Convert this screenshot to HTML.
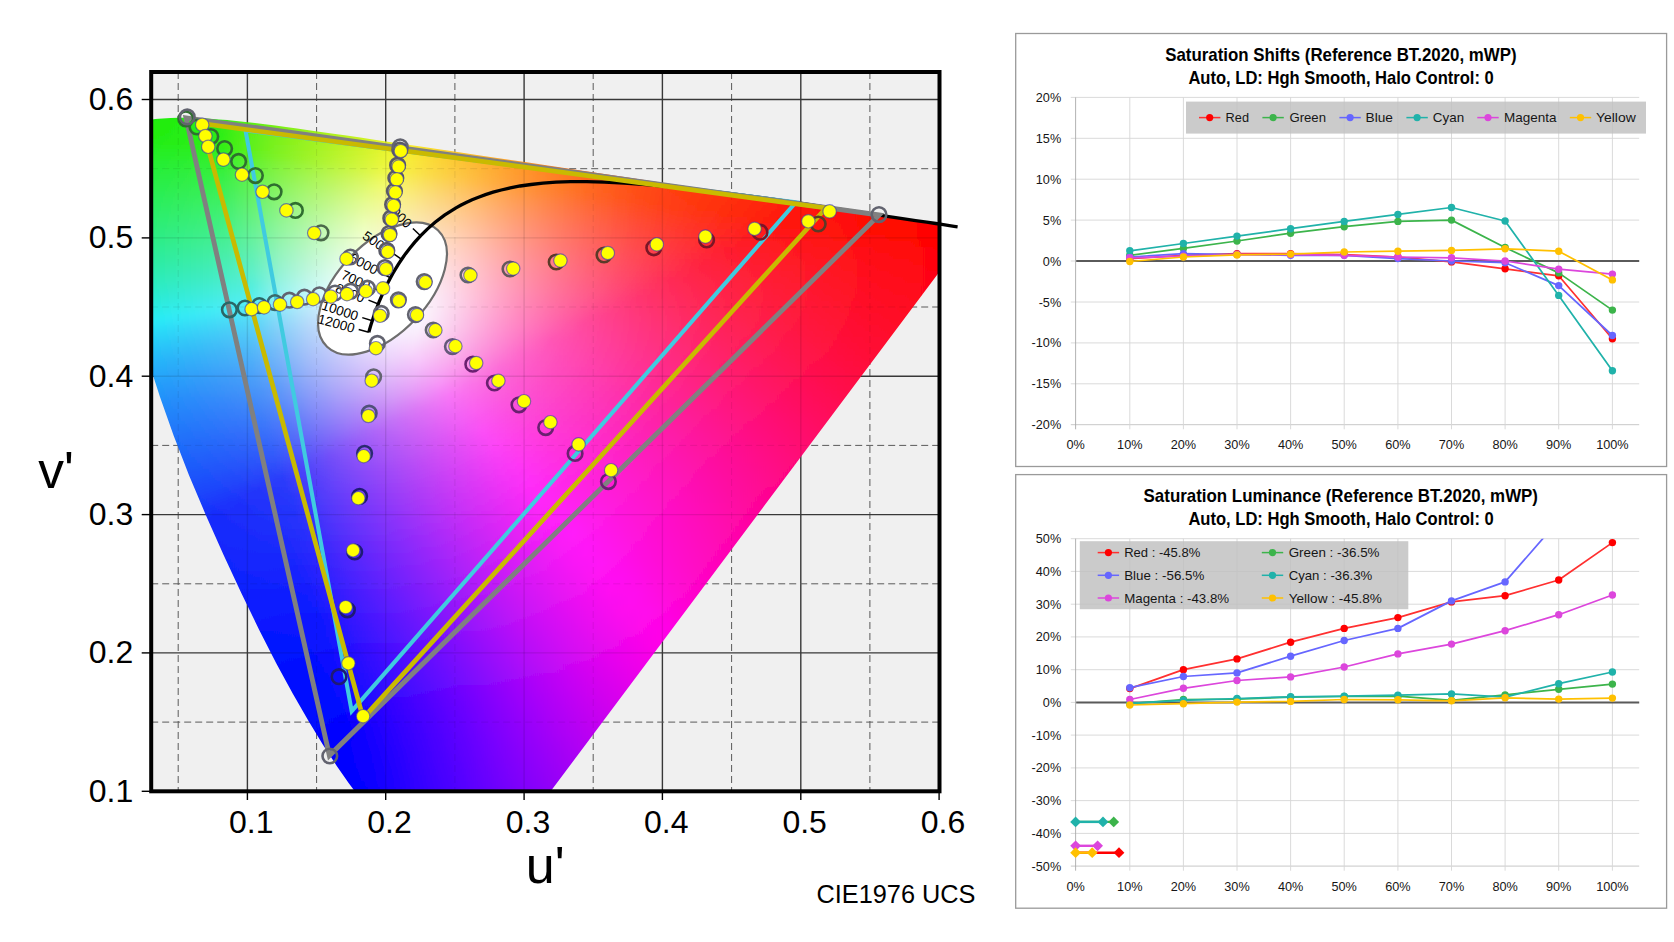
<!DOCTYPE html><html><head><meta charset="utf-8"><title>CIE1976 UCS saturation</title>
<style>html,body{margin:0;padding:0;background:#fff}svg{display:block}text{font-family:"Liberation Sans",Arial,sans-serif}</style></head><body>
<svg width="1674" height="942" viewBox="0 0 1674 942">
<defs>
<clipPath id="frame"><rect x="151.2" y="72.0" width="788.3" height="719.3"/></clipPath>
<clipPath id="loc"><path d="M464.3 906.7 L464.2 906.8 L464.2 906.8 L464.0 906.9 L463.9 907.0 L463.8 907.2 L463.6 907.3 L463.5 907.4 L463.3 907.5 L463.0 907.6 L462.8 907.6 L462.5 907.6 L462.2 907.7 L461.9 907.7 L461.6 907.6 L461.2 907.6 L460.8 907.6 L460.3 907.5 L459.7 907.3 L458.9 906.9 L458.0 906.3 L456.8 905.4 L455.4 904.1 L453.7 902.6 L451.8 900.6 L449.5 898.4 L447.0 895.7 L444.2 892.6 L441.1 889.2 L437.6 885.4 L433.7 881.2 L429.5 876.7 L424.8 871.7 L419.7 866.2 L414.1 860.2 L408.0 853.6 L401.2 846.4 L394.0 838.4 L386.1 829.6 L377.7 819.9 L368.8 809.1 L359.2 797.1 L348.6 783.0 L336.6 765.7 L323.1 744.9 L308.4 720.8 L292.7 693.6 L276.2 663.3 L259.1 629.7 L241.4 593.3 L223.6 554.9 L206.0 515.4 L189.1 475.4 L173.7 435.7 L160.0 397.0 L148.0 360.1 L137.7 325.6 L129.1 294.1 L122.4 266.0 L117.3 241.3 L113.9 219.8 L111.8 201.2 L111.0 185.3 L111.4 171.5 L112.9 159.6 L115.5 149.5 L119.1 141.1 L123.5 134.2 L128.8 128.9 L134.6 124.9 L141.0 122.1 L147.9 120.2 L155.1 119.1 L162.7 118.4 L170.5 118.0 L178.3 117.8 L186.2 117.8 L194.1 118.0 L202.1 118.3 L210.3 118.8 L218.7 119.4 L227.3 120.1 L236.2 121.0 L245.5 122.0 L255.0 123.1 L265.0 124.3 L275.3 125.6 L286.0 127.0 L297.1 128.6 L308.8 130.2 L320.9 131.9 L333.5 133.7 L346.6 135.6 L360.3 137.6 L374.5 139.7 L389.3 141.9 L404.7 144.2 L420.6 146.6 L437.2 149.0 L454.3 151.6 L472.0 154.2 L490.3 157.0 L509.1 159.8 L528.3 162.6 L547.9 165.6 L567.7 168.5 L587.7 171.5 L607.7 174.5 L627.7 177.5 L647.6 180.5 L667.2 183.4 L686.5 186.3 L705.4 189.1 L723.7 191.8 L741.3 194.5 L758.1 197.0 L774.0 199.3 L789.1 201.6 L803.2 203.7 L816.4 205.7 L828.8 207.6 L840.2 209.3 L850.9 210.9 L860.8 212.3 L870.1 213.7 L878.9 215.0 L887.2 216.3 L895.1 217.5 L902.5 218.6 L909.3 219.6 L915.6 220.6 L921.4 221.4 L926.7 222.2 L931.5 222.9 L935.8 223.5 L939.8 224.1 L943.4 224.7 L946.6 225.1 L949.4 225.6 L952.0 226.0 L954.1 226.3 L956.0 226.6 L957.6 226.8 L959.0 227.0 L960.3 227.2 L961.5 227.4 L962.6 227.5 L963.7 227.7 L964.7 227.9 L965.7 228.0 L966.6 228.2 L967.5 228.3 L968.3 228.4 L969.1 228.5 L969.8 228.6 L970.3 228.7 L970.8 228.8 L971.2 228.8 L971.4 228.9 L971.5 228.9 L971.5 228.9Z"/></clipPath>
<filter id="vb" x="0" y="0" width="1" height="1" filterUnits="objectBoundingBox"><feGaussianBlur stdDeviation="0 3"/></filter>
<linearGradient id="g0"><stop offset="0" stop-color="#1cec0f"/><stop offset="0.25" stop-color="#1fec10"/><stop offset="0.5" stop-color="#22ed10"/><stop offset="0.75" stop-color="#25ed11"/><stop offset="1" stop-color="#3aee12"/></linearGradient><linearGradient id="g1"><stop offset="0" stop-color="#1dec0f"/><stop offset="0.1667" stop-color="#20ed10"/><stop offset="0.3333" stop-color="#24ed11"/><stop offset="0.5" stop-color="#27ee12"/><stop offset="0.6667" stop-color="#48ee14"/><stop offset="0.8333" stop-color="#66ef14"/><stop offset="1" stop-color="#7fef14"/></linearGradient><linearGradient id="g2"><stop offset="0" stop-color="#1eec0f"/><stop offset="0.1429" stop-color="#22ed11"/><stop offset="0.2857" stop-color="#26ee12"/><stop offset="0.4286" stop-color="#2eee14"/><stop offset="0.5714" stop-color="#58ef16"/><stop offset="0.7143" stop-color="#76f017"/><stop offset="0.8571" stop-color="#90f017"/><stop offset="1" stop-color="#a9f018"/></linearGradient><linearGradient id="g3"><stop offset="0" stop-color="#1eec10"/><stop offset="0.1111" stop-color="#23ed11"/><stop offset="0.2222" stop-color="#27ee13"/><stop offset="0.3333" stop-color="#2bee15"/><stop offset="0.4444" stop-color="#52ef17"/><stop offset="0.5556" stop-color="#71f019"/><stop offset="0.6667" stop-color="#8af01a"/><stop offset="0.7778" stop-color="#a2f11b"/><stop offset="0.8889" stop-color="#b9f11c"/><stop offset="1" stop-color="#d1f11d"/></linearGradient><linearGradient id="g4"><stop offset="0" stop-color="#1fed10"/><stop offset="0.1" stop-color="#24ed12"/><stop offset="0.2" stop-color="#29ee13"/><stop offset="0.3" stop-color="#2def16"/><stop offset="0.4" stop-color="#5bf019"/><stop offset="0.5" stop-color="#7af01b"/><stop offset="0.6" stop-color="#94f11d"/><stop offset="0.7" stop-color="#adf21f"/><stop offset="0.8" stop-color="#c6f221"/><stop offset="0.9" stop-color="#e0f221"/><stop offset="1" stop-color="#f8ee22"/></linearGradient><linearGradient id="g5"><stop offset="0" stop-color="#20ed18"/><stop offset="0.08333" stop-color="#25ed13"/><stop offset="0.1667" stop-color="#2aee14"/><stop offset="0.25" stop-color="#2eef17"/><stop offset="0.3333" stop-color="#55f01a"/><stop offset="0.4167" stop-color="#75f11d"/><stop offset="0.5" stop-color="#8ff21f"/><stop offset="0.5833" stop-color="#a7f222"/><stop offset="0.6667" stop-color="#bff224"/><stop offset="0.75" stop-color="#d8f326"/><stop offset="0.8333" stop-color="#f2f427"/><stop offset="0.9167" stop-color="#f9e026"/><stop offset="1" stop-color="#fbcc24"/></linearGradient><linearGradient id="g6"><stop offset="0" stop-color="#21ed21"/><stop offset="0.07692" stop-color="#26ee1e"/><stop offset="0.1538" stop-color="#2cee1b"/><stop offset="0.2308" stop-color="#31ef18"/><stop offset="0.3077" stop-color="#5cf01c"/><stop offset="0.3846" stop-color="#7cf120"/><stop offset="0.4615" stop-color="#97f223"/><stop offset="0.5385" stop-color="#b0f327"/><stop offset="0.6154" stop-color="#c9f32a"/><stop offset="0.6923" stop-color="#e4f42b"/><stop offset="0.7692" stop-color="#f8ec2c"/><stop offset="0.8462" stop-color="#fad62a"/><stop offset="0.9231" stop-color="#fcc227"/><stop offset="1" stop-color="#fdae22"/></linearGradient><linearGradient id="g7"><stop offset="0" stop-color="#22ed29"/><stop offset="0.07143" stop-color="#27ee26"/><stop offset="0.1429" stop-color="#2def25"/><stop offset="0.2143" stop-color="#33f024"/><stop offset="0.2857" stop-color="#62f122"/><stop offset="0.3571" stop-color="#82f223"/><stop offset="0.4286" stop-color="#9ef327"/><stop offset="0.5" stop-color="#b8f42c"/><stop offset="0.5714" stop-color="#d2f42f"/><stop offset="0.6429" stop-color="#eff531"/><stop offset="0.7143" stop-color="#f9e432"/><stop offset="0.7857" stop-color="#fbce2f"/><stop offset="0.8571" stop-color="#fdb92a"/><stop offset="0.9286" stop-color="#fea524"/><stop offset="1" stop-color="#fe911e"/></linearGradient><linearGradient id="g8"><stop offset="0" stop-color="#22ed30"/><stop offset="0.0625" stop-color="#28ee2e"/><stop offset="0.125" stop-color="#2eef2d"/><stop offset="0.1875" stop-color="#34f02e"/><stop offset="0.25" stop-color="#5df12e"/><stop offset="0.3125" stop-color="#7ef22e"/><stop offset="0.375" stop-color="#9af32c"/><stop offset="0.4375" stop-color="#b4f42f"/><stop offset="0.5" stop-color="#cdf534"/><stop offset="0.5625" stop-color="#e8f636"/><stop offset="0.625" stop-color="#f8eb38"/><stop offset="0.6875" stop-color="#fad636"/><stop offset="0.75" stop-color="#fdc232"/><stop offset="0.8125" stop-color="#feae2c"/><stop offset="0.875" stop-color="#fe9a25"/><stop offset="0.9375" stop-color="#ff871e"/><stop offset="1" stop-color="#ff7518"/></linearGradient><linearGradient id="g9"><stop offset="0" stop-color="#23ed36"/><stop offset="0.05882" stop-color="#29ee35"/><stop offset="0.1176" stop-color="#30ef35"/><stop offset="0.1765" stop-color="#36f036"/><stop offset="0.2353" stop-color="#62f138"/><stop offset="0.2941" stop-color="#84f33a"/><stop offset="0.3529" stop-color="#a0f43b"/><stop offset="0.4118" stop-color="#bbf53b"/><stop offset="0.4706" stop-color="#d5f63b"/><stop offset="0.5294" stop-color="#f1f73d"/><stop offset="0.5882" stop-color="#f9e43e"/><stop offset="0.6471" stop-color="#fcd03b"/><stop offset="0.7059" stop-color="#fdbb35"/><stop offset="0.7647" stop-color="#fea72e"/><stop offset="0.8235" stop-color="#ff9326"/><stop offset="0.8824" stop-color="#ff7f1f"/><stop offset="0.9412" stop-color="#ff6d19"/><stop offset="1" stop-color="#ff5d13"/></linearGradient><linearGradient id="g10"><stop offset="0" stop-color="#24ed3d"/><stop offset="0.05263" stop-color="#2aee3c"/><stop offset="0.1053" stop-color="#31ef3c"/><stop offset="0.1579" stop-color="#37f03e"/><stop offset="0.2105" stop-color="#5ef141"/><stop offset="0.2632" stop-color="#81f344"/><stop offset="0.3158" stop-color="#9df447"/><stop offset="0.3684" stop-color="#b7f54a"/><stop offset="0.4211" stop-color="#d1f64b"/><stop offset="0.4737" stop-color="#ecf849"/><stop offset="0.5263" stop-color="#f8ea45"/><stop offset="0.5789" stop-color="#fbd643"/><stop offset="0.6316" stop-color="#fdc33e"/><stop offset="0.6842" stop-color="#feaf36"/><stop offset="0.7368" stop-color="#ff9b2e"/><stop offset="0.7895" stop-color="#ff8826"/><stop offset="0.8421" stop-color="#ff751f"/><stop offset="0.8947" stop-color="#ff6418"/><stop offset="0.9474" stop-color="#ff5613"/><stop offset="1" stop-color="#ff490f"/></linearGradient><linearGradient id="g11"><stop offset="0" stop-color="#24ed43"/><stop offset="0.05" stop-color="#2bee43"/><stop offset="0.1" stop-color="#32ef44"/><stop offset="0.15" stop-color="#39f047"/><stop offset="0.2" stop-color="#63f24a"/><stop offset="0.25" stop-color="#86f34f"/><stop offset="0.3" stop-color="#a3f553"/><stop offset="0.35" stop-color="#bef657"/><stop offset="0.4" stop-color="#d8f75a"/><stop offset="0.45" stop-color="#f5f959"/><stop offset="0.5" stop-color="#f9e554"/><stop offset="0.55" stop-color="#fcd24a"/><stop offset="0.6" stop-color="#febe42"/><stop offset="0.65" stop-color="#ffa939"/><stop offset="0.7" stop-color="#ff942f"/><stop offset="0.75" stop-color="#ff8126"/><stop offset="0.8" stop-color="#ff6e1f"/><stop offset="0.85" stop-color="#ff5e19"/><stop offset="0.9" stop-color="#ff4f13"/><stop offset="0.95" stop-color="#ff440f"/><stop offset="1" stop-color="#ff3b0c"/></linearGradient><linearGradient id="g12"><stop offset="0" stop-color="#25ed4a"/><stop offset="0.04545" stop-color="#2cee49"/><stop offset="0.09091" stop-color="#33ef4b"/><stop offset="0.1364" stop-color="#3af04e"/><stop offset="0.1818" stop-color="#5ff252"/><stop offset="0.2273" stop-color="#83f358"/><stop offset="0.2727" stop-color="#a0f55e"/><stop offset="0.3182" stop-color="#bbf663"/><stop offset="0.3636" stop-color="#d5f867"/><stop offset="0.4091" stop-color="#f1fa68"/><stop offset="0.4545" stop-color="#f9ea65"/><stop offset="0.5" stop-color="#fbd75d"/><stop offset="0.5455" stop-color="#fec451"/><stop offset="0.5909" stop-color="#ffb042"/><stop offset="0.6364" stop-color="#ff9b37"/><stop offset="0.6818" stop-color="#ff882d"/><stop offset="0.7273" stop-color="#ff7525"/><stop offset="0.7727" stop-color="#ff641e"/><stop offset="0.8182" stop-color="#ff5518"/><stop offset="0.8636" stop-color="#ff4813"/><stop offset="0.9091" stop-color="#ff3e0f"/><stop offset="0.9545" stop-color="#ff370c"/><stop offset="1" stop-color="#ff310b"/></linearGradient><linearGradient id="g13"><stop offset="0" stop-color="#26ed50"/><stop offset="0.04348" stop-color="#2dee50"/><stop offset="0.08696" stop-color="#35ef52"/><stop offset="0.1304" stop-color="#3cf056"/><stop offset="0.1739" stop-color="#63f25b"/><stop offset="0.2174" stop-color="#88f462"/><stop offset="0.2609" stop-color="#a6f66a"/><stop offset="0.3043" stop-color="#c1f770"/><stop offset="0.3478" stop-color="#dcf975"/><stop offset="0.3913" stop-color="#f7fb76"/><stop offset="0.4348" stop-color="#fae671"/><stop offset="0.4783" stop-color="#fcd368"/><stop offset="0.5217" stop-color="#febf5b"/><stop offset="0.5652" stop-color="#ffaa4c"/><stop offset="0.6087" stop-color="#ff953b"/><stop offset="0.6522" stop-color="#ff812e"/><stop offset="0.6957" stop-color="#ff6f25"/><stop offset="0.7391" stop-color="#ff5e1e"/><stop offset="0.7826" stop-color="#ff4f17"/><stop offset="0.8261" stop-color="#ff4312"/><stop offset="0.8696" stop-color="#ff3a0f"/><stop offset="0.913" stop-color="#ff340d"/><stop offset="0.9565" stop-color="#ff2d0b"/><stop offset="1" stop-color="#ff260a"/></linearGradient><linearGradient id="g14"><stop offset="0" stop-color="#26ed56"/><stop offset="0.04167" stop-color="#2eee57"/><stop offset="0.08333" stop-color="#36ef59"/><stop offset="0.125" stop-color="#3ef05e"/><stop offset="0.1667" stop-color="#67f264"/><stop offset="0.2083" stop-color="#8cf46c"/><stop offset="0.25" stop-color="#abf675"/><stop offset="0.2917" stop-color="#c7f87d"/><stop offset="0.3333" stop-color="#e3fa82"/><stop offset="0.375" stop-color="#f8f683"/><stop offset="0.4167" stop-color="#fae37d"/><stop offset="0.4583" stop-color="#fdd072"/><stop offset="0.5" stop-color="#ffbb64"/><stop offset="0.5417" stop-color="#ffa553"/><stop offset="0.5833" stop-color="#ff9043"/><stop offset="0.625" stop-color="#ff7c34"/><stop offset="0.6667" stop-color="#ff6926"/><stop offset="0.7083" stop-color="#ff581e"/><stop offset="0.75" stop-color="#ff4a17"/><stop offset="0.7917" stop-color="#ff3e12"/><stop offset="0.8333" stop-color="#ff370f"/><stop offset="0.875" stop-color="#ff300d"/><stop offset="0.9167" stop-color="#ff290b"/><stop offset="0.9583" stop-color="#ff210a"/><stop offset="1" stop-color="#ff1709"/></linearGradient><linearGradient id="g15"><stop offset="0" stop-color="#27ed5d"/><stop offset="0.03846" stop-color="#2eee5d"/><stop offset="0.07692" stop-color="#37ef60"/><stop offset="0.1154" stop-color="#3ff065"/><stop offset="0.1538" stop-color="#63f26c"/><stop offset="0.1923" stop-color="#8af475"/><stop offset="0.2308" stop-color="#a9f67e"/><stop offset="0.2692" stop-color="#c5f887"/><stop offset="0.3077" stop-color="#e0fb8e"/><stop offset="0.3462" stop-color="#f8fa90"/><stop offset="0.3846" stop-color="#fae78b"/><stop offset="0.4231" stop-color="#fdd581"/><stop offset="0.4615" stop-color="#fec273"/><stop offset="0.5" stop-color="#ffac63"/><stop offset="0.5385" stop-color="#ff9752"/><stop offset="0.5769" stop-color="#ff8243"/><stop offset="0.6154" stop-color="#ff6f35"/><stop offset="0.6538" stop-color="#ff5e28"/><stop offset="0.6923" stop-color="#ff4f1c"/><stop offset="0.7308" stop-color="#ff4216"/><stop offset="0.7692" stop-color="#ff3911"/><stop offset="0.8077" stop-color="#ff320e"/><stop offset="0.8462" stop-color="#ff2b0c"/><stop offset="0.8846" stop-color="#ff240b"/><stop offset="0.9231" stop-color="#ff1b0a"/><stop offset="0.9615" stop-color="#ff0f08"/><stop offset="1" stop-color="#ff0d07"/></linearGradient><linearGradient id="g16"><stop offset="0" stop-color="#27ed63"/><stop offset="0.03704" stop-color="#2fee64"/><stop offset="0.07407" stop-color="#38ef67"/><stop offset="0.1111" stop-color="#41f06d"/><stop offset="0.1481" stop-color="#67f275"/><stop offset="0.1852" stop-color="#8ef47f"/><stop offset="0.2222" stop-color="#adf789"/><stop offset="0.2593" stop-color="#caf993"/><stop offset="0.2963" stop-color="#e6fc9a"/><stop offset="0.3333" stop-color="#f8f69b"/><stop offset="0.3704" stop-color="#fbe495"/><stop offset="0.4074" stop-color="#fdd38a"/><stop offset="0.4444" stop-color="#ffbe7b"/><stop offset="0.4815" stop-color="#ffa869"/><stop offset="0.5185" stop-color="#ff9257"/><stop offset="0.5556" stop-color="#ff7d48"/><stop offset="0.5926" stop-color="#ff6a3a"/><stop offset="0.6296" stop-color="#ff592e"/><stop offset="0.6667" stop-color="#ff4a22"/><stop offset="0.7037" stop-color="#ff3e17"/><stop offset="0.7407" stop-color="#ff3611"/><stop offset="0.7778" stop-color="#ff2e0e"/><stop offset="0.8148" stop-color="#ff270c"/><stop offset="0.8519" stop-color="#ff1e0b"/><stop offset="0.8889" stop-color="#ff1209"/><stop offset="0.9259" stop-color="#ff0f08"/><stop offset="0.963" stop-color="#ff0c06"/><stop offset="1" stop-color="#ff0804"/></linearGradient><linearGradient id="g17"><stop offset="0" stop-color="#27ed69"/><stop offset="0.03448" stop-color="#2fee6b"/><stop offset="0.06897" stop-color="#38ef6e"/><stop offset="0.1034" stop-color="#41f074"/><stop offset="0.1379" stop-color="#63f27c"/><stop offset="0.1724" stop-color="#8cf486"/><stop offset="0.2069" stop-color="#abf792"/><stop offset="0.2414" stop-color="#c8f99c"/><stop offset="0.2759" stop-color="#e4fca4"/><stop offset="0.3103" stop-color="#f8f9a7"/><stop offset="0.3448" stop-color="#fae8a2"/><stop offset="0.3793" stop-color="#fdd898"/><stop offset="0.4138" stop-color="#ffc489"/><stop offset="0.4483" stop-color="#ffae77"/><stop offset="0.4828" stop-color="#ff9865"/><stop offset="0.5172" stop-color="#ff8354"/><stop offset="0.5517" stop-color="#ff7046"/><stop offset="0.5862" stop-color="#ff5f39"/><stop offset="0.6207" stop-color="#ff4f2d"/><stop offset="0.6552" stop-color="#ff4223"/><stop offset="0.6897" stop-color="#ff381a"/><stop offset="0.7241" stop-color="#ff3012"/><stop offset="0.7586" stop-color="#ff290e"/><stop offset="0.7931" stop-color="#ff200c"/><stop offset="0.8276" stop-color="#ff140a"/><stop offset="0.8621" stop-color="#ff1109"/><stop offset="0.8966" stop-color="#ff0e07"/><stop offset="0.931" stop-color="#ff0b05"/><stop offset="0.9655" stop-color="#ff0703"/><stop offset="1" stop-color="#ff0401"/></linearGradient><linearGradient id="g18"><stop offset="0" stop-color="#28ed70"/><stop offset="0.03448" stop-color="#30ee72"/><stop offset="0.06897" stop-color="#39ef76"/><stop offset="0.1034" stop-color="#43f07c"/><stop offset="0.1379" stop-color="#67f285"/><stop offset="0.1724" stop-color="#90f590"/><stop offset="0.2069" stop-color="#b1f79d"/><stop offset="0.2414" stop-color="#cffaa8"/><stop offset="0.2759" stop-color="#ebfeb0"/><stop offset="0.3103" stop-color="#f9f4b1"/><stop offset="0.3448" stop-color="#fbe5ab"/><stop offset="0.3793" stop-color="#fdd49f"/><stop offset="0.4138" stop-color="#ffbf8e"/><stop offset="0.4483" stop-color="#ffa87a"/><stop offset="0.4828" stop-color="#ff9168"/><stop offset="0.5172" stop-color="#ff7d57"/><stop offset="0.5517" stop-color="#ff6a49"/><stop offset="0.5862" stop-color="#ff583c"/><stop offset="0.6207" stop-color="#ff4930"/><stop offset="0.6552" stop-color="#ff3d26"/><stop offset="0.6897" stop-color="#ff341e"/><stop offset="0.7241" stop-color="#ff2b17"/><stop offset="0.7586" stop-color="#ff2310"/><stop offset="0.7931" stop-color="#ff170b"/><stop offset="0.8276" stop-color="#ff140a"/><stop offset="0.8621" stop-color="#ff1108"/><stop offset="0.8966" stop-color="#ff0d06"/><stop offset="0.931" stop-color="#ff0904"/><stop offset="0.9655" stop-color="#ff0602"/><stop offset="1" stop-color="#ff0200"/></linearGradient><linearGradient id="g19"><stop offset="0" stop-color="#28ed77"/><stop offset="0.03448" stop-color="#30ed79"/><stop offset="0.06897" stop-color="#3aee7d"/><stop offset="0.1034" stop-color="#44f084"/><stop offset="0.1379" stop-color="#67f28d"/><stop offset="0.1724" stop-color="#91f599"/><stop offset="0.2069" stop-color="#b3f7a6"/><stop offset="0.2414" stop-color="#d1fbb1"/><stop offset="0.2759" stop-color="#edfebb"/><stop offset="0.3103" stop-color="#f9f4bb"/><stop offset="0.3448" stop-color="#fbe5b5"/><stop offset="0.3793" stop-color="#fed5a9"/><stop offset="0.4138" stop-color="#ffc097"/><stop offset="0.4483" stop-color="#ffa983"/><stop offset="0.4828" stop-color="#ff9170"/><stop offset="0.5172" stop-color="#ff7c5f"/><stop offset="0.5517" stop-color="#ff6950"/><stop offset="0.5862" stop-color="#ff5842"/><stop offset="0.6207" stop-color="#ff4936"/><stop offset="0.6552" stop-color="#ff3c2c"/><stop offset="0.6897" stop-color="#ff3224"/><stop offset="0.7241" stop-color="#ff2a1d"/><stop offset="0.7586" stop-color="#ff2017"/><stop offset="0.7931" stop-color="#ff1711"/><stop offset="0.8276" stop-color="#ff150b"/><stop offset="0.8621" stop-color="#ff1208"/><stop offset="0.8966" stop-color="#ff0e06"/><stop offset="0.931" stop-color="#ff0a04"/><stop offset="0.9655" stop-color="#ff0601"/><stop offset="1" stop-color="#ff0200"/></linearGradient><linearGradient id="g20"><stop offset="0" stop-color="#28ed7d"/><stop offset="0.03448" stop-color="#31ed80"/><stop offset="0.06897" stop-color="#3bee84"/><stop offset="0.1034" stop-color="#45f08b"/><stop offset="0.1379" stop-color="#67f295"/><stop offset="0.1724" stop-color="#92f5a1"/><stop offset="0.2069" stop-color="#b4f8ae"/><stop offset="0.2414" stop-color="#d3fbba"/><stop offset="0.2759" stop-color="#efffc5"/><stop offset="0.3103" stop-color="#f9f4c4"/><stop offset="0.3448" stop-color="#fbe6be"/><stop offset="0.3793" stop-color="#fed7b3"/><stop offset="0.4138" stop-color="#ffc1a0"/><stop offset="0.4483" stop-color="#ffa98b"/><stop offset="0.4828" stop-color="#ff9177"/><stop offset="0.5172" stop-color="#ff7c65"/><stop offset="0.5517" stop-color="#ff6956"/><stop offset="0.5862" stop-color="#ff5848"/><stop offset="0.6207" stop-color="#ff483c"/><stop offset="0.6552" stop-color="#ff3b31"/><stop offset="0.6897" stop-color="#ff3129"/><stop offset="0.7241" stop-color="#ff2822"/><stop offset="0.7586" stop-color="#ff1d1c"/><stop offset="0.7931" stop-color="#ff1816"/><stop offset="0.8276" stop-color="#ff1611"/><stop offset="0.8621" stop-color="#ff120b"/><stop offset="0.8966" stop-color="#ff0e05"/><stop offset="0.931" stop-color="#ff0a03"/><stop offset="0.9655" stop-color="#ff0601"/><stop offset="1" stop-color="#ff0300"/></linearGradient><linearGradient id="g21"><stop offset="0" stop-color="#28ed84"/><stop offset="0.03448" stop-color="#31ed87"/><stop offset="0.06897" stop-color="#3bee8c"/><stop offset="0.1034" stop-color="#46ef93"/><stop offset="0.1379" stop-color="#67f29d"/><stop offset="0.1724" stop-color="#93f4a9"/><stop offset="0.2069" stop-color="#b6f8b7"/><stop offset="0.2414" stop-color="#d5fbc3"/><stop offset="0.2759" stop-color="#f1ffce"/><stop offset="0.3103" stop-color="#f9f4cd"/><stop offset="0.3448" stop-color="#fbe7c7"/><stop offset="0.3793" stop-color="#fed8bb"/><stop offset="0.4138" stop-color="#ffc2a8"/><stop offset="0.4483" stop-color="#ffa992"/><stop offset="0.4828" stop-color="#ff917e"/><stop offset="0.5172" stop-color="#ff7c6c"/><stop offset="0.5517" stop-color="#ff695d"/><stop offset="0.5862" stop-color="#ff574e"/><stop offset="0.6207" stop-color="#ff4842"/><stop offset="0.6552" stop-color="#ff3b37"/><stop offset="0.6897" stop-color="#ff302e"/><stop offset="0.7241" stop-color="#ff2626"/><stop offset="0.7586" stop-color="#ff1a20"/><stop offset="0.7931" stop-color="#ff191b"/><stop offset="0.8276" stop-color="#ff1616"/><stop offset="0.8621" stop-color="#ff1310"/><stop offset="0.8966" stop-color="#ff0f0b"/><stop offset="0.931" stop-color="#ff0a05"/><stop offset="0.9655" stop-color="#ff0601"/><stop offset="1" stop-color="#ff0300"/></linearGradient><linearGradient id="g22"><stop offset="0" stop-color="#28ec8b"/><stop offset="0.03448" stop-color="#31ed8e"/><stop offset="0.06897" stop-color="#3cee93"/><stop offset="0.1034" stop-color="#47ef9a"/><stop offset="0.1379" stop-color="#66f1a4"/><stop offset="0.1724" stop-color="#94f4b1"/><stop offset="0.2069" stop-color="#b7f8be"/><stop offset="0.2414" stop-color="#d7fccb"/><stop offset="0.2759" stop-color="#f3ffd7"/><stop offset="0.3103" stop-color="#f9f3d5"/><stop offset="0.3448" stop-color="#fbe8cf"/><stop offset="0.3793" stop-color="#fed9c3"/><stop offset="0.4138" stop-color="#ffc2b0"/><stop offset="0.4483" stop-color="#ffa999"/><stop offset="0.4828" stop-color="#ff9184"/><stop offset="0.5172" stop-color="#ff7b72"/><stop offset="0.5517" stop-color="#ff6862"/><stop offset="0.5862" stop-color="#ff5754"/><stop offset="0.6207" stop-color="#ff4747"/><stop offset="0.6552" stop-color="#ff393c"/><stop offset="0.6897" stop-color="#ff2e32"/><stop offset="0.7241" stop-color="#ff222b"/><stop offset="0.7586" stop-color="#ff1b24"/><stop offset="0.7931" stop-color="#ff1a1f"/><stop offset="0.8276" stop-color="#ff171a"/><stop offset="0.8621" stop-color="#ff1314"/><stop offset="0.8966" stop-color="#ff0f0f"/><stop offset="0.931" stop-color="#ff0b0a"/><stop offset="0.9655" stop-color="#ff0605"/><stop offset="1" stop-color="#ff0300"/></linearGradient><linearGradient id="g23"><stop offset="0" stop-color="#28ec92"/><stop offset="0.03448" stop-color="#31ed96"/><stop offset="0.06897" stop-color="#3ced9b"/><stop offset="0.1034" stop-color="#48efa2"/><stop offset="0.1379" stop-color="#65f1ac"/><stop offset="0.1724" stop-color="#95f4b9"/><stop offset="0.2069" stop-color="#b9f8c6"/><stop offset="0.2414" stop-color="#d9fcd3"/><stop offset="0.2759" stop-color="#f5ffdf"/><stop offset="0.3103" stop-color="#f9f3dc"/><stop offset="0.3448" stop-color="#fbe9d7"/><stop offset="0.3793" stop-color="#fed9ca"/><stop offset="0.4138" stop-color="#ffc3b7"/><stop offset="0.4483" stop-color="#ffa9a0"/><stop offset="0.4828" stop-color="#ff908b"/><stop offset="0.5172" stop-color="#ff7a78"/><stop offset="0.5517" stop-color="#ff6768"/><stop offset="0.5862" stop-color="#ff5659"/><stop offset="0.6207" stop-color="#ff464c"/><stop offset="0.6552" stop-color="#ff3840"/><stop offset="0.6897" stop-color="#ff2c37"/><stop offset="0.7241" stop-color="#ff1e2f"/><stop offset="0.7586" stop-color="#ff1c28"/><stop offset="0.7931" stop-color="#ff1a22"/><stop offset="0.8276" stop-color="#ff181d"/><stop offset="0.8621" stop-color="#ff1418"/><stop offset="0.8966" stop-color="#ff0f13"/><stop offset="0.931" stop-color="#ff0b0e"/><stop offset="0.9655" stop-color="#ff0709"/><stop offset="1" stop-color="#ff0304"/></linearGradient><linearGradient id="g24"><stop offset="0" stop-color="#28ec9a"/><stop offset="0.03448" stop-color="#31ec9d"/><stop offset="0.06897" stop-color="#3ceda2"/><stop offset="0.1034" stop-color="#48eeaa"/><stop offset="0.1379" stop-color="#63f1b4"/><stop offset="0.1724" stop-color="#95f4c0"/><stop offset="0.2069" stop-color="#baf7cd"/><stop offset="0.2414" stop-color="#dbfcdb"/><stop offset="0.2759" stop-color="#f7ffe7"/><stop offset="0.3103" stop-color="#f9f4e3"/><stop offset="0.3448" stop-color="#fbeade"/><stop offset="0.3793" stop-color="#fedad1"/><stop offset="0.4138" stop-color="#ffc3bd"/><stop offset="0.4483" stop-color="#ffa9a6"/><stop offset="0.4828" stop-color="#ff8f90"/><stop offset="0.5172" stop-color="#ff7a7e"/><stop offset="0.5517" stop-color="#ff666d"/><stop offset="0.5862" stop-color="#ff555e"/><stop offset="0.6207" stop-color="#ff4551"/><stop offset="0.6552" stop-color="#ff3645"/><stop offset="0.6897" stop-color="#ff293b"/><stop offset="0.7241" stop-color="#ff1f32"/><stop offset="0.7586" stop-color="#ff1d2c"/><stop offset="0.7931" stop-color="#ff1b26"/><stop offset="0.8276" stop-color="#ff1820"/><stop offset="0.8621" stop-color="#ff141b"/><stop offset="0.8966" stop-color="#ff1016"/><stop offset="0.931" stop-color="#ff0b11"/><stop offset="0.9655" stop-color="#ff070d"/><stop offset="1" stop-color="#ff0308"/></linearGradient><linearGradient id="g25"><stop offset="0" stop-color="#28eca1"/><stop offset="0.03448" stop-color="#31eca5"/><stop offset="0.06897" stop-color="#3cedaa"/><stop offset="0.1034" stop-color="#49eeb2"/><stop offset="0.1379" stop-color="#62f0bc"/><stop offset="0.1724" stop-color="#96f3c8"/><stop offset="0.2069" stop-color="#bcf7d4"/><stop offset="0.2414" stop-color="#ddfce2"/><stop offset="0.2759" stop-color="#f7ffec"/><stop offset="0.3103" stop-color="#f9f4e9"/><stop offset="0.3448" stop-color="#fbebe4"/><stop offset="0.3793" stop-color="#fedbd7"/><stop offset="0.4138" stop-color="#ffc3c3"/><stop offset="0.4483" stop-color="#ffa8ab"/><stop offset="0.4828" stop-color="#ff8f96"/><stop offset="0.5172" stop-color="#ff7983"/><stop offset="0.5517" stop-color="#ff6572"/><stop offset="0.5862" stop-color="#ff5463"/><stop offset="0.6207" stop-color="#ff4355"/><stop offset="0.6552" stop-color="#ff3449"/><stop offset="0.6897" stop-color="#ff253f"/><stop offset="0.7241" stop-color="#ff2036"/><stop offset="0.7586" stop-color="#ff1e2f"/><stop offset="0.7931" stop-color="#ff1c29"/><stop offset="0.8276" stop-color="#ff1923"/><stop offset="0.8621" stop-color="#ff141e"/><stop offset="0.8966" stop-color="#ff1019"/><stop offset="0.931" stop-color="#ff0b14"/><stop offset="0.9655" stop-color="#ff0710"/><stop offset="1" stop-color="#ff030b"/></linearGradient><linearGradient id="g26"><stop offset="0" stop-color="#28eca9"/><stop offset="0.03448" stop-color="#31ecad"/><stop offset="0.06897" stop-color="#3cecb2"/><stop offset="0.1034" stop-color="#49eeba"/><stop offset="0.1379" stop-color="#60f0c4"/><stop offset="0.1724" stop-color="#96f3cf"/><stop offset="0.2069" stop-color="#bdf7db"/><stop offset="0.2414" stop-color="#dffce8"/><stop offset="0.2759" stop-color="#f7fef1"/><stop offset="0.3103" stop-color="#f9f4ef"/><stop offset="0.3448" stop-color="#fbecea"/><stop offset="0.3793" stop-color="#fddcdd"/><stop offset="0.4138" stop-color="#ffc3c8"/><stop offset="0.4483" stop-color="#ffa7b1"/><stop offset="0.4828" stop-color="#ff8e9b"/><stop offset="0.5172" stop-color="#ff7788"/><stop offset="0.5517" stop-color="#ff6477"/><stop offset="0.5862" stop-color="#ff5268"/><stop offset="0.6207" stop-color="#ff425a"/><stop offset="0.6552" stop-color="#ff324d"/><stop offset="0.6897" stop-color="#ff2442"/><stop offset="0.7241" stop-color="#ff213a"/><stop offset="0.7586" stop-color="#ff1f32"/><stop offset="0.7931" stop-color="#ff1c2c"/><stop offset="0.8276" stop-color="#ff1926"/><stop offset="0.8621" stop-color="#ff1520"/><stop offset="0.8966" stop-color="#ff101b"/><stop offset="0.931" stop-color="#ff0b17"/><stop offset="0.9655" stop-color="#ff0712"/><stop offset="1" stop-color="#ff030e"/></linearGradient><linearGradient id="g27"><stop offset="0" stop-color="#28ecb1"/><stop offset="0.03448" stop-color="#31ecb5"/><stop offset="0.06897" stop-color="#3cecbb"/><stop offset="0.1034" stop-color="#49edc2"/><stop offset="0.1379" stop-color="#5ef0cb"/><stop offset="0.1724" stop-color="#96f3d6"/><stop offset="0.2069" stop-color="#bff7e2"/><stop offset="0.2414" stop-color="#e1fcef"/><stop offset="0.2759" stop-color="#f7fdf6"/><stop offset="0.3103" stop-color="#f9f5f4"/><stop offset="0.3448" stop-color="#fbeef0"/><stop offset="0.3793" stop-color="#fddde1"/><stop offset="0.4138" stop-color="#ffc3cc"/><stop offset="0.4483" stop-color="#ffa6b5"/><stop offset="0.4828" stop-color="#ff8c9f"/><stop offset="0.5172" stop-color="#ff768d"/><stop offset="0.5517" stop-color="#ff637c"/><stop offset="0.5862" stop-color="#ff506c"/><stop offset="0.6207" stop-color="#ff3f5e"/><stop offset="0.6552" stop-color="#ff2e51"/><stop offset="0.6897" stop-color="#ff2546"/><stop offset="0.7241" stop-color="#ff223d"/><stop offset="0.7586" stop-color="#ff1f35"/><stop offset="0.7931" stop-color="#ff1d2f"/><stop offset="0.8276" stop-color="#ff1929"/><stop offset="0.8621" stop-color="#ff1523"/><stop offset="0.8966" stop-color="#ff101d"/><stop offset="0.931" stop-color="#ff0b19"/><stop offset="0.9655" stop-color="#ff0715"/><stop offset="1" stop-color="#ff0311"/></linearGradient><linearGradient id="g28"><stop offset="0" stop-color="#27ecb9"/><stop offset="0.03448" stop-color="#31ecbd"/><stop offset="0.06897" stop-color="#3cecc3"/><stop offset="0.1034" stop-color="#49edca"/><stop offset="0.1379" stop-color="#5befd4"/><stop offset="0.1724" stop-color="#96f3de"/><stop offset="0.2069" stop-color="#c0f7e9"/><stop offset="0.2414" stop-color="#e3fcf5"/><stop offset="0.2759" stop-color="#f7fcfa"/><stop offset="0.3103" stop-color="#f9f6f8"/><stop offset="0.3448" stop-color="#fbf0f4"/><stop offset="0.3793" stop-color="#fddde5"/><stop offset="0.4138" stop-color="#ffc2d0"/><stop offset="0.4483" stop-color="#ffa5b9"/><stop offset="0.4828" stop-color="#ff8ba4"/><stop offset="0.5172" stop-color="#ff7491"/><stop offset="0.5517" stop-color="#ff6180"/><stop offset="0.5862" stop-color="#ff4e71"/><stop offset="0.6207" stop-color="#ff3d62"/><stop offset="0.6552" stop-color="#ff2a55"/><stop offset="0.6897" stop-color="#ff264a"/><stop offset="0.7241" stop-color="#ff2340"/><stop offset="0.7586" stop-color="#ff2038"/><stop offset="0.7931" stop-color="#ff1d31"/><stop offset="0.8276" stop-color="#ff192b"/><stop offset="0.8621" stop-color="#ff1525"/><stop offset="0.8966" stop-color="#ff1020"/><stop offset="0.931" stop-color="#ff0b1b"/><stop offset="0.9655" stop-color="#ff0717"/><stop offset="1" stop-color="#ff0313"/></linearGradient><linearGradient id="g29"><stop offset="0" stop-color="#27ecc1"/><stop offset="0.03448" stop-color="#30ebc6"/><stop offset="0.06897" stop-color="#3ceccc"/><stop offset="0.1034" stop-color="#49edd3"/><stop offset="0.1379" stop-color="#56efdc"/><stop offset="0.1724" stop-color="#96f3e6"/><stop offset="0.2069" stop-color="#c1f7f0"/><stop offset="0.2414" stop-color="#e4fdfb"/><stop offset="0.2759" stop-color="#f7fbfd"/><stop offset="0.3103" stop-color="#f9f7fb"/><stop offset="0.3448" stop-color="#fbf2f8"/><stop offset="0.3793" stop-color="#fddee9"/><stop offset="0.4138" stop-color="#ffc2d4"/><stop offset="0.4483" stop-color="#ffa5be"/><stop offset="0.4828" stop-color="#ff8aa8"/><stop offset="0.5172" stop-color="#ff7396"/><stop offset="0.5517" stop-color="#ff5f85"/><stop offset="0.5862" stop-color="#ff4d75"/><stop offset="0.6207" stop-color="#ff3a66"/><stop offset="0.6552" stop-color="#ff2c59"/><stop offset="0.6897" stop-color="#ff274e"/><stop offset="0.7241" stop-color="#ff2344"/><stop offset="0.7586" stop-color="#ff203c"/><stop offset="0.7931" stop-color="#ff1d34"/><stop offset="0.8276" stop-color="#ff192e"/><stop offset="0.8621" stop-color="#ff1527"/><stop offset="0.8966" stop-color="#ff1022"/><stop offset="0.931" stop-color="#ff0b1d"/><stop offset="0.9655" stop-color="#ff071a"/><stop offset="1" stop-color="#ff0315"/></linearGradient><linearGradient id="g30"><stop offset="0" stop-color="#27ecca"/><stop offset="0.03448" stop-color="#30ebcf"/><stop offset="0.06897" stop-color="#3cecd5"/><stop offset="0.1034" stop-color="#49eddc"/><stop offset="0.1379" stop-color="#56efe4"/><stop offset="0.1724" stop-color="#95f2ed"/><stop offset="0.2069" stop-color="#c1f7f7"/><stop offset="0.2414" stop-color="#e5fcff"/><stop offset="0.2759" stop-color="#f7faff"/><stop offset="0.3103" stop-color="#f9f8fe"/><stop offset="0.3448" stop-color="#fbf5fc"/><stop offset="0.3793" stop-color="#fde0ed"/><stop offset="0.4138" stop-color="#fec3d8"/><stop offset="0.4483" stop-color="#ffa5c3"/><stop offset="0.4828" stop-color="#ff8aae"/><stop offset="0.5172" stop-color="#ff739b"/><stop offset="0.5517" stop-color="#ff5f8b"/><stop offset="0.5862" stop-color="#ff4c7b"/><stop offset="0.6207" stop-color="#ff386c"/><stop offset="0.6552" stop-color="#ff2d5e"/><stop offset="0.6897" stop-color="#ff2852"/><stop offset="0.7241" stop-color="#ff2448"/><stop offset="0.7586" stop-color="#ff213f"/><stop offset="0.7931" stop-color="#ff1e38"/><stop offset="0.8276" stop-color="#ff1a31"/><stop offset="0.8621" stop-color="#ff152a"/><stop offset="0.8966" stop-color="#ff1125"/><stop offset="0.931" stop-color="#ff0c20"/><stop offset="0.9655" stop-color="#ff071c"/><stop offset="1" stop-color="#ff0418"/></linearGradient><linearGradient id="g31"><stop offset="0" stop-color="#26ecd2"/><stop offset="0.03448" stop-color="#2febd8"/><stop offset="0.06897" stop-color="#3becde"/><stop offset="0.1034" stop-color="#49ece5"/><stop offset="0.1379" stop-color="#56efed"/><stop offset="0.1724" stop-color="#93f2f5"/><stop offset="0.2069" stop-color="#bff5fc"/><stop offset="0.2414" stop-color="#e0f6ff"/><stop offset="0.2759" stop-color="#f7f9ff"/><stop offset="0.3103" stop-color="#f8f8ff"/><stop offset="0.3448" stop-color="#faf8ff"/><stop offset="0.3793" stop-color="#fce1f1"/><stop offset="0.4138" stop-color="#fec4dc"/><stop offset="0.4483" stop-color="#ffa5c7"/><stop offset="0.4828" stop-color="#ff89b3"/><stop offset="0.5172" stop-color="#ff72a0"/><stop offset="0.5517" stop-color="#ff5e90"/><stop offset="0.5862" stop-color="#ff4a80"/><stop offset="0.6207" stop-color="#ff3671"/><stop offset="0.6552" stop-color="#ff2f63"/><stop offset="0.6897" stop-color="#ff2957"/><stop offset="0.7241" stop-color="#ff254c"/><stop offset="0.7586" stop-color="#ff2243"/><stop offset="0.7931" stop-color="#ff1e3b"/><stop offset="0.8276" stop-color="#ff1a34"/><stop offset="0.8621" stop-color="#ff162d"/><stop offset="0.8966" stop-color="#ff1127"/><stop offset="0.931" stop-color="#ff0c23"/><stop offset="0.9655" stop-color="#ff081f"/><stop offset="1" stop-color="#ff041b"/></linearGradient><linearGradient id="g32"><stop offset="0" stop-color="#26ecdb"/><stop offset="0.03448" stop-color="#2febe1"/><stop offset="0.06897" stop-color="#3bece7"/><stop offset="0.1034" stop-color="#48ecee"/><stop offset="0.1379" stop-color="#56eff6"/><stop offset="0.1724" stop-color="#90eef9"/><stop offset="0.2069" stop-color="#bbeefb"/><stop offset="0.2414" stop-color="#dcf0fe"/><stop offset="0.2759" stop-color="#f3f5ff"/><stop offset="0.3103" stop-color="#f8f8ff"/><stop offset="0.3448" stop-color="#fafbff"/><stop offset="0.3793" stop-color="#fce3f3"/><stop offset="0.4138" stop-color="#fec4e0"/><stop offset="0.4483" stop-color="#ffa5cb"/><stop offset="0.4828" stop-color="#ff89b7"/><stop offset="0.5172" stop-color="#ff71a5"/><stop offset="0.5517" stop-color="#ff5d95"/><stop offset="0.5862" stop-color="#ff4885"/><stop offset="0.6207" stop-color="#ff3776"/><stop offset="0.6552" stop-color="#ff3068"/><stop offset="0.6897" stop-color="#ff2a5c"/><stop offset="0.7241" stop-color="#ff2651"/><stop offset="0.7586" stop-color="#ff2247"/><stop offset="0.7931" stop-color="#ff1e3f"/><stop offset="0.8276" stop-color="#ff1b38"/><stop offset="0.8621" stop-color="#ff1631"/><stop offset="0.8966" stop-color="#ff112a"/><stop offset="0.931" stop-color="#ff0d25"/><stop offset="0.9655" stop-color="#ff0821"/><stop offset="1" stop-color="#ff041e"/></linearGradient><linearGradient id="g33"><stop offset="0" stop-color="#25ece4"/><stop offset="0.03448" stop-color="#2eecea"/><stop offset="0.06897" stop-color="#3aecf1"/><stop offset="0.1034" stop-color="#48ecf7"/><stop offset="0.1379" stop-color="#55e7f7"/><stop offset="0.1724" stop-color="#8be6f9"/><stop offset="0.2069" stop-color="#b6e7fa"/><stop offset="0.2414" stop-color="#d7ebfd"/><stop offset="0.2759" stop-color="#f0f1ff"/><stop offset="0.3103" stop-color="#f8f8ff"/><stop offset="0.3448" stop-color="#f9ffff"/><stop offset="0.3793" stop-color="#fce3f5"/><stop offset="0.4138" stop-color="#fdc4e2"/><stop offset="0.4483" stop-color="#fea5cf"/><stop offset="0.4828" stop-color="#ff88bb"/><stop offset="0.5172" stop-color="#ff70aa"/><stop offset="0.5517" stop-color="#ff5b9a"/><stop offset="0.5862" stop-color="#ff458b"/><stop offset="0.6207" stop-color="#ff397b"/><stop offset="0.6552" stop-color="#ff316d"/><stop offset="0.6897" stop-color="#ff2b60"/><stop offset="0.7241" stop-color="#ff2655"/><stop offset="0.7586" stop-color="#ff224b"/><stop offset="0.7931" stop-color="#ff1f43"/><stop offset="0.8276" stop-color="#ff1b3b"/><stop offset="0.8621" stop-color="#ff1634"/><stop offset="0.8966" stop-color="#ff122d"/><stop offset="0.931" stop-color="#ff0d27"/><stop offset="0.9655" stop-color="#ff0924"/><stop offset="1" stop-color="#ff0520"/></linearGradient><linearGradient id="g34"><stop offset="0" stop-color="#25ecee"/><stop offset="0.03448" stop-color="#2eecf4"/><stop offset="0.06897" stop-color="#39e8f7"/><stop offset="0.1034" stop-color="#47e3f7"/><stop offset="0.1379" stop-color="#55dff8"/><stop offset="0.1724" stop-color="#87def8"/><stop offset="0.2069" stop-color="#b2e1fa"/><stop offset="0.2414" stop-color="#d3e6fd"/><stop offset="0.2759" stop-color="#ecedff"/><stop offset="0.3103" stop-color="#f8f6ff"/><stop offset="0.3448" stop-color="#f9ffff"/><stop offset="0.3793" stop-color="#fbe3f6"/><stop offset="0.4138" stop-color="#fdc3e5"/><stop offset="0.4483" stop-color="#fea4d2"/><stop offset="0.4828" stop-color="#ff87bf"/><stop offset="0.5172" stop-color="#ff6fae"/><stop offset="0.5517" stop-color="#ff599e"/><stop offset="0.5862" stop-color="#ff438f"/><stop offset="0.6207" stop-color="#ff3a80"/><stop offset="0.6552" stop-color="#ff3272"/><stop offset="0.6897" stop-color="#ff2c65"/><stop offset="0.7241" stop-color="#ff275a"/><stop offset="0.7586" stop-color="#ff234f"/><stop offset="0.7931" stop-color="#ff1f47"/><stop offset="0.8276" stop-color="#ff1b3f"/><stop offset="0.8621" stop-color="#ff1737"/><stop offset="0.8966" stop-color="#ff1230"/><stop offset="0.931" stop-color="#ff0d2a"/><stop offset="0.9655" stop-color="#ff0926"/><stop offset="1" stop-color="#ff0522"/></linearGradient><linearGradient id="g35"><stop offset="0" stop-color="#25edf8"/><stop offset="0.03571" stop-color="#2ee5f8"/><stop offset="0.07143" stop-color="#3adff7"/><stop offset="0.1071" stop-color="#48daf7"/><stop offset="0.1429" stop-color="#56d7f8"/><stop offset="0.1786" stop-color="#8bd8f9"/><stop offset="0.2143" stop-color="#b6dcfa"/><stop offset="0.25" stop-color="#d6e3fd"/><stop offset="0.2857" stop-color="#eeecff"/><stop offset="0.3214" stop-color="#f8f7ff"/><stop offset="0.3571" stop-color="#f9f4ff"/><stop offset="0.3929" stop-color="#fbd6f1"/><stop offset="0.4286" stop-color="#fdb4df"/><stop offset="0.4643" stop-color="#fe95cc"/><stop offset="0.5" stop-color="#ff79ba"/><stop offset="0.5357" stop-color="#ff60aa"/><stop offset="0.5714" stop-color="#ff489a"/><stop offset="0.6071" stop-color="#ff3e8b"/><stop offset="0.6429" stop-color="#ff367c"/><stop offset="0.6786" stop-color="#ff2f6e"/><stop offset="0.7143" stop-color="#ff2961"/><stop offset="0.75" stop-color="#ff2456"/><stop offset="0.7857" stop-color="#ff204c"/><stop offset="0.8214" stop-color="#ff1c44"/><stop offset="0.8571" stop-color="#ff173b"/><stop offset="0.8929" stop-color="#ff1334"/><stop offset="0.9286" stop-color="#ff0e2d"/><stop offset="0.9643" stop-color="#ff0a28"/><stop offset="1" stop-color="#ff0625"/></linearGradient><linearGradient id="g36"><stop offset="0" stop-color="#24e4f9"/><stop offset="0.03571" stop-color="#2ddcf8"/><stop offset="0.07143" stop-color="#39d6f8"/><stop offset="0.1071" stop-color="#47d2f7"/><stop offset="0.1429" stop-color="#55d0f8"/><stop offset="0.1786" stop-color="#87d1f9"/><stop offset="0.2143" stop-color="#b2d6fa"/><stop offset="0.25" stop-color="#d2defc"/><stop offset="0.2857" stop-color="#ebe8ff"/><stop offset="0.3214" stop-color="#f8f3ff"/><stop offset="0.3571" stop-color="#f9f0fd"/><stop offset="0.3929" stop-color="#fbd4f1"/><stop offset="0.4286" stop-color="#fdb3e1"/><stop offset="0.4643" stop-color="#fe93cf"/><stop offset="0.5" stop-color="#ff77be"/><stop offset="0.5357" stop-color="#ff5eae"/><stop offset="0.5714" stop-color="#ff499f"/><stop offset="0.6071" stop-color="#ff3f90"/><stop offset="0.6429" stop-color="#ff3681"/><stop offset="0.6786" stop-color="#ff2f73"/><stop offset="0.7143" stop-color="#ff2966"/><stop offset="0.75" stop-color="#ff245a"/><stop offset="0.7857" stop-color="#ff2050"/><stop offset="0.8214" stop-color="#ff1c47"/><stop offset="0.8571" stop-color="#ff173f"/><stop offset="0.8929" stop-color="#ff1337"/><stop offset="0.9286" stop-color="#ff0e30"/><stop offset="0.9643" stop-color="#ff0a2b"/><stop offset="1" stop-color="#ff0627"/></linearGradient><linearGradient id="g37"><stop offset="0" stop-color="#24dbf9"/><stop offset="0.03571" stop-color="#2dd4f8"/><stop offset="0.07143" stop-color="#38cef8"/><stop offset="0.1071" stop-color="#46caf8"/><stop offset="0.1429" stop-color="#54c9f8"/><stop offset="0.1786" stop-color="#82cbf8"/><stop offset="0.2143" stop-color="#add1fa"/><stop offset="0.25" stop-color="#ced9fb"/><stop offset="0.2857" stop-color="#e7e3fe"/><stop offset="0.3214" stop-color="#f6eeff"/><stop offset="0.3571" stop-color="#f9ebfc"/><stop offset="0.3929" stop-color="#fad1f2"/><stop offset="0.4286" stop-color="#fcb0e2"/><stop offset="0.4643" stop-color="#fe91d2"/><stop offset="0.5" stop-color="#fe74c1"/><stop offset="0.5357" stop-color="#ff5ab1"/><stop offset="0.5714" stop-color="#ff49a3"/><stop offset="0.6071" stop-color="#ff3f94"/><stop offset="0.6429" stop-color="#ff3786"/><stop offset="0.6786" stop-color="#ff3078"/><stop offset="0.7143" stop-color="#ff296b"/><stop offset="0.75" stop-color="#ff245f"/><stop offset="0.7857" stop-color="#ff2055"/><stop offset="0.8214" stop-color="#ff1b4b"/><stop offset="0.8571" stop-color="#ff1742"/><stop offset="0.8929" stop-color="#ff133a"/><stop offset="0.9286" stop-color="#ff0e32"/><stop offset="0.9643" stop-color="#ff0a2d"/><stop offset="1" stop-color="#ff0629"/></linearGradient><linearGradient id="g38"><stop offset="0" stop-color="#23d3f9"/><stop offset="0.03571" stop-color="#2cccf8"/><stop offset="0.07143" stop-color="#37c6f8"/><stop offset="0.1071" stop-color="#45c3f8"/><stop offset="0.1429" stop-color="#52c3f8"/><stop offset="0.1786" stop-color="#7ec6f9"/><stop offset="0.2143" stop-color="#a9ccf9"/><stop offset="0.25" stop-color="#cad4fb"/><stop offset="0.2857" stop-color="#e3defd"/><stop offset="0.3214" stop-color="#f3e7ff"/><stop offset="0.3571" stop-color="#f8e5fc"/><stop offset="0.3929" stop-color="#facdf2"/><stop offset="0.4286" stop-color="#fcade4"/><stop offset="0.4643" stop-color="#fd8ed4"/><stop offset="0.5" stop-color="#fe71c4"/><stop offset="0.5357" stop-color="#ff55b5"/><stop offset="0.5714" stop-color="#ff4aa7"/><stop offset="0.6071" stop-color="#ff4099"/><stop offset="0.6429" stop-color="#ff378a"/><stop offset="0.6786" stop-color="#ff307c"/><stop offset="0.7143" stop-color="#ff296f"/><stop offset="0.75" stop-color="#ff2463"/><stop offset="0.7857" stop-color="#ff1f59"/><stop offset="0.8214" stop-color="#ff1b4f"/><stop offset="0.8571" stop-color="#ff1746"/><stop offset="0.8929" stop-color="#ff133d"/><stop offset="0.9286" stop-color="#ff0f36"/><stop offset="0.9643" stop-color="#ff0a30"/><stop offset="1" stop-color="#ff062c"/></linearGradient><linearGradient id="g39"><stop offset="0" stop-color="#23cbf9"/><stop offset="0.03571" stop-color="#2bc4f9"/><stop offset="0.07143" stop-color="#36bff8"/><stop offset="0.1071" stop-color="#43bcf8"/><stop offset="0.1429" stop-color="#51bcf8"/><stop offset="0.1786" stop-color="#79c0f9"/><stop offset="0.2143" stop-color="#a4c7f9"/><stop offset="0.25" stop-color="#c5cffb"/><stop offset="0.2857" stop-color="#dfd9fc"/><stop offset="0.3214" stop-color="#f0e1fd"/><stop offset="0.3571" stop-color="#f8defc"/><stop offset="0.3929" stop-color="#f9c8f2"/><stop offset="0.4286" stop-color="#fbaae5"/><stop offset="0.4643" stop-color="#fd8bd6"/><stop offset="0.5" stop-color="#fe6ec7"/><stop offset="0.5357" stop-color="#ff55b8"/><stop offset="0.5714" stop-color="#ff4aab"/><stop offset="0.6071" stop-color="#ff409d"/><stop offset="0.6429" stop-color="#ff388f"/><stop offset="0.6786" stop-color="#ff3081"/><stop offset="0.7143" stop-color="#ff2a74"/><stop offset="0.75" stop-color="#ff2468"/><stop offset="0.7857" stop-color="#ff1f5d"/><stop offset="0.8214" stop-color="#ff1b53"/><stop offset="0.8571" stop-color="#ff174a"/><stop offset="0.8929" stop-color="#ff1341"/><stop offset="0.9286" stop-color="#ff0f39"/><stop offset="0.9643" stop-color="#ff0a32"/><stop offset="1" stop-color="#ff072e"/></linearGradient><linearGradient id="g40"><stop offset="0" stop-color="#22c3f9"/><stop offset="0.03571" stop-color="#2bbdf9"/><stop offset="0.07143" stop-color="#35b8f8"/><stop offset="0.1071" stop-color="#42b6f8"/><stop offset="0.1429" stop-color="#4fb6f8"/><stop offset="0.1786" stop-color="#73baf9"/><stop offset="0.2143" stop-color="#a0c1f9"/><stop offset="0.25" stop-color="#c1cafa"/><stop offset="0.2857" stop-color="#dad3fc"/><stop offset="0.3214" stop-color="#ecdafd"/><stop offset="0.3571" stop-color="#f8d7fd"/><stop offset="0.3929" stop-color="#f9c2f3"/><stop offset="0.4286" stop-color="#fba5e6"/><stop offset="0.4643" stop-color="#fd87d8"/><stop offset="0.5" stop-color="#fe69ca"/><stop offset="0.5357" stop-color="#fe55bc"/><stop offset="0.5714" stop-color="#ff4aaf"/><stop offset="0.6071" stop-color="#ff40a1"/><stop offset="0.6429" stop-color="#ff3894"/><stop offset="0.6786" stop-color="#ff3086"/><stop offset="0.7143" stop-color="#ff2a79"/><stop offset="0.75" stop-color="#ff246d"/><stop offset="0.7857" stop-color="#ff1f61"/><stop offset="0.8214" stop-color="#ff1b57"/><stop offset="0.8571" stop-color="#ff174e"/><stop offset="0.8929" stop-color="#ff1345"/><stop offset="0.9286" stop-color="#ff0f3c"/><stop offset="0.9643" stop-color="#ff0b35"/><stop offset="1" stop-color="#ff0730"/></linearGradient><linearGradient id="g41"><stop offset="0" stop-color="#22bcfa"/><stop offset="0.03704" stop-color="#2ab5f9"/><stop offset="0.07407" stop-color="#35b1f9"/><stop offset="0.1111" stop-color="#42b0f8"/><stop offset="0.1481" stop-color="#50b1f9"/><stop offset="0.1852" stop-color="#78b6f9"/><stop offset="0.2222" stop-color="#a3bef9"/><stop offset="0.2593" stop-color="#c3c7fa"/><stop offset="0.2963" stop-color="#dccffb"/><stop offset="0.3333" stop-color="#edd3fc"/><stop offset="0.3704" stop-color="#f8cafa"/><stop offset="0.4074" stop-color="#f9b1ef"/><stop offset="0.4444" stop-color="#fb93e1"/><stop offset="0.4815" stop-color="#fd74d3"/><stop offset="0.5185" stop-color="#fe5cc5"/><stop offset="0.5556" stop-color="#fe4eb8"/><stop offset="0.5926" stop-color="#ff44ab"/><stop offset="0.6296" stop-color="#ff3b9d"/><stop offset="0.6667" stop-color="#ff338f"/><stop offset="0.7037" stop-color="#ff2b81"/><stop offset="0.7407" stop-color="#ff2574"/><stop offset="0.7778" stop-color="#ff2068"/><stop offset="0.8148" stop-color="#ff1b5d"/><stop offset="0.8519" stop-color="#ff1753"/><stop offset="0.8889" stop-color="#ff1349"/><stop offset="0.9259" stop-color="#ff0f40"/><stop offset="0.963" stop-color="#ff0b38"/><stop offset="1" stop-color="#ff0733"/></linearGradient><linearGradient id="g42"><stop offset="0" stop-color="#21b5fa"/><stop offset="0.03704" stop-color="#29aff9"/><stop offset="0.07407" stop-color="#34abf9"/><stop offset="0.1111" stop-color="#41aaf9"/><stop offset="0.1481" stop-color="#4eabf9"/><stop offset="0.1852" stop-color="#72b1f9"/><stop offset="0.2222" stop-color="#9eb9f9"/><stop offset="0.2593" stop-color="#bec1fa"/><stop offset="0.2963" stop-color="#d7c8fb"/><stop offset="0.3333" stop-color="#e9cbfb"/><stop offset="0.3704" stop-color="#f6c3fb"/><stop offset="0.4074" stop-color="#f9abf0"/><stop offset="0.4444" stop-color="#fb8ee3"/><stop offset="0.4815" stop-color="#fd6ed5"/><stop offset="0.5185" stop-color="#fe5bc8"/><stop offset="0.5556" stop-color="#fe4ebb"/><stop offset="0.5926" stop-color="#ff44af"/><stop offset="0.6296" stop-color="#ff3ba1"/><stop offset="0.6667" stop-color="#ff3294"/><stop offset="0.7037" stop-color="#ff2b86"/><stop offset="0.7407" stop-color="#ff2579"/><stop offset="0.7778" stop-color="#ff1f6d"/><stop offset="0.8148" stop-color="#ff1b62"/><stop offset="0.8519" stop-color="#ff1757"/><stop offset="0.8889" stop-color="#ff124d"/><stop offset="0.9259" stop-color="#ff0f44"/><stop offset="0.963" stop-color="#ff0b3c"/><stop offset="1" stop-color="#ff0736"/></linearGradient><linearGradient id="g43"><stop offset="0" stop-color="#20affa"/><stop offset="0.03704" stop-color="#29a9f9"/><stop offset="0.07407" stop-color="#33a5f9"/><stop offset="0.1111" stop-color="#3fa4f9"/><stop offset="0.1481" stop-color="#4ca6f9"/><stop offset="0.1852" stop-color="#6dabf9"/><stop offset="0.2222" stop-color="#98b3f9"/><stop offset="0.2593" stop-color="#b9bbfa"/><stop offset="0.2963" stop-color="#d2c1fa"/><stop offset="0.3333" stop-color="#e5c3fa"/><stop offset="0.3704" stop-color="#f2bafa"/><stop offset="0.4074" stop-color="#f9a5f2"/><stop offset="0.4444" stop-color="#fb88e5"/><stop offset="0.4815" stop-color="#fc6ad8"/><stop offset="0.5185" stop-color="#fe5aca"/><stop offset="0.5556" stop-color="#fe4dbe"/><stop offset="0.5926" stop-color="#fe43b2"/><stop offset="0.6296" stop-color="#ff3ba6"/><stop offset="0.6667" stop-color="#ff3298"/><stop offset="0.7037" stop-color="#ff2b8b"/><stop offset="0.7407" stop-color="#ff257e"/><stop offset="0.7778" stop-color="#ff1f72"/><stop offset="0.8148" stop-color="#ff1a66"/><stop offset="0.8519" stop-color="#ff165b"/><stop offset="0.8889" stop-color="#ff1251"/><stop offset="0.9259" stop-color="#ff0e48"/><stop offset="0.963" stop-color="#ff0b3f"/><stop offset="1" stop-color="#ff0739"/></linearGradient><linearGradient id="g44"><stop offset="0" stop-color="#20a9fa"/><stop offset="0.03704" stop-color="#28a3f9"/><stop offset="0.07407" stop-color="#329ff9"/><stop offset="0.1111" stop-color="#3d9ef9"/><stop offset="0.1481" stop-color="#4aa0f9"/><stop offset="0.1852" stop-color="#67a6f9"/><stop offset="0.2222" stop-color="#93adf9"/><stop offset="0.2593" stop-color="#b3b5f9"/><stop offset="0.2963" stop-color="#cdbafa"/><stop offset="0.3333" stop-color="#e0bbfa"/><stop offset="0.3704" stop-color="#eeb2f9"/><stop offset="0.4074" stop-color="#f89df4"/><stop offset="0.4444" stop-color="#fa81e7"/><stop offset="0.4815" stop-color="#fc68da"/><stop offset="0.5185" stop-color="#fd59cd"/><stop offset="0.5556" stop-color="#fe4cc1"/><stop offset="0.5926" stop-color="#fe43b6"/><stop offset="0.6296" stop-color="#ff3aaa"/><stop offset="0.6667" stop-color="#ff329d"/><stop offset="0.7037" stop-color="#ff2b8f"/><stop offset="0.7407" stop-color="#ff2483"/><stop offset="0.7778" stop-color="#ff1f76"/><stop offset="0.8148" stop-color="#ff1a6b"/><stop offset="0.8519" stop-color="#ff1660"/><stop offset="0.8889" stop-color="#ff1255"/><stop offset="0.9259" stop-color="#ff0e4b"/><stop offset="0.963" stop-color="#ff0b43"/><stop offset="1" stop-color="#ff073c"/></linearGradient><linearGradient id="g45"><stop offset="0" stop-color="#1fa3fa"/><stop offset="0.03704" stop-color="#279dfa"/><stop offset="0.07407" stop-color="#309af9"/><stop offset="0.1111" stop-color="#3c99f9"/><stop offset="0.1481" stop-color="#479bf9"/><stop offset="0.1852" stop-color="#61a0f9"/><stop offset="0.2222" stop-color="#8da7f9"/><stop offset="0.2593" stop-color="#aeaef9"/><stop offset="0.2963" stop-color="#c7b3f9"/><stop offset="0.3333" stop-color="#dbb2f9"/><stop offset="0.3704" stop-color="#eaa9f8"/><stop offset="0.4074" stop-color="#f896f7"/><stop offset="0.4444" stop-color="#fa78e9"/><stop offset="0.4815" stop-color="#fc66dc"/><stop offset="0.5185" stop-color="#fd57d0"/><stop offset="0.5556" stop-color="#fe4bc4"/><stop offset="0.5926" stop-color="#fe42b9"/><stop offset="0.6296" stop-color="#fe3aae"/><stop offset="0.6667" stop-color="#ff32a1"/><stop offset="0.7037" stop-color="#ff2a94"/><stop offset="0.7407" stop-color="#ff2487"/><stop offset="0.7778" stop-color="#ff1e7b"/><stop offset="0.8148" stop-color="#ff1a6f"/><stop offset="0.8519" stop-color="#ff1564"/><stop offset="0.8889" stop-color="#ff1159"/><stop offset="0.9259" stop-color="#ff0e4f"/><stop offset="0.963" stop-color="#ff0a46"/><stop offset="1" stop-color="#ff073f"/></linearGradient><linearGradient id="g46"><stop offset="0" stop-color="#1e9efa"/><stop offset="0.03704" stop-color="#2698fa"/><stop offset="0.07407" stop-color="#2f95f9"/><stop offset="0.1111" stop-color="#3a94f9"/><stop offset="0.1481" stop-color="#4596f9"/><stop offset="0.1852" stop-color="#5a9af9"/><stop offset="0.2222" stop-color="#87a1f9"/><stop offset="0.2593" stop-color="#a8a8f9"/><stop offset="0.2963" stop-color="#c2abf9"/><stop offset="0.3333" stop-color="#d6aaf9"/><stop offset="0.3704" stop-color="#e6a1f8"/><stop offset="0.4074" stop-color="#f58df7"/><stop offset="0.4444" stop-color="#fa74ec"/><stop offset="0.4815" stop-color="#fc64df"/><stop offset="0.5185" stop-color="#fd56d3"/><stop offset="0.5556" stop-color="#fe4ac7"/><stop offset="0.5926" stop-color="#fe41bd"/><stop offset="0.6296" stop-color="#fe39b2"/><stop offset="0.6667" stop-color="#fe31a5"/><stop offset="0.7037" stop-color="#ff2a99"/><stop offset="0.7407" stop-color="#ff248c"/><stop offset="0.7778" stop-color="#ff1e80"/><stop offset="0.8148" stop-color="#ff1974"/><stop offset="0.8519" stop-color="#ff1568"/><stop offset="0.8889" stop-color="#ff115e"/><stop offset="0.9259" stop-color="#ff0e53"/><stop offset="0.963" stop-color="#ff0a4a"/><stop offset="1" stop-color="#ff0742"/></linearGradient><linearGradient id="g47"><stop offset="0" stop-color="#1e98fa"/><stop offset="0.03846" stop-color="#2693fa"/><stop offset="0.07692" stop-color="#2f8ff9"/><stop offset="0.1154" stop-color="#3a8ff9"/><stop offset="0.1538" stop-color="#4591f9"/><stop offset="0.1923" stop-color="#6196f9"/><stop offset="0.2308" stop-color="#8b9df9"/><stop offset="0.2692" stop-color="#aba2f9"/><stop offset="0.3077" stop-color="#c3a3f9"/><stop offset="0.3462" stop-color="#d79ff8"/><stop offset="0.3846" stop-color="#e891f7"/><stop offset="0.4231" stop-color="#f978f7"/><stop offset="0.4615" stop-color="#fb69e8"/><stop offset="0.5" stop-color="#fc5adb"/><stop offset="0.5385" stop-color="#fd4ecf"/><stop offset="0.5769" stop-color="#fe44c4"/><stop offset="0.6154" stop-color="#fe3bb9"/><stop offset="0.6538" stop-color="#fe33ae"/><stop offset="0.6923" stop-color="#fe2ca1"/><stop offset="0.7308" stop-color="#ff2594"/><stop offset="0.7692" stop-color="#ff1f87"/><stop offset="0.8077" stop-color="#ff197a"/><stop offset="0.8462" stop-color="#ff156e"/><stop offset="0.8846" stop-color="#ff1163"/><stop offset="0.9231" stop-color="#ff0e58"/><stop offset="0.9615" stop-color="#ff0a4e"/><stop offset="1" stop-color="#ff0746"/></linearGradient><linearGradient id="g48"><stop offset="0" stop-color="#1e93fa"/><stop offset="0.03846" stop-color="#258dfa"/><stop offset="0.07692" stop-color="#2e8afa"/><stop offset="0.1154" stop-color="#388af9"/><stop offset="0.1538" stop-color="#438cf9"/><stop offset="0.1923" stop-color="#5e91f9"/><stop offset="0.2308" stop-color="#8796f9"/><stop offset="0.2692" stop-color="#a69bf9"/><stop offset="0.3077" stop-color="#bf9bf8"/><stop offset="0.3462" stop-color="#d395f8"/><stop offset="0.3846" stop-color="#e486f7"/><stop offset="0.4231" stop-color="#f573f6"/><stop offset="0.4615" stop-color="#fb65eb"/><stop offset="0.5" stop-color="#fc58de"/><stop offset="0.5385" stop-color="#fd4cd2"/><stop offset="0.5769" stop-color="#fe42c7"/><stop offset="0.6154" stop-color="#fe3abd"/><stop offset="0.6538" stop-color="#fe32b1"/><stop offset="0.6923" stop-color="#fe2ba5"/><stop offset="0.7308" stop-color="#fe2498"/><stop offset="0.7692" stop-color="#ff1e8b"/><stop offset="0.8077" stop-color="#ff197f"/><stop offset="0.8462" stop-color="#ff1573"/><stop offset="0.8846" stop-color="#ff1167"/><stop offset="0.9231" stop-color="#ff0d5c"/><stop offset="0.9615" stop-color="#ff0a52"/><stop offset="1" stop-color="#ff0749"/></linearGradient><linearGradient id="g49"><stop offset="0" stop-color="#1d8dfa"/><stop offset="0.03846" stop-color="#2589fa"/><stop offset="0.07692" stop-color="#2d86fa"/><stop offset="0.1154" stop-color="#3785fa"/><stop offset="0.1538" stop-color="#4187f9"/><stop offset="0.1923" stop-color="#5a8bf9"/><stop offset="0.2308" stop-color="#8390f9"/><stop offset="0.2692" stop-color="#a193f9"/><stop offset="0.3077" stop-color="#ba92f8"/><stop offset="0.3462" stop-color="#ce8bf7"/><stop offset="0.3846" stop-color="#e07af6"/><stop offset="0.4231" stop-color="#f16ff6"/><stop offset="0.4615" stop-color="#fb62ee"/><stop offset="0.5" stop-color="#fc55e1"/><stop offset="0.5385" stop-color="#fd4ad5"/><stop offset="0.5769" stop-color="#fe41ca"/><stop offset="0.6154" stop-color="#fe39c0"/><stop offset="0.6538" stop-color="#fe32b5"/><stop offset="0.6923" stop-color="#fe2aa9"/><stop offset="0.7308" stop-color="#fe239c"/><stop offset="0.7692" stop-color="#fe1e90"/><stop offset="0.8077" stop-color="#ff1983"/><stop offset="0.8462" stop-color="#ff1477"/><stop offset="0.8846" stop-color="#ff106b"/><stop offset="0.9231" stop-color="#ff0d60"/><stop offset="0.9615" stop-color="#ff0a56"/><stop offset="1" stop-color="#ff074d"/></linearGradient><linearGradient id="g50"><stop offset="0" stop-color="#1d88fa"/><stop offset="0.03846" stop-color="#2484fa"/><stop offset="0.07692" stop-color="#2c81fa"/><stop offset="0.1154" stop-color="#3580fa"/><stop offset="0.1538" stop-color="#3f82f9"/><stop offset="0.1923" stop-color="#5785f9"/><stop offset="0.2308" stop-color="#7f8af9"/><stop offset="0.2692" stop-color="#9d8cf9"/><stop offset="0.3077" stop-color="#b58af8"/><stop offset="0.3462" stop-color="#ca81f7"/><stop offset="0.3846" stop-color="#dc73f6"/><stop offset="0.4231" stop-color="#ed6af6"/><stop offset="0.4615" stop-color="#fb5ef2"/><stop offset="0.5" stop-color="#fc52e3"/><stop offset="0.5385" stop-color="#fd48d7"/><stop offset="0.5769" stop-color="#fe3fcd"/><stop offset="0.6154" stop-color="#fe38c3"/><stop offset="0.6538" stop-color="#fe31b9"/><stop offset="0.6923" stop-color="#fe2aad"/><stop offset="0.7308" stop-color="#fe23a1"/><stop offset="0.7692" stop-color="#fe1d94"/><stop offset="0.8077" stop-color="#fe1888"/><stop offset="0.8462" stop-color="#ff147c"/><stop offset="0.8846" stop-color="#ff1070"/><stop offset="0.9231" stop-color="#ff0c64"/><stop offset="0.9615" stop-color="#ff095a"/><stop offset="1" stop-color="#ff0751"/></linearGradient><linearGradient id="g51"><stop offset="0" stop-color="#1d83fb"/><stop offset="0.04" stop-color="#247ffa"/><stop offset="0.08" stop-color="#2c7cfa"/><stop offset="0.12" stop-color="#357bfa"/><stop offset="0.16" stop-color="#3e7df9"/><stop offset="0.2" stop-color="#5d80f9"/><stop offset="0.24" stop-color="#8283f9"/><stop offset="0.28" stop-color="#a083f9"/><stop offset="0.32" stop-color="#b87ef8"/><stop offset="0.36" stop-color="#cc71f7"/><stop offset="0.4" stop-color="#df6bf6"/><stop offset="0.44" stop-color="#f261f6"/><stop offset="0.48" stop-color="#fc55ee"/><stop offset="0.52" stop-color="#fd4be0"/><stop offset="0.56" stop-color="#fe41d4"/><stop offset="0.6" stop-color="#fe39ca"/><stop offset="0.64" stop-color="#fe32c0"/><stop offset="0.68" stop-color="#fe2bb5"/><stop offset="0.72" stop-color="#fe24a8"/><stop offset="0.76" stop-color="#fe1e9c"/><stop offset="0.8" stop-color="#fe188f"/><stop offset="0.84" stop-color="#ff1482"/><stop offset="0.88" stop-color="#ff1076"/><stop offset="0.92" stop-color="#ff0c6a"/><stop offset="0.96" stop-color="#ff095f"/><stop offset="1" stop-color="#ff0655"/></linearGradient><linearGradient id="g52"><stop offset="0" stop-color="#1c7ffb"/><stop offset="0.04" stop-color="#237bfa"/><stop offset="0.08" stop-color="#2b78fa"/><stop offset="0.12" stop-color="#3376fa"/><stop offset="0.16" stop-color="#3c78fa"/><stop offset="0.2" stop-color="#597af9"/><stop offset="0.24" stop-color="#7e7cf9"/><stop offset="0.28" stop-color="#9b7bf9"/><stop offset="0.32" stop-color="#b374f8"/><stop offset="0.36" stop-color="#c86cf7"/><stop offset="0.4" stop-color="#db66f6"/><stop offset="0.44" stop-color="#ee5df6"/><stop offset="0.48" stop-color="#fc52f2"/><stop offset="0.52" stop-color="#fd48e3"/><stop offset="0.56" stop-color="#fe40d7"/><stop offset="0.6" stop-color="#fe38cd"/><stop offset="0.64" stop-color="#fe31c3"/><stop offset="0.68" stop-color="#fe2ab8"/><stop offset="0.72" stop-color="#fe23ac"/><stop offset="0.76" stop-color="#fe1da0"/><stop offset="0.8" stop-color="#fe1893"/><stop offset="0.84" stop-color="#fe1386"/><stop offset="0.88" stop-color="#ff0f7a"/><stop offset="0.92" stop-color="#ff0c6e"/><stop offset="0.96" stop-color="#ff0963"/><stop offset="1" stop-color="#ff0658"/></linearGradient><linearGradient id="g53"><stop offset="0" stop-color="#1c7afb"/><stop offset="0.04" stop-color="#2276fa"/><stop offset="0.08" stop-color="#2a73fa"/><stop offset="0.12" stop-color="#3271fa"/><stop offset="0.16" stop-color="#3a72fa"/><stop offset="0.2" stop-color="#5674f9"/><stop offset="0.24" stop-color="#7a75f9"/><stop offset="0.28" stop-color="#9772f9"/><stop offset="0.32" stop-color="#af68f8"/><stop offset="0.36" stop-color="#c467f7"/><stop offset="0.4" stop-color="#d761f6"/><stop offset="0.44" stop-color="#ea59f5"/><stop offset="0.48" stop-color="#fd4ff6"/><stop offset="0.52" stop-color="#fe46e7"/><stop offset="0.56" stop-color="#fe3edb"/><stop offset="0.6" stop-color="#ff37d1"/><stop offset="0.64" stop-color="#ff30c7"/><stop offset="0.68" stop-color="#fe29bc"/><stop offset="0.72" stop-color="#fe23b0"/><stop offset="0.76" stop-color="#fe1da4"/><stop offset="0.8" stop-color="#fe1797"/><stop offset="0.84" stop-color="#fe138b"/><stop offset="0.88" stop-color="#ff0f7e"/><stop offset="0.92" stop-color="#ff0c72"/><stop offset="0.96" stop-color="#ff0967"/><stop offset="1" stop-color="#ff065c"/></linearGradient><linearGradient id="g54"><stop offset="0" stop-color="#1b76fb"/><stop offset="0.04" stop-color="#2272fa"/><stop offset="0.08" stop-color="#296efa"/><stop offset="0.12" stop-color="#306cfa"/><stop offset="0.16" stop-color="#386dfa"/><stop offset="0.2" stop-color="#536ef9"/><stop offset="0.24" stop-color="#766df9"/><stop offset="0.28" stop-color="#9269f9"/><stop offset="0.32" stop-color="#aa62f8"/><stop offset="0.36" stop-color="#bf62f7"/><stop offset="0.4" stop-color="#d35df6"/><stop offset="0.44" stop-color="#e655f5"/><stop offset="0.48" stop-color="#fa4cf7"/><stop offset="0.52" stop-color="#fe44ea"/><stop offset="0.56" stop-color="#ff3cde"/><stop offset="0.6" stop-color="#ff35d4"/><stop offset="0.64" stop-color="#ff2fca"/><stop offset="0.68" stop-color="#fe28c0"/><stop offset="0.72" stop-color="#fe22b4"/><stop offset="0.76" stop-color="#fe1ca8"/><stop offset="0.8" stop-color="#fe179c"/><stop offset="0.84" stop-color="#fe128f"/><stop offset="0.88" stop-color="#ff0f82"/><stop offset="0.92" stop-color="#ff0b76"/><stop offset="0.96" stop-color="#ff086b"/><stop offset="1" stop-color="#ff0660"/></linearGradient><linearGradient id="g55"><stop offset="0" stop-color="#1b71fb"/><stop offset="0.04167" stop-color="#216dfa"/><stop offset="0.08333" stop-color="#2869fa"/><stop offset="0.125" stop-color="#2f67fa"/><stop offset="0.1667" stop-color="#3767fa"/><stop offset="0.2083" stop-color="#5867f9"/><stop offset="0.25" stop-color="#7a64f9"/><stop offset="0.2917" stop-color="#965cf8"/><stop offset="0.3333" stop-color="#ad5ef7"/><stop offset="0.375" stop-color="#c35cf6"/><stop offset="0.4167" stop-color="#d756f5"/><stop offset="0.4583" stop-color="#eb4ef6"/><stop offset="0.5" stop-color="#fe46f6"/><stop offset="0.5417" stop-color="#ff3ee7"/><stop offset="0.5833" stop-color="#ff36db"/><stop offset="0.625" stop-color="#ff30d1"/><stop offset="0.6667" stop-color="#ff29c7"/><stop offset="0.7083" stop-color="#fe23bb"/><stop offset="0.75" stop-color="#fe1daf"/><stop offset="0.7917" stop-color="#fe17a2"/><stop offset="0.8333" stop-color="#fe1395"/><stop offset="0.875" stop-color="#fe0f88"/><stop offset="0.9167" stop-color="#ff0b7b"/><stop offset="0.9583" stop-color="#ff086f"/><stop offset="1" stop-color="#ff0564"/></linearGradient><linearGradient id="g56"><stop offset="0" stop-color="#1a6dfb"/><stop offset="0.04167" stop-color="#2069fa"/><stop offset="0.08333" stop-color="#2765fa"/><stop offset="0.125" stop-color="#2e62fa"/><stop offset="0.1667" stop-color="#3561fa"/><stop offset="0.2083" stop-color="#5460f9"/><stop offset="0.25" stop-color="#765bf9"/><stop offset="0.2917" stop-color="#9258f8"/><stop offset="0.3333" stop-color="#a95af8"/><stop offset="0.375" stop-color="#bf58f6"/><stop offset="0.4167" stop-color="#d452f5"/><stop offset="0.4583" stop-color="#e84bf6"/><stop offset="0.5" stop-color="#fc43f7"/><stop offset="0.5417" stop-color="#ff3cea"/><stop offset="0.5833" stop-color="#ff35de"/><stop offset="0.625" stop-color="#ff2fd4"/><stop offset="0.6667" stop-color="#ff28ca"/><stop offset="0.7083" stop-color="#fe22bf"/><stop offset="0.75" stop-color="#fe1cb3"/><stop offset="0.7917" stop-color="#fe17a6"/><stop offset="0.8333" stop-color="#fe129a"/><stop offset="0.875" stop-color="#fe0e8d"/><stop offset="0.9167" stop-color="#ff0b80"/><stop offset="0.9583" stop-color="#ff0873"/><stop offset="1" stop-color="#ff0568"/></linearGradient><linearGradient id="g57"><stop offset="0" stop-color="#1a68fb"/><stop offset="0.04167" stop-color="#2064fa"/><stop offset="0.08333" stop-color="#2660fa"/><stop offset="0.125" stop-color="#2c5dfa"/><stop offset="0.1667" stop-color="#335bfa"/><stop offset="0.2083" stop-color="#5158fa"/><stop offset="0.25" stop-color="#7350f9"/><stop offset="0.2917" stop-color="#8e54f9"/><stop offset="0.3333" stop-color="#a556f8"/><stop offset="0.375" stop-color="#bb54f6"/><stop offset="0.4167" stop-color="#d04ff6"/><stop offset="0.4583" stop-color="#e448f6"/><stop offset="0.5" stop-color="#f841f7"/><stop offset="0.5417" stop-color="#ff3aee"/><stop offset="0.5833" stop-color="#ff33e2"/><stop offset="0.625" stop-color="#ff2dd7"/><stop offset="0.6667" stop-color="#ff27cd"/><stop offset="0.7083" stop-color="#fe21c2"/><stop offset="0.75" stop-color="#fe1cb7"/><stop offset="0.7917" stop-color="#fe16aa"/><stop offset="0.8333" stop-color="#fe129e"/><stop offset="0.875" stop-color="#fe0e91"/><stop offset="0.9167" stop-color="#ff0b84"/><stop offset="0.9583" stop-color="#ff0878"/><stop offset="1" stop-color="#ff056c"/></linearGradient><linearGradient id="g58"><stop offset="0" stop-color="#1964fb"/><stop offset="0.04167" stop-color="#1f5ffa"/><stop offset="0.08333" stop-color="#255bfa"/><stop offset="0.125" stop-color="#2b58fa"/><stop offset="0.1667" stop-color="#3155fa"/><stop offset="0.2083" stop-color="#4f50fa"/><stop offset="0.25" stop-color="#6f4df9"/><stop offset="0.2917" stop-color="#8a51f9"/><stop offset="0.3333" stop-color="#a252f8"/><stop offset="0.375" stop-color="#b850f7"/><stop offset="0.4167" stop-color="#cd4bf6"/><stop offset="0.4583" stop-color="#e145f6"/><stop offset="0.5" stop-color="#f43ef6"/><stop offset="0.5417" stop-color="#ff38f2"/><stop offset="0.5833" stop-color="#ff32e5"/><stop offset="0.625" stop-color="#ff2cdb"/><stop offset="0.6667" stop-color="#ff27d1"/><stop offset="0.7083" stop-color="#ff21c6"/><stop offset="0.75" stop-color="#fe1bba"/><stop offset="0.7917" stop-color="#fe16ae"/><stop offset="0.8333" stop-color="#fe11a2"/><stop offset="0.875" stop-color="#fe0e95"/><stop offset="0.9167" stop-color="#ff0a88"/><stop offset="0.9583" stop-color="#ff077c"/><stop offset="1" stop-color="#ff0570"/></linearGradient><linearGradient id="g59"><stop offset="0" stop-color="#195ffb"/><stop offset="0.04167" stop-color="#1e5bfa"/><stop offset="0.08333" stop-color="#2456fa"/><stop offset="0.125" stop-color="#2952fa"/><stop offset="0.1667" stop-color="#2f4efa"/><stop offset="0.2083" stop-color="#4c46fa"/><stop offset="0.25" stop-color="#6c4af9"/><stop offset="0.2917" stop-color="#874df9"/><stop offset="0.3333" stop-color="#9e4ef8"/><stop offset="0.375" stop-color="#b44cf7"/><stop offset="0.4167" stop-color="#c948f6"/><stop offset="0.4583" stop-color="#dd42f6"/><stop offset="0.5" stop-color="#f03cf6"/><stop offset="0.5417" stop-color="#ff36f7"/><stop offset="0.5833" stop-color="#ff30e9"/><stop offset="0.625" stop-color="#ff2bde"/><stop offset="0.6667" stop-color="#ff26d4"/><stop offset="0.7083" stop-color="#ff20c9"/><stop offset="0.75" stop-color="#fe1abe"/><stop offset="0.7917" stop-color="#fe15b2"/><stop offset="0.8333" stop-color="#fe11a5"/><stop offset="0.875" stop-color="#fe0d99"/><stop offset="0.9167" stop-color="#fe0a8c"/><stop offset="0.9583" stop-color="#ff0780"/><stop offset="1" stop-color="#ff0574"/></linearGradient><linearGradient id="g60"><stop offset="0" stop-color="#185bfb"/><stop offset="0.04348" stop-color="#1d56fa"/><stop offset="0.08696" stop-color="#2351fa"/><stop offset="0.1304" stop-color="#294bfa"/><stop offset="0.1739" stop-color="#2e45fa"/><stop offset="0.2174" stop-color="#5143fa"/><stop offset="0.2609" stop-color="#7048f9"/><stop offset="0.3043" stop-color="#8b4af9"/><stop offset="0.3478" stop-color="#a24af8"/><stop offset="0.3913" stop-color="#b947f7"/><stop offset="0.4348" stop-color="#cf42f6"/><stop offset="0.4783" stop-color="#e33df6"/><stop offset="0.5217" stop-color="#f737f7"/><stop offset="0.5652" stop-color="#ff31f2"/><stop offset="0.6087" stop-color="#ff2ce5"/><stop offset="0.6522" stop-color="#ff26db"/><stop offset="0.6957" stop-color="#ff21d0"/><stop offset="0.7391" stop-color="#ff1bc4"/><stop offset="0.7826" stop-color="#fe16b8"/><stop offset="0.8261" stop-color="#fe11ab"/><stop offset="0.8696" stop-color="#fe0d9e"/><stop offset="0.913" stop-color="#fe0a91"/><stop offset="0.9565" stop-color="#ff0784"/><stop offset="1" stop-color="#ff0478"/></linearGradient><linearGradient id="g61"><stop offset="0" stop-color="#1856fb"/><stop offset="0.04348" stop-color="#1d51fb"/><stop offset="0.08696" stop-color="#224bfa"/><stop offset="0.1304" stop-color="#2745fa"/><stop offset="0.1739" stop-color="#2c3bfa"/><stop offset="0.2174" stop-color="#4f41fa"/><stop offset="0.2609" stop-color="#6d45f9"/><stop offset="0.3043" stop-color="#8747f9"/><stop offset="0.3478" stop-color="#9f47f8"/><stop offset="0.3913" stop-color="#b644f7"/><stop offset="0.4348" stop-color="#cb40f6"/><stop offset="0.4783" stop-color="#df3af6"/><stop offset="0.5217" stop-color="#f335f7"/><stop offset="0.5652" stop-color="#ff2ff7"/><stop offset="0.6087" stop-color="#ff2ae9"/><stop offset="0.6522" stop-color="#ff25de"/><stop offset="0.6957" stop-color="#ff20d3"/><stop offset="0.7391" stop-color="#ff1bc8"/><stop offset="0.7826" stop-color="#fe16bc"/><stop offset="0.8261" stop-color="#fe11af"/><stop offset="0.8696" stop-color="#fe0da2"/><stop offset="0.913" stop-color="#fe0a95"/><stop offset="0.9565" stop-color="#ff0788"/><stop offset="1" stop-color="#ff047c"/></linearGradient><linearGradient id="g62"><stop offset="0" stop-color="#1751fb"/><stop offset="0.04348" stop-color="#1c4cfb"/><stop offset="0.08696" stop-color="#2146fa"/><stop offset="0.1304" stop-color="#263efa"/><stop offset="0.1739" stop-color="#2b3afa"/><stop offset="0.2174" stop-color="#4c3ffa"/><stop offset="0.2609" stop-color="#6b43fa"/><stop offset="0.3043" stop-color="#8444f9"/><stop offset="0.3478" stop-color="#9c43f8"/><stop offset="0.3913" stop-color="#b241f7"/><stop offset="0.4348" stop-color="#c83df6"/><stop offset="0.4783" stop-color="#dc38f6"/><stop offset="0.5217" stop-color="#ef33f7"/><stop offset="0.5652" stop-color="#ff2ef9"/><stop offset="0.6087" stop-color="#ff29ed"/><stop offset="0.6522" stop-color="#ff24e1"/><stop offset="0.6957" stop-color="#ff1fd6"/><stop offset="0.7391" stop-color="#ff1acb"/><stop offset="0.7826" stop-color="#ff15bf"/><stop offset="0.8261" stop-color="#fe11b3"/><stop offset="0.8696" stop-color="#fe0da6"/><stop offset="0.913" stop-color="#fe0999"/><stop offset="0.9565" stop-color="#ff078c"/><stop offset="1" stop-color="#ff0480"/></linearGradient><linearGradient id="g63"><stop offset="0" stop-color="#174cfb"/><stop offset="0.04348" stop-color="#1b47fb"/><stop offset="0.08696" stop-color="#203ffa"/><stop offset="0.1304" stop-color="#2433fa"/><stop offset="0.1739" stop-color="#2939fa"/><stop offset="0.2174" stop-color="#4a3dfa"/><stop offset="0.2609" stop-color="#6840fa"/><stop offset="0.3043" stop-color="#8141f9"/><stop offset="0.3478" stop-color="#9940f8"/><stop offset="0.3913" stop-color="#af3ef7"/><stop offset="0.4348" stop-color="#c53af6"/><stop offset="0.4783" stop-color="#d936f6"/><stop offset="0.5217" stop-color="#ec31f6"/><stop offset="0.5652" stop-color="#fe2cf8"/><stop offset="0.6087" stop-color="#ff28f1"/><stop offset="0.6522" stop-color="#ff23e4"/><stop offset="0.6957" stop-color="#ff1fd9"/><stop offset="0.7391" stop-color="#ff1ace"/><stop offset="0.7826" stop-color="#ff15c3"/><stop offset="0.8261" stop-color="#fe10b6"/><stop offset="0.8696" stop-color="#fe0da9"/><stop offset="0.913" stop-color="#fe099c"/><stop offset="0.9565" stop-color="#ff0690"/><stop offset="1" stop-color="#ff0484"/></linearGradient><linearGradient id="g64"><stop offset="0" stop-color="#1647fb"/><stop offset="0.04545" stop-color="#1b41fb"/><stop offset="0.09091" stop-color="#1f37fb"/><stop offset="0.1364" stop-color="#2434fa"/><stop offset="0.1818" stop-color="#2838fa"/><stop offset="0.2273" stop-color="#4f3cfa"/><stop offset="0.2727" stop-color="#6c3efa"/><stop offset="0.3182" stop-color="#863ef9"/><stop offset="0.3636" stop-color="#9e3df8"/><stop offset="0.4091" stop-color="#b53af7"/><stop offset="0.4545" stop-color="#cb36f6"/><stop offset="0.5" stop-color="#df32f6"/><stop offset="0.5455" stop-color="#f22df7"/><stop offset="0.5909" stop-color="#ff28fa"/><stop offset="0.6364" stop-color="#ff24ec"/><stop offset="0.6818" stop-color="#ff1fe0"/><stop offset="0.7273" stop-color="#ff1ad4"/><stop offset="0.7727" stop-color="#ff15c9"/><stop offset="0.8182" stop-color="#ff11bc"/><stop offset="0.8636" stop-color="#fe0daf"/><stop offset="0.9091" stop-color="#fe09a1"/><stop offset="0.9545" stop-color="#ff0694"/><stop offset="1" stop-color="#ff0488"/></linearGradient><linearGradient id="g65"><stop offset="0" stop-color="#1542fb"/><stop offset="0.04545" stop-color="#1a3afb"/><stop offset="0.09091" stop-color="#1e2ffb"/><stop offset="0.1364" stop-color="#2333fb"/><stop offset="0.1818" stop-color="#2737fb"/><stop offset="0.2273" stop-color="#4d3afa"/><stop offset="0.2727" stop-color="#6a3bfa"/><stop offset="0.3182" stop-color="#833bf9"/><stop offset="0.3636" stop-color="#9b3af8"/><stop offset="0.4091" stop-color="#b238f7"/><stop offset="0.4545" stop-color="#c834f7"/><stop offset="0.5" stop-color="#dc30f6"/><stop offset="0.5455" stop-color="#ef2bf7"/><stop offset="0.5909" stop-color="#ff27f9"/><stop offset="0.6364" stop-color="#ff23f0"/><stop offset="0.6818" stop-color="#ff1fe3"/><stop offset="0.7273" stop-color="#ff1ad8"/><stop offset="0.7727" stop-color="#ff15cc"/><stop offset="0.8182" stop-color="#ff10c0"/><stop offset="0.8636" stop-color="#fe0db2"/><stop offset="0.9091" stop-color="#fe09a5"/><stop offset="0.9545" stop-color="#ff0698"/><stop offset="1" stop-color="#ff048b"/></linearGradient><linearGradient id="g66"><stop offset="0" stop-color="#153cfb"/><stop offset="0.04545" stop-color="#1933fb"/><stop offset="0.09091" stop-color="#1d2efb"/><stop offset="0.1364" stop-color="#2132fb"/><stop offset="0.1818" stop-color="#2535fb"/><stop offset="0.2273" stop-color="#4b38fb"/><stop offset="0.2727" stop-color="#6739fa"/><stop offset="0.3182" stop-color="#8039fa"/><stop offset="0.3636" stop-color="#9838f9"/><stop offset="0.4091" stop-color="#af35f8"/><stop offset="0.4545" stop-color="#c532f7"/><stop offset="0.5" stop-color="#d92ef6"/><stop offset="0.5455" stop-color="#eb2af6"/><stop offset="0.5909" stop-color="#fd26f8"/><stop offset="0.6364" stop-color="#ff22f4"/><stop offset="0.6818" stop-color="#ff1ee7"/><stop offset="0.7273" stop-color="#ff19db"/><stop offset="0.7727" stop-color="#ff15cf"/><stop offset="0.8182" stop-color="#ff10c3"/><stop offset="0.8636" stop-color="#ff0cb6"/><stop offset="0.9091" stop-color="#ff09a8"/><stop offset="0.9545" stop-color="#ff069b"/><stop offset="1" stop-color="#ff038f"/></linearGradient><linearGradient id="g67"><stop offset="0" stop-color="#1436fc"/><stop offset="0.04545" stop-color="#182bfb"/><stop offset="0.09091" stop-color="#1c2efb"/><stop offset="0.1364" stop-color="#2031fb"/><stop offset="0.1818" stop-color="#2433fb"/><stop offset="0.2273" stop-color="#4936fb"/><stop offset="0.2727" stop-color="#6537fa"/><stop offset="0.3182" stop-color="#7d36fa"/><stop offset="0.3636" stop-color="#9535f9"/><stop offset="0.4091" stop-color="#ac33f8"/><stop offset="0.4545" stop-color="#c230f7"/><stop offset="0.5" stop-color="#d52cf6"/><stop offset="0.5455" stop-color="#e828f6"/><stop offset="0.5909" stop-color="#f925f8"/><stop offset="0.6364" stop-color="#ff21f8"/><stop offset="0.6818" stop-color="#ff1dea"/><stop offset="0.7273" stop-color="#ff19de"/><stop offset="0.7727" stop-color="#ff14d2"/><stop offset="0.8182" stop-color="#ff10c6"/><stop offset="0.8636" stop-color="#ff0cb9"/><stop offset="0.9091" stop-color="#ff09ac"/><stop offset="0.9545" stop-color="#ff069f"/><stop offset="1" stop-color="#ff0393"/></linearGradient><linearGradient id="g68"><stop offset="0" stop-color="#142efc"/><stop offset="0.04762" stop-color="#182bfb"/><stop offset="0.09524" stop-color="#1c2efb"/><stop offset="0.1429" stop-color="#2030fb"/><stop offset="0.1905" stop-color="#2a32fb"/><stop offset="0.2381" stop-color="#4e34fb"/><stop offset="0.2857" stop-color="#6a34fb"/><stop offset="0.3333" stop-color="#8334fa"/><stop offset="0.381" stop-color="#9b32f9"/><stop offset="0.4286" stop-color="#b230f8"/><stop offset="0.4762" stop-color="#c82cf7"/><stop offset="0.5238" stop-color="#dc29f6"/><stop offset="0.5714" stop-color="#ee25f7"/><stop offset="0.619" stop-color="#ff21f9"/><stop offset="0.6667" stop-color="#ff1ef2"/><stop offset="0.7143" stop-color="#ff19e5"/><stop offset="0.7619" stop-color="#ff15d8"/><stop offset="0.8095" stop-color="#ff10cc"/><stop offset="0.8571" stop-color="#ff0cbe"/><stop offset="0.9048" stop-color="#ff09b0"/><stop offset="0.9524" stop-color="#ff06a3"/><stop offset="1" stop-color="#ff0396"/></linearGradient><linearGradient id="g69"><stop offset="0" stop-color="#1327fc"/><stop offset="0.04762" stop-color="#172afc"/><stop offset="0.09524" stop-color="#1b2dfb"/><stop offset="0.1429" stop-color="#1e2ffb"/><stop offset="0.1905" stop-color="#2931fb"/><stop offset="0.2381" stop-color="#4c32fb"/><stop offset="0.2857" stop-color="#6732fb"/><stop offset="0.3333" stop-color="#8032fa"/><stop offset="0.381" stop-color="#9830f9"/><stop offset="0.4286" stop-color="#af2ef8"/><stop offset="0.4762" stop-color="#c52bf7"/><stop offset="0.5238" stop-color="#d927f6"/><stop offset="0.5714" stop-color="#eb24f6"/><stop offset="0.619" stop-color="#fc20f8"/><stop offset="0.6667" stop-color="#ff1df6"/><stop offset="0.7143" stop-color="#ff19e8"/><stop offset="0.7619" stop-color="#ff14db"/><stop offset="0.8095" stop-color="#ff10ce"/><stop offset="0.8571" stop-color="#ff0cc1"/><stop offset="0.9048" stop-color="#ff09b4"/><stop offset="0.9524" stop-color="#ff06a7"/><stop offset="1" stop-color="#ff039a"/></linearGradient><linearGradient id="g70"><stop offset="0" stop-color="#1227fc"/><stop offset="0.04762" stop-color="#162afc"/><stop offset="0.09524" stop-color="#1a2cfc"/><stop offset="0.1429" stop-color="#1d2efc"/><stop offset="0.1905" stop-color="#282ffc"/><stop offset="0.2381" stop-color="#4a30fb"/><stop offset="0.2857" stop-color="#6530fb"/><stop offset="0.3333" stop-color="#7d30fa"/><stop offset="0.381" stop-color="#952efa"/><stop offset="0.4286" stop-color="#ac2cf8"/><stop offset="0.4762" stop-color="#c229f7"/><stop offset="0.5238" stop-color="#d526f6"/><stop offset="0.5714" stop-color="#e823f6"/><stop offset="0.619" stop-color="#f81ff8"/><stop offset="0.6667" stop-color="#ff1cfa"/><stop offset="0.7143" stop-color="#ff18eb"/><stop offset="0.7619" stop-color="#ff14de"/><stop offset="0.8095" stop-color="#ff10d1"/><stop offset="0.8571" stop-color="#ff0cc4"/><stop offset="0.9048" stop-color="#ff09b7"/><stop offset="0.9524" stop-color="#ff06aa"/><stop offset="1" stop-color="#ff039e"/></linearGradient><linearGradient id="g71"><stop offset="0" stop-color="#1227fc"/><stop offset="0.04762" stop-color="#152afc"/><stop offset="0.09524" stop-color="#192bfc"/><stop offset="0.1429" stop-color="#1c2cfc"/><stop offset="0.1905" stop-color="#262dfc"/><stop offset="0.2381" stop-color="#482efc"/><stop offset="0.2857" stop-color="#632efb"/><stop offset="0.3333" stop-color="#7b2efb"/><stop offset="0.381" stop-color="#922cfa"/><stop offset="0.4286" stop-color="#a92af9"/><stop offset="0.4762" stop-color="#be28f7"/><stop offset="0.5238" stop-color="#d225f6"/><stop offset="0.5714" stop-color="#e422f6"/><stop offset="0.619" stop-color="#f41ff7"/><stop offset="0.6667" stop-color="#ff1bf9"/><stop offset="0.7143" stop-color="#ff18ef"/><stop offset="0.7619" stop-color="#ff14e1"/><stop offset="0.8095" stop-color="#ff10d4"/><stop offset="0.8571" stop-color="#ff0cc7"/><stop offset="0.9048" stop-color="#ff09ba"/><stop offset="0.9524" stop-color="#ff06ad"/><stop offset="1" stop-color="#ff03a1"/></linearGradient><linearGradient id="g72"><stop offset="0" stop-color="#1126fc"/><stop offset="0.05" stop-color="#1529fc"/><stop offset="0.1" stop-color="#182afc"/><stop offset="0.15" stop-color="#1b2bfc"/><stop offset="0.2" stop-color="#2d2bfc"/><stop offset="0.25" stop-color="#4d2cfc"/><stop offset="0.3" stop-color="#682cfc"/><stop offset="0.35" stop-color="#802bfb"/><stop offset="0.4" stop-color="#982afa"/><stop offset="0.45" stop-color="#b028f8"/><stop offset="0.5" stop-color="#c525f7"/><stop offset="0.55" stop-color="#d922f6"/><stop offset="0.6" stop-color="#eb1ff6"/><stop offset="0.65" stop-color="#fa1cf7"/><stop offset="0.7" stop-color="#ff18f7"/><stop offset="0.75" stop-color="#ff14e8"/><stop offset="0.8" stop-color="#ff10da"/><stop offset="0.85" stop-color="#ff0ccc"/><stop offset="0.9" stop-color="#ff09bf"/><stop offset="0.95" stop-color="#ff06b1"/><stop offset="1" stop-color="#ff03a5"/></linearGradient><linearGradient id="g73"><stop offset="0" stop-color="#1126fd"/><stop offset="0.05" stop-color="#1428fc"/><stop offset="0.1" stop-color="#1729fc"/><stop offset="0.15" stop-color="#1a29fc"/><stop offset="0.2" stop-color="#2c2afc"/><stop offset="0.25" stop-color="#4b2afc"/><stop offset="0.3" stop-color="#652afc"/><stop offset="0.35" stop-color="#7d2afb"/><stop offset="0.4" stop-color="#9528fa"/><stop offset="0.45" stop-color="#ac26f9"/><stop offset="0.5" stop-color="#c224f7"/><stop offset="0.55" stop-color="#d621f6"/><stop offset="0.6" stop-color="#e71ef6"/><stop offset="0.65" stop-color="#f71bf7"/><stop offset="0.7" stop-color="#ff17f8"/><stop offset="0.75" stop-color="#ff14eb"/><stop offset="0.8" stop-color="#ff10dd"/><stop offset="0.85" stop-color="#ff0ccf"/><stop offset="0.9" stop-color="#ff09c2"/><stop offset="0.95" stop-color="#ff06b5"/><stop offset="1" stop-color="#ff03a8"/></linearGradient><linearGradient id="g74"><stop offset="0" stop-color="#1025fd"/><stop offset="0.05" stop-color="#1327fd"/><stop offset="0.1" stop-color="#1627fd"/><stop offset="0.15" stop-color="#1928fd"/><stop offset="0.2" stop-color="#2b28fd"/><stop offset="0.25" stop-color="#4928fd"/><stop offset="0.3" stop-color="#6328fc"/><stop offset="0.35" stop-color="#7b28fb"/><stop offset="0.4" stop-color="#9227fa"/><stop offset="0.45" stop-color="#a925f9"/><stop offset="0.5" stop-color="#bf23f8"/><stop offset="0.55" stop-color="#d220f6"/><stop offset="0.6" stop-color="#e41df6"/><stop offset="0.65" stop-color="#f31af6"/><stop offset="0.7" stop-color="#ff17f7"/><stop offset="0.75" stop-color="#ff13ef"/><stop offset="0.8" stop-color="#ff10e0"/><stop offset="0.85" stop-color="#ff0cd2"/><stop offset="0.9" stop-color="#ff09c5"/><stop offset="0.95" stop-color="#ff06b8"/><stop offset="1" stop-color="#ff03ab"/></linearGradient><linearGradient id="g75"><stop offset="0" stop-color="#0f25fd"/><stop offset="0.05263" stop-color="#1226fd"/><stop offset="0.1053" stop-color="#1526fd"/><stop offset="0.1579" stop-color="#1826fd"/><stop offset="0.2105" stop-color="#3126fd"/><stop offset="0.2632" stop-color="#4e27fd"/><stop offset="0.3158" stop-color="#6827fc"/><stop offset="0.3684" stop-color="#8126fb"/><stop offset="0.4211" stop-color="#9924fa"/><stop offset="0.4737" stop-color="#b022f9"/><stop offset="0.5263" stop-color="#c620f7"/><stop offset="0.5789" stop-color="#d91df6"/><stop offset="0.6316" stop-color="#ea1af6"/><stop offset="0.6842" stop-color="#f917f6"/><stop offset="0.7368" stop-color="#ff14f6"/><stop offset="0.7895" stop-color="#ff10e6"/><stop offset="0.8421" stop-color="#ff0cd7"/><stop offset="0.8947" stop-color="#ff09c9"/><stop offset="0.9474" stop-color="#ff06bc"/><stop offset="1" stop-color="#ff03af"/></linearGradient><linearGradient id="g76"><stop offset="0" stop-color="#0f24fd"/><stop offset="0.05263" stop-color="#1225fd"/><stop offset="0.1053" stop-color="#1425fd"/><stop offset="0.1579" stop-color="#1724fd"/><stop offset="0.2105" stop-color="#2f24fd"/><stop offset="0.2632" stop-color="#4c25fd"/><stop offset="0.3158" stop-color="#6525fd"/><stop offset="0.3684" stop-color="#7e24fc"/><stop offset="0.4211" stop-color="#9623fa"/><stop offset="0.4737" stop-color="#ad21f9"/><stop offset="0.5263" stop-color="#c21ff7"/><stop offset="0.5789" stop-color="#d61cf6"/><stop offset="0.6316" stop-color="#e71af5"/><stop offset="0.6842" stop-color="#f617f5"/><stop offset="0.7368" stop-color="#ff13f5"/><stop offset="0.7895" stop-color="#ff10ea"/><stop offset="0.8421" stop-color="#ff0cdb"/><stop offset="0.8947" stop-color="#ff09cc"/><stop offset="0.9474" stop-color="#ff06bf"/><stop offset="1" stop-color="#ff03b2"/></linearGradient><linearGradient id="g77"><stop offset="0" stop-color="#0e23fe"/><stop offset="0.05263" stop-color="#1123fd"/><stop offset="0.1053" stop-color="#1323fd"/><stop offset="0.1579" stop-color="#1623fe"/><stop offset="0.2105" stop-color="#2e23fe"/><stop offset="0.2632" stop-color="#4a23fd"/><stop offset="0.3158" stop-color="#6323fd"/><stop offset="0.3684" stop-color="#7b23fc"/><stop offset="0.4211" stop-color="#9222fb"/><stop offset="0.4737" stop-color="#a920f9"/><stop offset="0.5263" stop-color="#bf1ef8"/><stop offset="0.5789" stop-color="#d21bf6"/><stop offset="0.6316" stop-color="#e319f5"/><stop offset="0.6842" stop-color="#f216f4"/><stop offset="0.7368" stop-color="#ff13f4"/><stop offset="0.7895" stop-color="#ff0fee"/><stop offset="0.8421" stop-color="#ff0cde"/><stop offset="0.8947" stop-color="#ff09d0"/><stop offset="0.9474" stop-color="#ff06c2"/><stop offset="1" stop-color="#ff03b6"/></linearGradient><linearGradient id="g78"><stop offset="0" stop-color="#0d22fe"/><stop offset="0.05263" stop-color="#1022fe"/><stop offset="0.1053" stop-color="#1222fe"/><stop offset="0.1579" stop-color="#1421fe"/><stop offset="0.2105" stop-color="#2c21fe"/><stop offset="0.2632" stop-color="#4822fe"/><stop offset="0.3158" stop-color="#6022fd"/><stop offset="0.3684" stop-color="#7821fc"/><stop offset="0.4211" stop-color="#8f20fb"/><stop offset="0.4737" stop-color="#a61ffa"/><stop offset="0.5263" stop-color="#bb1cf8"/><stop offset="0.5789" stop-color="#cf1af6"/><stop offset="0.6316" stop-color="#e018f5"/><stop offset="0.6842" stop-color="#ef15f4"/><stop offset="0.7368" stop-color="#fc12f3"/><stop offset="0.7895" stop-color="#ff0ff2"/><stop offset="0.8421" stop-color="#ff0ce2"/><stop offset="0.8947" stop-color="#ff09d3"/><stop offset="0.9474" stop-color="#ff06c6"/><stop offset="1" stop-color="#ff03b9"/></linearGradient><linearGradient id="g79"><stop offset="0" stop-color="#0c21fe"/><stop offset="0.05556" stop-color="#0f21fe"/><stop offset="0.1111" stop-color="#1120fe"/><stop offset="0.1667" stop-color="#131ffe"/><stop offset="0.2222" stop-color="#3120fe"/><stop offset="0.2778" stop-color="#4d20fe"/><stop offset="0.3333" stop-color="#6620fd"/><stop offset="0.3889" stop-color="#7e1ffc"/><stop offset="0.4444" stop-color="#961efb"/><stop offset="0.5" stop-color="#ad1cf9"/><stop offset="0.5556" stop-color="#c31af7"/><stop offset="0.6111" stop-color="#d618f6"/><stop offset="0.6667" stop-color="#e615f4"/><stop offset="0.7222" stop-color="#f512f3"/><stop offset="0.7778" stop-color="#ff0ff2"/><stop offset="0.8333" stop-color="#ff0ce8"/><stop offset="0.8889" stop-color="#ff09d8"/><stop offset="0.9444" stop-color="#ff06ca"/><stop offset="1" stop-color="#ff03bd"/></linearGradient><linearGradient id="g80"><stop offset="0" stop-color="#0c20fe"/><stop offset="0.05556" stop-color="#0e1ffe"/><stop offset="0.1111" stop-color="#101ffe"/><stop offset="0.1667" stop-color="#121efe"/><stop offset="0.2222" stop-color="#301efe"/><stop offset="0.2778" stop-color="#4a1efe"/><stop offset="0.3333" stop-color="#631ffd"/><stop offset="0.3889" stop-color="#7b1efc"/><stop offset="0.4444" stop-color="#931dfb"/><stop offset="0.5" stop-color="#a91bf9"/><stop offset="0.5556" stop-color="#bf19f8"/><stop offset="0.6111" stop-color="#d217f6"/><stop offset="0.6667" stop-color="#e314f4"/><stop offset="0.7222" stop-color="#f112f3"/><stop offset="0.7778" stop-color="#ff0ff1"/><stop offset="0.8333" stop-color="#ff0ced"/><stop offset="0.8889" stop-color="#ff09dc"/><stop offset="0.9444" stop-color="#ff06cd"/><stop offset="1" stop-color="#ff03c0"/></linearGradient><linearGradient id="g81"><stop offset="0" stop-color="#0b1efe"/><stop offset="0.05556" stop-color="#0d1efe"/><stop offset="0.1111" stop-color="#0f1dff"/><stop offset="0.1667" stop-color="#111dff"/><stop offset="0.2222" stop-color="#2e1dfe"/><stop offset="0.2778" stop-color="#481dfe"/><stop offset="0.3333" stop-color="#601dfe"/><stop offset="0.3889" stop-color="#781cfd"/><stop offset="0.4444" stop-color="#8f1bfb"/><stop offset="0.5" stop-color="#a619fa"/><stop offset="0.5556" stop-color="#bb18f8"/><stop offset="0.6111" stop-color="#ce16f6"/><stop offset="0.6667" stop-color="#df13f4"/><stop offset="0.7222" stop-color="#ed11f2"/><stop offset="0.7778" stop-color="#fb0ef1"/><stop offset="0.8333" stop-color="#ff0bef"/><stop offset="0.8889" stop-color="#ff08e0"/><stop offset="0.9444" stop-color="#ff06d1"/><stop offset="1" stop-color="#ff03c4"/></linearGradient><linearGradient id="g82"><stop offset="0" stop-color="#0a1dff"/><stop offset="0.05556" stop-color="#0c1dff"/><stop offset="0.1111" stop-color="#0e1cff"/><stop offset="0.1667" stop-color="#0f1bff"/><stop offset="0.2222" stop-color="#2c1bff"/><stop offset="0.2778" stop-color="#461bfe"/><stop offset="0.3333" stop-color="#5d1bfe"/><stop offset="0.3889" stop-color="#751bfd"/><stop offset="0.4444" stop-color="#8c19fc"/><stop offset="0.5" stop-color="#a218fa"/><stop offset="0.5556" stop-color="#b716f8"/><stop offset="0.6111" stop-color="#ca15f6"/><stop offset="0.6667" stop-color="#db12f4"/><stop offset="0.7222" stop-color="#ea10f2"/><stop offset="0.7778" stop-color="#f70df0"/><stop offset="0.8333" stop-color="#ff0bef"/><stop offset="0.8889" stop-color="#ff08e4"/><stop offset="0.9444" stop-color="#ff05d5"/><stop offset="1" stop-color="#ff03c7"/></linearGradient><linearGradient id="g83"><stop offset="0" stop-color="#091cff"/><stop offset="0.05882" stop-color="#0b1bff"/><stop offset="0.1176" stop-color="#0d1aff"/><stop offset="0.1765" stop-color="#0e1aff"/><stop offset="0.2353" stop-color="#311aff"/><stop offset="0.2941" stop-color="#4b1afe"/><stop offset="0.3529" stop-color="#631afe"/><stop offset="0.4118" stop-color="#7b19fd"/><stop offset="0.4706" stop-color="#9317fb"/><stop offset="0.5294" stop-color="#a916fa"/><stop offset="0.5882" stop-color="#bf14f8"/><stop offset="0.6471" stop-color="#d212f5"/><stop offset="0.7059" stop-color="#e210f3"/><stop offset="0.7647" stop-color="#f00df1"/><stop offset="0.8235" stop-color="#fe0bee"/><stop offset="0.8824" stop-color="#ff08eb"/><stop offset="0.9412" stop-color="#ff06da"/><stop offset="1" stop-color="#ff03cb"/></linearGradient><linearGradient id="g84"><stop offset="0" stop-color="#081bff"/><stop offset="0.05882" stop-color="#0a1aff"/><stop offset="0.1176" stop-color="#0b19ff"/><stop offset="0.1765" stop-color="#0c18ff"/><stop offset="0.2353" stop-color="#2f18ff"/><stop offset="0.2941" stop-color="#4818ff"/><stop offset="0.3529" stop-color="#6018fe"/><stop offset="0.4118" stop-color="#7717fd"/><stop offset="0.4706" stop-color="#8f16fc"/><stop offset="0.5294" stop-color="#a515fa"/><stop offset="0.5882" stop-color="#bb13f8"/><stop offset="0.6471" stop-color="#ce11f6"/><stop offset="0.7059" stop-color="#de0ff3"/><stop offset="0.7647" stop-color="#ed0df1"/><stop offset="0.8235" stop-color="#fa0aee"/><stop offset="0.8824" stop-color="#ff08ec"/><stop offset="0.9412" stop-color="#ff05de"/><stop offset="1" stop-color="#ff03cf"/></linearGradient><linearGradient id="g85"><stop offset="0" stop-color="#071aff"/><stop offset="0.05882" stop-color="#0919ff"/><stop offset="0.1176" stop-color="#0a18ff"/><stop offset="0.1765" stop-color="#0b17ff"/><stop offset="0.2353" stop-color="#2d17ff"/><stop offset="0.2941" stop-color="#4617ff"/><stop offset="0.3529" stop-color="#5d16fe"/><stop offset="0.4118" stop-color="#7415fd"/><stop offset="0.4706" stop-color="#8b14fc"/><stop offset="0.5294" stop-color="#a113fa"/><stop offset="0.5882" stop-color="#b712f8"/><stop offset="0.6471" stop-color="#ca10f6"/><stop offset="0.7059" stop-color="#da0ef4"/><stop offset="0.7647" stop-color="#e90cf1"/><stop offset="0.8235" stop-color="#f60aee"/><stop offset="0.8824" stop-color="#ff07eb"/><stop offset="0.9412" stop-color="#ff05e3"/><stop offset="1" stop-color="#ff03d4"/></linearGradient><linearGradient id="g86"><stop offset="0" stop-color="#0619ff"/><stop offset="0.05882" stop-color="#0818ff"/><stop offset="0.1176" stop-color="#0917ff"/><stop offset="0.1765" stop-color="#0a16ff"/><stop offset="0.2353" stop-color="#2b16ff"/><stop offset="0.2941" stop-color="#4315ff"/><stop offset="0.3529" stop-color="#5a15fe"/><stop offset="0.4118" stop-color="#7114fe"/><stop offset="0.4706" stop-color="#8713fc"/><stop offset="0.5294" stop-color="#9e12fb"/><stop offset="0.5882" stop-color="#b211f9"/><stop offset="0.6471" stop-color="#c60ff6"/><stop offset="0.7059" stop-color="#d60df4"/><stop offset="0.7647" stop-color="#e50bf1"/><stop offset="0.8235" stop-color="#f209ee"/><stop offset="0.8824" stop-color="#fe07eb"/><stop offset="0.9412" stop-color="#ff05e7"/><stop offset="1" stop-color="#ff03d8"/></linearGradient><linearGradient id="g87"><stop offset="0" stop-color="#0517ff"/><stop offset="0.0625" stop-color="#0616ff"/><stop offset="0.125" stop-color="#0715ff"/><stop offset="0.1875" stop-color="#1215ff"/><stop offset="0.25" stop-color="#3014ff"/><stop offset="0.3125" stop-color="#4814ff"/><stop offset="0.375" stop-color="#6013fe"/><stop offset="0.4375" stop-color="#7712fd"/><stop offset="0.5" stop-color="#8f11fc"/><stop offset="0.5625" stop-color="#a510fa"/><stop offset="0.625" stop-color="#bb0ff8"/><stop offset="0.6875" stop-color="#cd0df5"/><stop offset="0.75" stop-color="#de0bf2"/><stop offset="0.8125" stop-color="#ec09ef"/><stop offset="0.875" stop-color="#f807eb"/><stop offset="0.9375" stop-color="#ff05e8"/><stop offset="1" stop-color="#ff03dd"/></linearGradient><linearGradient id="g88"><stop offset="0" stop-color="#0416ff"/><stop offset="0.0625" stop-color="#0515ff"/><stop offset="0.125" stop-color="#0614ff"/><stop offset="0.1875" stop-color="#1113ff"/><stop offset="0.25" stop-color="#2e13ff"/><stop offset="0.3125" stop-color="#4612ff"/><stop offset="0.375" stop-color="#5d12fe"/><stop offset="0.4375" stop-color="#7411fe"/><stop offset="0.5" stop-color="#8b10fc"/><stop offset="0.5625" stop-color="#a10ffb"/><stop offset="0.625" stop-color="#b60df8"/><stop offset="0.6875" stop-color="#c90cf6"/><stop offset="0.75" stop-color="#da0af3"/><stop offset="0.8125" stop-color="#e808ef"/><stop offset="0.875" stop-color="#f406eb"/><stop offset="0.9375" stop-color="#ff05e8"/><stop offset="1" stop-color="#ff02e2"/></linearGradient><linearGradient id="g89"><stop offset="0" stop-color="#0315ff"/><stop offset="0.0625" stop-color="#0414ff"/><stop offset="0.125" stop-color="#0513ff"/><stop offset="0.1875" stop-color="#1012ff"/><stop offset="0.25" stop-color="#2c11ff"/><stop offset="0.3125" stop-color="#4311ff"/><stop offset="0.375" stop-color="#5a10ff"/><stop offset="0.4375" stop-color="#710ffe"/><stop offset="0.5" stop-color="#870efd"/><stop offset="0.5625" stop-color="#9d0dfb"/><stop offset="0.625" stop-color="#b20cf9"/><stop offset="0.6875" stop-color="#c50bf6"/><stop offset="0.75" stop-color="#d609f3"/><stop offset="0.8125" stop-color="#e408f0"/><stop offset="0.875" stop-color="#f006ec"/><stop offset="0.9375" stop-color="#fc04e8"/><stop offset="1" stop-color="#ff02e6"/></linearGradient><linearGradient id="g90"><stop offset="0" stop-color="#0214ff"/><stop offset="0.0625" stop-color="#0313ff"/><stop offset="0.125" stop-color="#0312ff"/><stop offset="0.1875" stop-color="#0f11ff"/><stop offset="0.25" stop-color="#2a10ff"/><stop offset="0.3125" stop-color="#410fff"/><stop offset="0.375" stop-color="#570fff"/><stop offset="0.4375" stop-color="#6d0efe"/><stop offset="0.5" stop-color="#840dfd"/><stop offset="0.5625" stop-color="#990cfb"/><stop offset="0.625" stop-color="#ae0bf9"/><stop offset="0.6875" stop-color="#c10af7"/><stop offset="0.75" stop-color="#d209f3"/><stop offset="0.8125" stop-color="#e007f0"/><stop offset="0.875" stop-color="#ed05ec"/><stop offset="0.9375" stop-color="#f804e8"/><stop offset="1" stop-color="#ff02e6"/></linearGradient><linearGradient id="g91"><stop offset="0" stop-color="#0113ff"/><stop offset="0.06667" stop-color="#0212ff"/><stop offset="0.1333" stop-color="#0211ff"/><stop offset="0.2" stop-color="#1510ff"/><stop offset="0.2667" stop-color="#2f0fff"/><stop offset="0.3333" stop-color="#460eff"/><stop offset="0.4" stop-color="#5d0dff"/><stop offset="0.4667" stop-color="#740cfe"/><stop offset="0.5333" stop-color="#8c0bfc"/><stop offset="0.6" stop-color="#a20bfb"/><stop offset="0.6667" stop-color="#b709f8"/><stop offset="0.7333" stop-color="#c908f5"/><stop offset="0.8" stop-color="#da07f1"/><stop offset="0.8667" stop-color="#e705ed"/><stop offset="0.9333" stop-color="#f304e9"/><stop offset="1" stop-color="#ff02e6"/></linearGradient><linearGradient id="g92"><stop offset="0" stop-color="#0012ff"/><stop offset="0.06667" stop-color="#0011ff"/><stop offset="0.1333" stop-color="#010fff"/><stop offset="0.2" stop-color="#140eff"/><stop offset="0.2667" stop-color="#2d0dff"/><stop offset="0.3333" stop-color="#440dff"/><stop offset="0.4" stop-color="#5b0cff"/><stop offset="0.4667" stop-color="#710bfe"/><stop offset="0.5333" stop-color="#880afd"/><stop offset="0.6" stop-color="#9e09fb"/><stop offset="0.6667" stop-color="#b309f8"/><stop offset="0.7333" stop-color="#c507f5"/><stop offset="0.8" stop-color="#d506f2"/><stop offset="0.8667" stop-color="#e305ee"/><stop offset="0.9333" stop-color="#ef03ea"/><stop offset="1" stop-color="#fb02e6"/></linearGradient><linearGradient id="g93"><stop offset="0" stop-color="#0011ff"/><stop offset="0.06667" stop-color="#0010ff"/><stop offset="0.1333" stop-color="#000eff"/><stop offset="0.2" stop-color="#130dff"/><stop offset="0.2667" stop-color="#2c0cff"/><stop offset="0.3333" stop-color="#420bff"/><stop offset="0.4" stop-color="#580bff"/><stop offset="0.4667" stop-color="#6e0afe"/><stop offset="0.5333" stop-color="#8409fd"/><stop offset="0.6" stop-color="#9a08fb"/><stop offset="0.6667" stop-color="#ae08f9"/><stop offset="0.7333" stop-color="#c107f6"/><stop offset="0.8" stop-color="#d105f2"/><stop offset="0.8667" stop-color="#df04ee"/><stop offset="0.9333" stop-color="#eb03ea"/><stop offset="1" stop-color="#f601e7"/></linearGradient><linearGradient id="g94"><stop offset="0" stop-color="#0010ff"/><stop offset="0.07143" stop-color="#000fff"/><stop offset="0.1429" stop-color="#000dff"/><stop offset="0.2143" stop-color="#170cff"/><stop offset="0.2857" stop-color="#300bff"/><stop offset="0.3571" stop-color="#480aff"/><stop offset="0.4286" stop-color="#5f09ff"/><stop offset="0.5" stop-color="#7608fe"/><stop offset="0.5714" stop-color="#8d08fc"/><stop offset="0.6429" stop-color="#a307fa"/><stop offset="0.7143" stop-color="#b706f7"/><stop offset="0.7857" stop-color="#c905f4"/><stop offset="0.8571" stop-color="#d904ef"/><stop offset="0.9286" stop-color="#e602eb"/><stop offset="1" stop-color="#f201e7"/></linearGradient><linearGradient id="g95"><stop offset="0" stop-color="#000fff"/><stop offset="0.07143" stop-color="#000eff"/><stop offset="0.1429" stop-color="#000cff"/><stop offset="0.2143" stop-color="#170bff"/><stop offset="0.2857" stop-color="#2f0aff"/><stop offset="0.3571" stop-color="#4509ff"/><stop offset="0.4286" stop-color="#5c08ff"/><stop offset="0.5" stop-color="#7307fe"/><stop offset="0.5714" stop-color="#8907fd"/><stop offset="0.6429" stop-color="#9f06fb"/><stop offset="0.7143" stop-color="#b305f8"/><stop offset="0.7857" stop-color="#c504f4"/><stop offset="0.8571" stop-color="#d403f0"/><stop offset="0.9286" stop-color="#e202ec"/><stop offset="1" stop-color="#ee01e8"/></linearGradient><linearGradient id="g96"><stop offset="0" stop-color="#000eff"/><stop offset="0.07143" stop-color="#000dff"/><stop offset="0.1429" stop-color="#000bff"/><stop offset="0.2143" stop-color="#160aff"/><stop offset="0.2857" stop-color="#2d09ff"/><stop offset="0.3571" stop-color="#4308ff"/><stop offset="0.4286" stop-color="#5907ff"/><stop offset="0.5" stop-color="#7006fe"/><stop offset="0.5714" stop-color="#8606fd"/><stop offset="0.6429" stop-color="#9b05fb"/><stop offset="0.7143" stop-color="#af05f8"/><stop offset="0.7857" stop-color="#c104f5"/><stop offset="0.8571" stop-color="#d003f1"/><stop offset="0.9286" stop-color="#dd02ec"/><stop offset="1" stop-color="#e900e9"/></linearGradient><linearGradient id="g97"><stop offset="0" stop-color="#000dff"/><stop offset="0.07143" stop-color="#000cff"/><stop offset="0.1429" stop-color="#000aff"/><stop offset="0.2143" stop-color="#1509ff"/><stop offset="0.2857" stop-color="#2c08ff"/><stop offset="0.3571" stop-color="#4107ff"/><stop offset="0.4286" stop-color="#5706ff"/><stop offset="0.5" stop-color="#6d05ff"/><stop offset="0.5714" stop-color="#8205fd"/><stop offset="0.6429" stop-color="#9704fb"/><stop offset="0.7143" stop-color="#ab04f9"/><stop offset="0.7857" stop-color="#bc03f5"/><stop offset="0.8571" stop-color="#cc02f1"/><stop offset="0.9286" stop-color="#d901ed"/><stop offset="1" stop-color="#e500e9"/></linearGradient><linearGradient id="g98"><stop offset="0" stop-color="#000cff"/><stop offset="0.07692" stop-color="#000bff"/><stop offset="0.1538" stop-color="#0009ff"/><stop offset="0.2308" stop-color="#1a08ff"/><stop offset="0.3077" stop-color="#3106ff"/><stop offset="0.3846" stop-color="#4805ff"/><stop offset="0.4615" stop-color="#5e05ff"/><stop offset="0.5385" stop-color="#7504fe"/><stop offset="0.6154" stop-color="#8c04fd"/><stop offset="0.6923" stop-color="#a103fa"/><stop offset="0.7692" stop-color="#b403f7"/><stop offset="0.8462" stop-color="#c502f3"/><stop offset="0.9231" stop-color="#d401ee"/><stop offset="1" stop-color="#e100ea"/></linearGradient><linearGradient id="g99"><stop offset="0" stop-color="#000bff"/><stop offset="0.07692" stop-color="#000aff"/><stop offset="0.1538" stop-color="#0008ff"/><stop offset="0.2308" stop-color="#1907ff"/><stop offset="0.3077" stop-color="#3005ff"/><stop offset="0.3846" stop-color="#4605ff"/><stop offset="0.4615" stop-color="#5c04ff"/><stop offset="0.5385" stop-color="#7204fe"/><stop offset="0.6154" stop-color="#8803fd"/><stop offset="0.6923" stop-color="#9d03fb"/><stop offset="0.7692" stop-color="#b002f7"/><stop offset="0.8462" stop-color="#c101f3"/><stop offset="0.9231" stop-color="#cf00ef"/><stop offset="1" stop-color="#dc00eb"/></linearGradient><linearGradient id="g100"><stop offset="0" stop-color="#000bff"/><stop offset="0.07692" stop-color="#0009ff"/><stop offset="0.1538" stop-color="#0007ff"/><stop offset="0.2308" stop-color="#1806ff"/><stop offset="0.3077" stop-color="#2f04ff"/><stop offset="0.3846" stop-color="#4404ff"/><stop offset="0.4615" stop-color="#5903ff"/><stop offset="0.5385" stop-color="#6f03fe"/><stop offset="0.6154" stop-color="#8502fd"/><stop offset="0.6923" stop-color="#9902fb"/><stop offset="0.7692" stop-color="#ac01f8"/><stop offset="0.8462" stop-color="#bc01f4"/><stop offset="0.9231" stop-color="#cb00f0"/><stop offset="1" stop-color="#d800ec"/></linearGradient><linearGradient id="g101"><stop offset="0" stop-color="#000aff"/><stop offset="0.07692" stop-color="#0008ff"/><stop offset="0.1538" stop-color="#0006ff"/><stop offset="0.2308" stop-color="#1805ff"/><stop offset="0.3077" stop-color="#2d04ff"/><stop offset="0.3846" stop-color="#4203ff"/><stop offset="0.4615" stop-color="#5702ff"/><stop offset="0.5385" stop-color="#6c02ff"/><stop offset="0.6154" stop-color="#8202fd"/><stop offset="0.6923" stop-color="#9501fb"/><stop offset="0.7692" stop-color="#a801f8"/><stop offset="0.8462" stop-color="#b800f4"/><stop offset="0.9231" stop-color="#c600f0"/><stop offset="1" stop-color="#d300ec"/></linearGradient><linearGradient id="g102"><stop offset="0" stop-color="#0009ff"/><stop offset="0.08333" stop-color="#0007ff"/><stop offset="0.1667" stop-color="#0305ff"/><stop offset="0.25" stop-color="#1d04ff"/><stop offset="0.3333" stop-color="#3303ff"/><stop offset="0.4167" stop-color="#4902ff"/><stop offset="0.5" stop-color="#5f02ff"/><stop offset="0.5833" stop-color="#7601fe"/><stop offset="0.6667" stop-color="#8b01fc"/><stop offset="0.75" stop-color="#9f01f9"/><stop offset="0.8333" stop-color="#b100f6"/><stop offset="0.9167" stop-color="#c100f1"/><stop offset="1" stop-color="#cf00ed"/></linearGradient><linearGradient id="g103"><stop offset="0" stop-color="#0008ff"/><stop offset="0.08333" stop-color="#0006ff"/><stop offset="0.1667" stop-color="#0305ff"/><stop offset="0.25" stop-color="#1c03ff"/><stop offset="0.3333" stop-color="#3202ff"/><stop offset="0.4167" stop-color="#4801ff"/><stop offset="0.5" stop-color="#5d01ff"/><stop offset="0.5833" stop-color="#7301fe"/><stop offset="0.6667" stop-color="#8801fd"/><stop offset="0.75" stop-color="#9b00fa"/><stop offset="0.8333" stop-color="#ad00f6"/><stop offset="0.9167" stop-color="#bc00f2"/><stop offset="1" stop-color="#ca00ee"/></linearGradient><linearGradient id="g104"><stop offset="0" stop-color="#0007ff"/><stop offset="0.08333" stop-color="#0005ff"/><stop offset="0.1667" stop-color="#0404ff"/><stop offset="0.25" stop-color="#1c02ff"/><stop offset="0.3333" stop-color="#3101ff"/><stop offset="0.4167" stop-color="#4601ff"/><stop offset="0.5" stop-color="#5b00ff"/><stop offset="0.5833" stop-color="#7000fe"/><stop offset="0.6667" stop-color="#8500fd"/><stop offset="0.75" stop-color="#9700fa"/><stop offset="0.8333" stop-color="#a900f7"/><stop offset="0.9167" stop-color="#b800f3"/><stop offset="1" stop-color="#c600ef"/></linearGradient><linearGradient id="g105"><stop offset="0" stop-color="#0006ff"/><stop offset="0.09091" stop-color="#0005ff"/><stop offset="0.1818" stop-color="#0903ff"/><stop offset="0.2727" stop-color="#2202ff"/><stop offset="0.3636" stop-color="#3801ff"/><stop offset="0.4545" stop-color="#4e00ff"/><stop offset="0.5455" stop-color="#6400ff"/><stop offset="0.6364" stop-color="#7a00fe"/><stop offset="0.7273" stop-color="#8f00fb"/><stop offset="0.8182" stop-color="#a100f8"/><stop offset="0.9091" stop-color="#b200f4"/><stop offset="1" stop-color="#c100f0"/></linearGradient><linearGradient id="g106"><stop offset="0" stop-color="#0006ff"/><stop offset="0.09091" stop-color="#0004ff"/><stop offset="0.1818" stop-color="#0a02ff"/><stop offset="0.2727" stop-color="#2101ff"/><stop offset="0.3636" stop-color="#3700ff"/><stop offset="0.4545" stop-color="#4d00ff"/><stop offset="0.5455" stop-color="#6200ff"/><stop offset="0.6364" stop-color="#7700fe"/><stop offset="0.7273" stop-color="#8b00fb"/><stop offset="0.8182" stop-color="#9d00f8"/><stop offset="0.9091" stop-color="#ae00f5"/><stop offset="1" stop-color="#bd00f0"/></linearGradient><linearGradient id="g107"><stop offset="0" stop-color="#0005ff"/><stop offset="0.09091" stop-color="#0003ff"/><stop offset="0.1818" stop-color="#0a02ff"/><stop offset="0.2727" stop-color="#2101ff"/><stop offset="0.3636" stop-color="#3600ff"/><stop offset="0.4545" stop-color="#4b00ff"/><stop offset="0.5455" stop-color="#6000ff"/><stop offset="0.6364" stop-color="#7500fe"/><stop offset="0.7273" stop-color="#8800fc"/><stop offset="0.8182" stop-color="#9900f9"/><stop offset="0.9091" stop-color="#a900f5"/><stop offset="1" stop-color="#b800f1"/></linearGradient><linearGradient id="g108"><stop offset="0" stop-color="#0004ff"/><stop offset="0.1" stop-color="#0003ff"/><stop offset="0.2" stop-color="#1001ff"/><stop offset="0.3" stop-color="#2700ff"/><stop offset="0.4" stop-color="#3e00ff"/><stop offset="0.5" stop-color="#5400ff"/><stop offset="0.6" stop-color="#6a00fe"/><stop offset="0.7" stop-color="#7f00fc"/><stop offset="0.8" stop-color="#9200fa"/><stop offset="0.9" stop-color="#a400f6"/><stop offset="1" stop-color="#b300f2"/></linearGradient><linearGradient id="g109"><stop offset="0" stop-color="#0004ff"/><stop offset="0.1" stop-color="#0002ff"/><stop offset="0.2" stop-color="#1001ff"/><stop offset="0.3" stop-color="#2700ff"/><stop offset="0.4" stop-color="#3d00ff"/><stop offset="0.5" stop-color="#5200ff"/><stop offset="0.6" stop-color="#6800fe"/><stop offset="0.7" stop-color="#7c00fd"/><stop offset="0.8" stop-color="#8e00fa"/><stop offset="0.9" stop-color="#9f00f7"/><stop offset="1" stop-color="#af00f3"/></linearGradient><linearGradient id="g110"><stop offset="0" stop-color="#0003ff"/><stop offset="0.1" stop-color="#0002ff"/><stop offset="0.2" stop-color="#1100ff"/><stop offset="0.3" stop-color="#2700ff"/><stop offset="0.4" stop-color="#3c00ff"/><stop offset="0.5" stop-color="#5100ff"/><stop offset="0.6" stop-color="#6500fe"/><stop offset="0.7" stop-color="#7900fd"/><stop offset="0.8" stop-color="#8b00fa"/><stop offset="0.9" stop-color="#9b00f7"/><stop offset="1" stop-color="#aa00f3"/></linearGradient><linearGradient id="g111"><stop offset="0" stop-color="#0002ff"/><stop offset="0.1" stop-color="#0001ff"/><stop offset="0.2" stop-color="#1200ff"/><stop offset="0.3" stop-color="#2700ff"/><stop offset="0.4" stop-color="#3b00ff"/><stop offset="0.5" stop-color="#4f00ff"/><stop offset="0.6" stop-color="#6300fe"/><stop offset="0.7" stop-color="#7600fd"/><stop offset="0.8" stop-color="#8700fa"/><stop offset="0.9" stop-color="#9700f7"/><stop offset="1" stop-color="#a600f4"/></linearGradient><linearGradient id="g112"><stop offset="0" stop-color="#0002ff"/><stop offset="0.1111" stop-color="#0000ff"/><stop offset="0.2222" stop-color="#1800ff"/><stop offset="0.3333" stop-color="#2e00ff"/><stop offset="0.4444" stop-color="#4300ff"/><stop offset="0.5556" stop-color="#5800ff"/><stop offset="0.6667" stop-color="#6d00fd"/><stop offset="0.7778" stop-color="#8000fb"/><stop offset="0.8889" stop-color="#9100f8"/><stop offset="1" stop-color="#a100f5"/></linearGradient><linearGradient id="g113"><stop offset="0" stop-color="#0001ff"/><stop offset="0.1111" stop-color="#0000ff"/><stop offset="0.2222" stop-color="#1800ff"/><stop offset="0.3333" stop-color="#2e00ff"/><stop offset="0.4444" stop-color="#4200ff"/><stop offset="0.5556" stop-color="#5700ff"/><stop offset="0.6667" stop-color="#6a00fd"/><stop offset="0.7778" stop-color="#7c00fb"/><stop offset="0.8889" stop-color="#8d00f9"/><stop offset="1" stop-color="#9d00f5"/></linearGradient><linearGradient id="g114"><stop offset="0" stop-color="#0001ff"/><stop offset="0.1111" stop-color="#0200ff"/><stop offset="0.2222" stop-color="#1900ff"/><stop offset="0.3333" stop-color="#2e00ff"/><stop offset="0.4444" stop-color="#4200ff"/><stop offset="0.5556" stop-color="#5500ff"/><stop offset="0.6667" stop-color="#6800fd"/><stop offset="0.7778" stop-color="#7900fb"/><stop offset="0.8889" stop-color="#8900f9"/><stop offset="1" stop-color="#9800f6"/></linearGradient><linearGradient id="g115"><stop offset="0" stop-color="#0000ff"/><stop offset="0.125" stop-color="#0800ff"/><stop offset="0.25" stop-color="#1f00ff"/><stop offset="0.375" stop-color="#3500ff"/><stop offset="0.5" stop-color="#4a00ff"/><stop offset="0.625" stop-color="#5e00fe"/><stop offset="0.75" stop-color="#7200fc"/><stop offset="0.875" stop-color="#8300f9"/><stop offset="1" stop-color="#9400f6"/></linearGradient>
</defs>
<rect width="1674" height="942" fill="#fff"/>
<rect x="151.2" y="72.0" width="788.3" height="719.3" fill="#f0f0f0"/>
<g><line x1="178.2" y1="72.0" x2="178.2" y2="791.3" stroke="#5a5a5a" stroke-width="1" stroke-dasharray="7 4" opacity="1"/><line x1="247.4" y1="72.0" x2="247.4" y2="791.3" stroke="#383838" stroke-width="1.4" opacity="1"/><line x1="316.6" y1="72.0" x2="316.6" y2="791.3" stroke="#5a5a5a" stroke-width="1" stroke-dasharray="7 4" opacity="1"/><line x1="385.7" y1="72.0" x2="385.7" y2="791.3" stroke="#383838" stroke-width="1.4" opacity="1"/><line x1="454.9" y1="72.0" x2="454.9" y2="791.3" stroke="#5a5a5a" stroke-width="1" stroke-dasharray="7 4" opacity="1"/><line x1="524.1" y1="72.0" x2="524.1" y2="791.3" stroke="#383838" stroke-width="1.4" opacity="1"/><line x1="593.2" y1="72.0" x2="593.2" y2="791.3" stroke="#5a5a5a" stroke-width="1" stroke-dasharray="7 4" opacity="1"/><line x1="662.4" y1="72.0" x2="662.4" y2="791.3" stroke="#383838" stroke-width="1.4" opacity="1"/><line x1="731.6" y1="72.0" x2="731.6" y2="791.3" stroke="#5a5a5a" stroke-width="1" stroke-dasharray="7 4" opacity="1"/><line x1="800.8" y1="72.0" x2="800.8" y2="791.3" stroke="#383838" stroke-width="1.4" opacity="1"/><line x1="869.9" y1="72.0" x2="869.9" y2="791.3" stroke="#5a5a5a" stroke-width="1" stroke-dasharray="7 4" opacity="1"/><line x1="151.2" y1="722.1" x2="939.5" y2="722.1" stroke="#5a5a5a" stroke-width="1" stroke-dasharray="7 4" opacity="1"/><line x1="151.2" y1="652.9" x2="939.5" y2="652.9" stroke="#383838" stroke-width="1.4" opacity="1"/><line x1="151.2" y1="583.8" x2="939.5" y2="583.8" stroke="#5a5a5a" stroke-width="1" stroke-dasharray="7 4" opacity="1"/><line x1="151.2" y1="514.6" x2="939.5" y2="514.6" stroke="#383838" stroke-width="1.4" opacity="1"/><line x1="151.2" y1="445.4" x2="939.5" y2="445.4" stroke="#5a5a5a" stroke-width="1" stroke-dasharray="7 4" opacity="1"/><line x1="151.2" y1="376.2" x2="939.5" y2="376.2" stroke="#383838" stroke-width="1.4" opacity="1"/><line x1="151.2" y1="307.0" x2="939.5" y2="307.0" stroke="#5a5a5a" stroke-width="1" stroke-dasharray="7 4" opacity="1"/><line x1="151.2" y1="237.9" x2="939.5" y2="237.9" stroke="#383838" stroke-width="1.4" opacity="1"/><line x1="151.2" y1="168.7" x2="939.5" y2="168.7" stroke="#5a5a5a" stroke-width="1" stroke-dasharray="7 4" opacity="1"/><line x1="151.2" y1="99.5" x2="939.5" y2="99.5" stroke="#383838" stroke-width="1.4" opacity="1"/></g>
<g clip-path="url(#frame)"><g clip-path="url(#loc)"><g filter="url(#vb)">
<rect x="141.8" y="109" width="85.5" height="7" fill="url(#g0)"/><rect x="141.2" y="115" width="143.2" height="7" fill="url(#g1)"/><rect x="141.2" y="121" width="187.4" height="7" fill="url(#g2)"/><rect x="141.2" y="127" width="229.0" height="7" fill="url(#g3)"/><rect x="141.2" y="133" width="269.6" height="7" fill="url(#g4)"/><rect x="141.2" y="139" width="309.8" height="7" fill="url(#g5)"/><rect x="141.2" y="145" width="349.9" height="7" fill="url(#g6)"/><rect x="141.2" y="151" width="390.1" height="7" fill="url(#g7)"/><rect x="141.2" y="157" width="430.3" height="7" fill="url(#g8)"/><rect x="141.2" y="163" width="470.4" height="7" fill="url(#g9)"/><rect x="141.2" y="169" width="510.4" height="7" fill="url(#g10)"/><rect x="141.2" y="175" width="550.5" height="7" fill="url(#g11)"/><rect x="141.2" y="181" width="590.9" height="7" fill="url(#g12)"/><rect x="141.2" y="187" width="631.2" height="7" fill="url(#g13)"/><rect x="141.2" y="193" width="671.2" height="7" fill="url(#g14)"/><rect x="141.2" y="199" width="711.2" height="7" fill="url(#g15)"/><rect x="141.2" y="205" width="751.4" height="7" fill="url(#g16)"/><rect x="141.2" y="211" width="791.4" height="7" fill="url(#g17)"/><rect x="141.2" y="217" width="808.3" height="7" fill="url(#g18)"/><rect x="141.2" y="223" width="808.3" height="7" fill="url(#g19)"/><rect x="141.2" y="229" width="808.3" height="7" fill="url(#g20)"/><rect x="141.2" y="235" width="808.3" height="7" fill="url(#g21)"/><rect x="141.2" y="241" width="808.3" height="7" fill="url(#g22)"/><rect x="141.2" y="247" width="808.3" height="7" fill="url(#g23)"/><rect x="141.2" y="253" width="808.3" height="7" fill="url(#g24)"/><rect x="141.2" y="259" width="808.3" height="7" fill="url(#g25)"/><rect x="141.2" y="265" width="808.3" height="7" fill="url(#g26)"/><rect x="141.2" y="271" width="808.3" height="7" fill="url(#g27)"/><rect x="141.2" y="277" width="808.3" height="7" fill="url(#g28)"/><rect x="141.2" y="283" width="806.8" height="7" fill="url(#g29)"/><rect x="141.2" y="289" width="802.3" height="7" fill="url(#g30)"/><rect x="141.2" y="295" width="797.8" height="7" fill="url(#g31)"/><rect x="141.2" y="301" width="793.3" height="7" fill="url(#g32)"/><rect x="141.2" y="307" width="788.8" height="7" fill="url(#g33)"/><rect x="141.2" y="313" width="784.3" height="7" fill="url(#g34)"/><rect x="141.2" y="319" width="779.8" height="7" fill="url(#g35)"/><rect x="141.2" y="325" width="775.3" height="7" fill="url(#g36)"/><rect x="141.2" y="331" width="770.8" height="7" fill="url(#g37)"/><rect x="141.2" y="337" width="766.4" height="7" fill="url(#g38)"/><rect x="141.2" y="343" width="761.9" height="7" fill="url(#g39)"/><rect x="141.2" y="349" width="757.4" height="7" fill="url(#g40)"/><rect x="141.2" y="355" width="752.9" height="7" fill="url(#g41)"/><rect x="141.2" y="361" width="748.4" height="7" fill="url(#g42)"/><rect x="141.2" y="367" width="743.9" height="7" fill="url(#g43)"/><rect x="141.2" y="373" width="739.4" height="7" fill="url(#g44)"/><rect x="141.2" y="379" width="734.9" height="7" fill="url(#g45)"/><rect x="141.2" y="385" width="730.4" height="7" fill="url(#g46)"/><rect x="142.7" y="391" width="724.5" height="7" fill="url(#g47)"/><rect x="144.7" y="397" width="718.0" height="7" fill="url(#g48)"/><rect x="146.7" y="403" width="711.5" height="7" fill="url(#g49)"/><rect x="148.8" y="409" width="704.9" height="7" fill="url(#g50)"/><rect x="150.8" y="415" width="698.4" height="7" fill="url(#g51)"/><rect x="152.9" y="421" width="691.8" height="7" fill="url(#g52)"/><rect x="155.1" y="427" width="685.1" height="7" fill="url(#g53)"/><rect x="157.2" y="433" width="678.5" height="7" fill="url(#g54)"/><rect x="159.4" y="439" width="671.8" height="7" fill="url(#g55)"/><rect x="161.7" y="445" width="665.1" height="7" fill="url(#g56)"/><rect x="164.0" y="451" width="658.3" height="7" fill="url(#g57)"/><rect x="166.2" y="457" width="651.5" height="7" fill="url(#g58)"/><rect x="168.6" y="463" width="644.7" height="7" fill="url(#g59)"/><rect x="171.0" y="469" width="637.8" height="7" fill="url(#g60)"/><rect x="173.3" y="475" width="631.0" height="7" fill="url(#g61)"/><rect x="175.8" y="481" width="624.1" height="7" fill="url(#g62)"/><rect x="178.2" y="487" width="617.1" height="7" fill="url(#g63)"/><rect x="180.7" y="493" width="610.1" height="7" fill="url(#g64)"/><rect x="183.2" y="499" width="603.1" height="7" fill="url(#g65)"/><rect x="185.8" y="505" width="596.1" height="7" fill="url(#g66)"/><rect x="188.4" y="511" width="589.0" height="7" fill="url(#g67)"/><rect x="190.9" y="517" width="581.9" height="7" fill="url(#g68)"/><rect x="193.6" y="523" width="574.8" height="7" fill="url(#g69)"/><rect x="196.2" y="529" width="567.7" height="7" fill="url(#g70)"/><rect x="198.9" y="535" width="560.6" height="7" fill="url(#g71)"/><rect x="201.5" y="541" width="553.4" height="7" fill="url(#g72)"/><rect x="204.2" y="547" width="546.2" height="7" fill="url(#g73)"/><rect x="206.9" y="553" width="539.0" height="7" fill="url(#g74)"/><rect x="209.7" y="559" width="531.8" height="7" fill="url(#g75)"/><rect x="212.4" y="565" width="524.6" height="7" fill="url(#g76)"/><rect x="215.2" y="571" width="517.3" height="7" fill="url(#g77)"/><rect x="217.9" y="577" width="510.1" height="7" fill="url(#g78)"/><rect x="220.7" y="583" width="502.8" height="7" fill="url(#g79)"/><rect x="223.5" y="589" width="495.5" height="7" fill="url(#g80)"/><rect x="226.4" y="595" width="488.2" height="7" fill="url(#g81)"/><rect x="229.2" y="601" width="480.8" height="7" fill="url(#g82)"/><rect x="232.1" y="607" width="473.5" height="7" fill="url(#g83)"/><rect x="234.9" y="613" width="466.1" height="7" fill="url(#g84)"/><rect x="237.9" y="619" width="458.7" height="7" fill="url(#g85)"/><rect x="240.8" y="625" width="451.3" height="7" fill="url(#g86)"/><rect x="243.7" y="631" width="443.9" height="7" fill="url(#g87)"/><rect x="246.7" y="637" width="436.4" height="7" fill="url(#g88)"/><rect x="249.8" y="643" width="428.9" height="7" fill="url(#g89)"/><rect x="252.8" y="649" width="421.3" height="7" fill="url(#g90)"/><rect x="255.9" y="655" width="413.8" height="7" fill="url(#g91)"/><rect x="259.0" y="661" width="406.2" height="7" fill="url(#g92)"/><rect x="262.1" y="667" width="398.6" height="7" fill="url(#g93)"/><rect x="265.3" y="673" width="390.9" height="7" fill="url(#g94)"/><rect x="268.5" y="679" width="383.2" height="7" fill="url(#g95)"/><rect x="271.8" y="685" width="375.4" height="7" fill="url(#g96)"/><rect x="275.1" y="691" width="367.6" height="7" fill="url(#g97)"/><rect x="278.4" y="697" width="359.8" height="7" fill="url(#g98)"/><rect x="281.8" y="703" width="351.9" height="7" fill="url(#g99)"/><rect x="285.2" y="709" width="344.0" height="7" fill="url(#g100)"/><rect x="288.7" y="715" width="336.1" height="7" fill="url(#g101)"/><rect x="292.2" y="721" width="328.1" height="7" fill="url(#g102)"/><rect x="295.7" y="727" width="320.0" height="7" fill="url(#g103)"/><rect x="299.3" y="733" width="311.9" height="7" fill="url(#g104)"/><rect x="303.0" y="739" width="303.8" height="7" fill="url(#g105)"/><rect x="306.7" y="745" width="295.6" height="7" fill="url(#g106)"/><rect x="310.5" y="751" width="287.3" height="7" fill="url(#g107)"/><rect x="314.3" y="757" width="279.0" height="7" fill="url(#g108)"/><rect x="318.2" y="763" width="270.6" height="7" fill="url(#g109)"/><rect x="322.2" y="769" width="262.2" height="7" fill="url(#g110)"/><rect x="326.2" y="775" width="253.6" height="7" fill="url(#g111)"/><rect x="330.4" y="781" width="245.0" height="7" fill="url(#g112)"/><rect x="334.6" y="787" width="236.2" height="7" fill="url(#g113)"/><rect x="339.0" y="793" width="227.4" height="7" fill="url(#g114)"/><rect x="343.6" y="799" width="218.3" height="7" fill="url(#g115)"/>
</g>
<g><line x1="178.2" y1="72.0" x2="178.2" y2="791.3" stroke="#000" stroke-width="1" stroke-dasharray="7 4" opacity="0.08"/><line x1="247.4" y1="72.0" x2="247.4" y2="791.3" stroke="#000" stroke-width="1.4" opacity="0.1"/><line x1="316.6" y1="72.0" x2="316.6" y2="791.3" stroke="#000" stroke-width="1" stroke-dasharray="7 4" opacity="0.08"/><line x1="385.7" y1="72.0" x2="385.7" y2="791.3" stroke="#000" stroke-width="1.4" opacity="0.1"/><line x1="454.9" y1="72.0" x2="454.9" y2="791.3" stroke="#000" stroke-width="1" stroke-dasharray="7 4" opacity="0.08"/><line x1="524.1" y1="72.0" x2="524.1" y2="791.3" stroke="#000" stroke-width="1.4" opacity="0.1"/><line x1="593.2" y1="72.0" x2="593.2" y2="791.3" stroke="#000" stroke-width="1" stroke-dasharray="7 4" opacity="0.08"/><line x1="662.4" y1="72.0" x2="662.4" y2="791.3" stroke="#000" stroke-width="1.4" opacity="0.1"/><line x1="731.6" y1="72.0" x2="731.6" y2="791.3" stroke="#000" stroke-width="1" stroke-dasharray="7 4" opacity="0.08"/><line x1="800.8" y1="72.0" x2="800.8" y2="791.3" stroke="#000" stroke-width="1.4" opacity="0.1"/><line x1="869.9" y1="72.0" x2="869.9" y2="791.3" stroke="#000" stroke-width="1" stroke-dasharray="7 4" opacity="0.08"/><line x1="151.2" y1="722.1" x2="939.5" y2="722.1" stroke="#000" stroke-width="1" stroke-dasharray="7 4" opacity="0.08"/><line x1="151.2" y1="652.9" x2="939.5" y2="652.9" stroke="#000" stroke-width="1.4" opacity="0.1"/><line x1="151.2" y1="583.8" x2="939.5" y2="583.8" stroke="#000" stroke-width="1" stroke-dasharray="7 4" opacity="0.08"/><line x1="151.2" y1="514.6" x2="939.5" y2="514.6" stroke="#000" stroke-width="1.4" opacity="0.1"/><line x1="151.2" y1="445.4" x2="939.5" y2="445.4" stroke="#000" stroke-width="1" stroke-dasharray="7 4" opacity="0.08"/><line x1="151.2" y1="376.2" x2="939.5" y2="376.2" stroke="#000" stroke-width="1.4" opacity="0.1"/><line x1="151.2" y1="307.0" x2="939.5" y2="307.0" stroke="#000" stroke-width="1" stroke-dasharray="7 4" opacity="0.08"/><line x1="151.2" y1="237.9" x2="939.5" y2="237.9" stroke="#000" stroke-width="1.4" opacity="0.1"/><line x1="151.2" y1="168.7" x2="939.5" y2="168.7" stroke="#000" stroke-width="1" stroke-dasharray="7 4" opacity="0.08"/><line x1="151.2" y1="99.5" x2="939.5" y2="99.5" stroke="#000" stroke-width="1.4" opacity="0.1"/></g>
</g></g>
<rect x="151.2" y="72.0" width="788.3" height="719.3" fill="none" stroke="#000" stroke-width="4"/>
<line x1="247.4" y1="791.3" x2="247.4" y2="800.0" stroke="#000" stroke-width="1.4"/>
<line x1="141.7" y1="791.3" x2="151.2" y2="791.3" stroke="#000" stroke-width="1.4"/>
<line x1="385.7" y1="791.3" x2="385.7" y2="800.0" stroke="#000" stroke-width="1.4"/>
<line x1="141.7" y1="652.9" x2="151.2" y2="652.9" stroke="#000" stroke-width="1.4"/>
<line x1="524.1" y1="791.3" x2="524.1" y2="800.0" stroke="#000" stroke-width="1.4"/>
<line x1="141.7" y1="514.6" x2="151.2" y2="514.6" stroke="#000" stroke-width="1.4"/>
<line x1="662.4" y1="791.3" x2="662.4" y2="800.0" stroke="#000" stroke-width="1.4"/>
<line x1="141.7" y1="376.2" x2="151.2" y2="376.2" stroke="#000" stroke-width="1.4"/>
<line x1="800.8" y1="791.3" x2="800.8" y2="800.0" stroke="#000" stroke-width="1.4"/>
<line x1="141.7" y1="237.9" x2="151.2" y2="237.9" stroke="#000" stroke-width="1.4"/>
<line x1="939.1" y1="791.3" x2="939.1" y2="800.0" stroke="#000" stroke-width="1.4"/>
<line x1="141.7" y1="99.5" x2="151.2" y2="99.5" stroke="#000" stroke-width="1.4"/>
<text x="229.0" y="833.3" font-size="32" text-anchor="start">0.1</text>
<text x="88.8" y="801.8" font-size="32" text-anchor="start">0.1</text>
<text x="367.3" y="833.3" font-size="32" text-anchor="start">0.2</text>
<text x="88.8" y="663.4" font-size="32" text-anchor="start">0.2</text>
<text x="505.7" y="833.3" font-size="32" text-anchor="start">0.3</text>
<text x="88.8" y="525.1" font-size="32" text-anchor="start">0.3</text>
<text x="644.0" y="833.3" font-size="32" text-anchor="start">0.4</text>
<text x="88.8" y="386.7" font-size="32" text-anchor="start">0.4</text>
<text x="782.4" y="833.3" font-size="32" text-anchor="start">0.5</text>
<text x="88.8" y="248.4" font-size="32" text-anchor="start">0.5</text>
<text x="920.7" y="833.3" font-size="32" text-anchor="start">0.6</text>
<text x="88.8" y="110.0" font-size="32" text-anchor="start">0.6</text>
<text x="525.8" y="883" font-size="52">u'</text>
<text x="38.2" y="487.8" font-size="51.5">v'</text>
<text x="816.5" y="903.2" font-size="26" textLength="159" lengthAdjust="spacingAndGlyphs">CIE1976 UCS</text>
<ellipse cx="382.5" cy="288.5" rx="80.4" ry="45.1" transform="rotate(-46.4 382.5 288.5)" fill="#fff" stroke="#6e6e6e" stroke-width="2.2"/>
<path d="M957.6 226.8 L954.1 226.3 L949.4 225.6 L943.4 224.7 L935.8 223.5 L926.7 222.2 L915.6 220.6 L902.5 218.6 L887.2 216.3 L870.1 213.7 L850.9 210.9 L828.8 207.6 L803.2 203.7 L774.0 199.3 L728.9 193.4 L698.2 189.8 L670.7 186.8 L646.1 184.6 L624.1 183.0 L604.3 182.1 L586.5 181.6 L570.5 181.7 L556.0 182.2 L542.9 183.2 L531.0 184.5 L520.2 186.0 L510.3 187.9 L501.3 190.0 L493.1 192.2 L485.5 194.6 L478.5 197.2 L472.1 199.8 L466.2 202.5 L460.7 205.3 L455.6 208.1 L444.5 215.2 L435.1 222.2 L427.3 229.1 L420.5 235.8 L414.8 242.1 L409.8 248.2 L405.4 253.9 L401.7 259.3 L398.3 264.4 L395.4 269.2 L392.7 273.7 L390.4 277.9 L388.3 281.9 L386.4 285.6 L384.7 289.1 L383.2 292.5 L381.8 295.6 L380.5 298.6 L379.3 301.3 L378.3 304.0 L376.4 308.9 L374.8 313.2 L373.4 317.2 L372.3 320.8 L371.2 324.1 L370.3 327.0 L369.5 329.8 L368.8 332.3" fill="none" stroke="#000" stroke-width="3.3"/>
<g clip-path="url(#frame)">
<polygon points="795.8,202.4 245.5,130.4 351.7,711.2" fill="none" stroke="#40cbe0" stroke-width="4.1" stroke-linejoin="miter"/>
<polygon points="879.1,215.0 186.0,117.8 329.4,755.6" fill="none" stroke="#808080" stroke-width="4.9" stroke-linejoin="miter"/>
<polygon points="826.0,208.0 201.5,123.5 363.1,718.2" fill="none" stroke="#c9ba00" stroke-width="4.7" stroke-linejoin="miter"/>
</g>
<line x1="420.5" y1="235.8" x2="412.9" y2="228.5" stroke="#000" stroke-width="1.5"/>
<text transform="translate(409.7 225.4) rotate(43.7)" x="0" y="4.8" font-size="13.5" text-anchor="end">4000</text>
<line x1="401.7" y1="259.3" x2="393.0" y2="253.4" stroke="#000" stroke-width="1.5"/>
<text transform="translate(389.2 250.9) rotate(34.1)" x="0" y="4.8" font-size="13.5" text-anchor="end">5000</text>
<line x1="390.4" y1="277.9" x2="381.2" y2="272.9" stroke="#000" stroke-width="1.5"/>
<text transform="translate(377.2 270.8) rotate(28.3)" x="0" y="4.8" font-size="13.5" text-anchor="end">6000</text>
<line x1="383.2" y1="292.5" x2="373.6" y2="288.1" stroke="#000" stroke-width="1.5"/>
<text transform="translate(369.5 286.3) rotate(24.4)" x="0" y="4.8" font-size="13.5" text-anchor="end">7000</text>
<line x1="378.3" y1="304.0" x2="368.5" y2="300.1" stroke="#000" stroke-width="1.5"/>
<text transform="translate(364.3 298.5) rotate(21.7)" x="0" y="4.8" font-size="13.5" text-anchor="end">8000</text>
<line x1="372.3" y1="320.8" x2="362.3" y2="317.6" stroke="#000" stroke-width="1.5"/>
<text transform="translate(358.0 316.2) rotate(17.8)" x="0" y="4.8" font-size="13.5" text-anchor="end">10000</text>
<line x1="368.8" y1="332.3" x2="358.7" y2="329.5" stroke="#000" stroke-width="1.5"/>
<text transform="translate(354.4 328.3) rotate(15.3)" x="0" y="4.8" font-size="13.5" text-anchor="end">12000</text>
<circle cx="185.8" cy="118.8" r="7.3" fill="none" stroke="#2f6e2f" stroke-width="2.6"/><circle cx="197.0" cy="127.0" r="7.3" fill="none" stroke="#2f6e2f" stroke-width="2.6"/><circle cx="210.8" cy="136.6" r="7.3" fill="none" stroke="#2f6e2f" stroke-width="2.6"/><circle cx="224.6" cy="148.6" r="7.3" fill="none" stroke="#2f6e2f" stroke-width="2.6"/><circle cx="238.6" cy="161.4" r="7.3" fill="none" stroke="#2f6e2f" stroke-width="2.6"/><circle cx="255.4" cy="175.6" r="7.3" fill="none" stroke="#2f6e2f" stroke-width="2.6"/><circle cx="274.1" cy="191.8" r="7.3" fill="none" stroke="#2f6e2f" stroke-width="2.6"/><circle cx="295.4" cy="210.4" r="7.3" fill="none" stroke="#2f6e2f" stroke-width="2.6"/><circle cx="321.0" cy="232.8" r="7.3" fill="none" stroke="#4a6a4a" stroke-width="2.6"/><circle cx="350.4" cy="257.0" r="7.3" fill="none" stroke="#62636f" stroke-width="2.6"/><circle cx="229.4" cy="309.8" r="7.3" fill="none" stroke="#2a6666" stroke-width="2.6"/><circle cx="245.0" cy="308.0" r="7.3" fill="none" stroke="#2a6666" stroke-width="2.6"/><circle cx="259.4" cy="305.6" r="7.3" fill="none" stroke="#2a6666" stroke-width="2.6"/><circle cx="275.0" cy="302.6" r="7.3" fill="none" stroke="#3a6a6a" stroke-width="2.6"/><circle cx="289.4" cy="300.2" r="7.3" fill="none" stroke="#62636f" stroke-width="2.6"/><circle cx="304.4" cy="297.2" r="7.3" fill="none" stroke="#62636f" stroke-width="2.6"/><circle cx="319.4" cy="294.8" r="7.3" fill="none" stroke="#62636f" stroke-width="2.6"/><circle cx="335.0" cy="293.0" r="7.3" fill="none" stroke="#62636f" stroke-width="2.6"/><circle cx="350.6" cy="291.2" r="7.3" fill="none" stroke="#62636f" stroke-width="2.6"/><circle cx="367.4" cy="288.2" r="7.3" fill="none" stroke="#62636f" stroke-width="2.6"/><circle cx="339.0" cy="676.7" r="7.3" fill="none" stroke="#1e1a74" stroke-width="2.6"/><circle cx="347.4" cy="609.8" r="7.3" fill="none" stroke="#1e1a74" stroke-width="2.6"/><circle cx="354.7" cy="552.0" r="7.3" fill="none" stroke="#1e1a74" stroke-width="2.6"/><circle cx="359.6" cy="496.3" r="7.3" fill="none" stroke="#1e1a74" stroke-width="2.6"/><circle cx="364.6" cy="453.3" r="7.3" fill="none" stroke="#2a2a70" stroke-width="2.6"/><circle cx="369.2" cy="413.2" r="7.3" fill="none" stroke="#50507a" stroke-width="2.6"/><circle cx="373.6" cy="376.8" r="7.3" fill="none" stroke="#62636f" stroke-width="2.6"/><circle cx="377.4" cy="343.4" r="7.3" fill="none" stroke="#62636f" stroke-width="2.6"/><circle cx="381.2" cy="313.4" r="7.3" fill="none" stroke="#62636f" stroke-width="2.6"/><circle cx="608.4" cy="481.6" r="7.3" fill="none" stroke="#6a2070" stroke-width="2.6"/><circle cx="575.1" cy="453.4" r="7.3" fill="none" stroke="#6a2070" stroke-width="2.6"/><circle cx="545.7" cy="427.6" r="7.3" fill="none" stroke="#6a2070" stroke-width="2.6"/><circle cx="519.0" cy="404.8" r="7.3" fill="none" stroke="#6a2070" stroke-width="2.6"/><circle cx="494.4" cy="383.0" r="7.3" fill="none" stroke="#6a2070" stroke-width="2.6"/><circle cx="472.8" cy="364.2" r="7.3" fill="none" stroke="#6a2070" stroke-width="2.6"/><circle cx="452.4" cy="346.6" r="7.3" fill="none" stroke="#66587a" stroke-width="2.6"/><circle cx="433.2" cy="330.0" r="7.3" fill="none" stroke="#62636f" stroke-width="2.6"/><circle cx="415.4" cy="314.6" r="7.3" fill="none" stroke="#62636f" stroke-width="2.6"/><circle cx="398.4" cy="299.8" r="7.3" fill="none" stroke="#62636f" stroke-width="2.6"/><circle cx="818.2" cy="224.0" r="7.3" fill="none" stroke="#5c3a28" stroke-width="2.6"/><circle cx="760.0" cy="232.2" r="7.3" fill="none" stroke="#7a1626" stroke-width="2.6"/><circle cx="706.6" cy="240.0" r="7.3" fill="none" stroke="#7a1626" stroke-width="2.6"/><circle cx="653.8" cy="247.8" r="7.3" fill="none" stroke="#7a1626" stroke-width="2.6"/><circle cx="604.0" cy="255.0" r="7.3" fill="none" stroke="#5c3a28" stroke-width="2.6"/><circle cx="556.2" cy="262.0" r="7.3" fill="none" stroke="#5c3a28" stroke-width="2.6"/><circle cx="510.0" cy="269.0" r="7.3" fill="none" stroke="#66585a" stroke-width="2.6"/><circle cx="468.0" cy="275.0" r="7.3" fill="none" stroke="#62636f" stroke-width="2.6"/><circle cx="424.2" cy="281.6" r="7.3" fill="none" stroke="#62636f" stroke-width="2.6"/><circle cx="399.8" cy="150.0" r="7.3" fill="none" stroke="#5a5a66" stroke-width="2.6"/><circle cx="397.6" cy="165.2" r="7.3" fill="none" stroke="#5a5a66" stroke-width="2.6"/><circle cx="395.8" cy="178.0" r="7.3" fill="none" stroke="#5a5a66" stroke-width="2.6"/><circle cx="394.4" cy="191.0" r="7.3" fill="none" stroke="#5a5a66" stroke-width="2.6"/><circle cx="392.6" cy="204.4" r="7.3" fill="none" stroke="#5a5a66" stroke-width="2.6"/><circle cx="390.8" cy="218.2" r="7.3" fill="none" stroke="#5a5a66" stroke-width="2.6"/><circle cx="389.0" cy="233.6" r="7.3" fill="none" stroke="#5a5a66" stroke-width="2.6"/><circle cx="386.8" cy="250.4" r="7.3" fill="none" stroke="#5a5a66" stroke-width="2.6"/><circle cx="385.0" cy="267.6" r="7.3" fill="none" stroke="#5a5a66" stroke-width="2.6"/><circle cx="187.2" cy="116.9" r="7.3" fill="none" stroke="#62636f" stroke-width="2.6"/><circle cx="879.0" cy="214.6" r="7.3" fill="none" stroke="#62636f" stroke-width="2.6"/><circle cx="329.8" cy="756.0" r="7.3" fill="none" stroke="#62636f" stroke-width="2.6"/><circle cx="400.2" cy="146.8" r="7.3" fill="none" stroke="#62636f" stroke-width="2.6"/>
<circle cx="202.2" cy="124.8" r="6.7" fill="#ffff00" stroke="#3434b8" stroke-opacity="0.6" stroke-width="1.2"/><circle cx="205.4" cy="136.0" r="6.7" fill="#ffff00" stroke="#3434b8" stroke-opacity="0.6" stroke-width="1.2"/><circle cx="208.2" cy="146.8" r="6.7" fill="#ffff00" stroke="#3434b8" stroke-opacity="0.6" stroke-width="1.2"/><circle cx="223.4" cy="159.6" r="6.7" fill="#ffff00" stroke="#3434b8" stroke-opacity="0.6" stroke-width="1.2"/><circle cx="242.0" cy="174.7" r="6.7" fill="#ffff00" stroke="#3434b8" stroke-opacity="0.6" stroke-width="1.2"/><circle cx="262.6" cy="191.8" r="6.7" fill="#ffff00" stroke="#3434b8" stroke-opacity="0.6" stroke-width="1.2"/><circle cx="286.4" cy="210.4" r="6.7" fill="#ffff00" stroke="#3434b8" stroke-opacity="0.6" stroke-width="1.2"/><circle cx="314.2" cy="233.0" r="6.7" fill="#ffff00" stroke="#3434b8" stroke-opacity="0.6" stroke-width="1.2"/><circle cx="346.5" cy="258.8" r="6.7" fill="#ffff00" stroke="#3434b8" stroke-opacity="0.6" stroke-width="1.2"/><circle cx="251.6" cy="309.2" r="6.7" fill="#ffff00" stroke="#3434b8" stroke-opacity="0.6" stroke-width="1.2"/><circle cx="264.0" cy="307.4" r="6.7" fill="#ffff00" stroke="#3434b8" stroke-opacity="0.6" stroke-width="1.2"/><circle cx="280.0" cy="304.6" r="6.7" fill="#ffff00" stroke="#3434b8" stroke-opacity="0.6" stroke-width="1.2"/><circle cx="297.2" cy="302.0" r="6.7" fill="#ffff00" stroke="#3434b8" stroke-opacity="0.6" stroke-width="1.2"/><circle cx="313.1" cy="299.2" r="6.7" fill="#ffff00" stroke="#3434b8" stroke-opacity="0.6" stroke-width="1.2"/><circle cx="330.8" cy="296.6" r="6.7" fill="#ffff00" stroke="#3434b8" stroke-opacity="0.6" stroke-width="1.2"/><circle cx="347.0" cy="294.2" r="6.7" fill="#ffff00" stroke="#3434b8" stroke-opacity="0.6" stroke-width="1.2"/><circle cx="365.9" cy="291.2" r="6.7" fill="#ffff00" stroke="#3434b8" stroke-opacity="0.6" stroke-width="1.2"/><circle cx="383.0" cy="288.3" r="6.7" fill="#ffff00" stroke="#3434b8" stroke-opacity="0.6" stroke-width="1.2"/><circle cx="400.8" cy="151.0" r="6.7" fill="#ffff00" stroke="#3434b8" stroke-opacity="0.6" stroke-width="1.2"/><circle cx="398.6" cy="166.6" r="6.7" fill="#ffff00" stroke="#3434b8" stroke-opacity="0.6" stroke-width="1.2"/><circle cx="396.8" cy="179.4" r="6.7" fill="#ffff00" stroke="#3434b8" stroke-opacity="0.6" stroke-width="1.2"/><circle cx="395.4" cy="192.4" r="6.7" fill="#ffff00" stroke="#3434b8" stroke-opacity="0.6" stroke-width="1.2"/><circle cx="393.6" cy="205.8" r="6.7" fill="#ffff00" stroke="#3434b8" stroke-opacity="0.6" stroke-width="1.2"/><circle cx="391.8" cy="219.6" r="6.7" fill="#ffff00" stroke="#3434b8" stroke-opacity="0.6" stroke-width="1.2"/><circle cx="390.0" cy="235.0" r="6.7" fill="#ffff00" stroke="#3434b8" stroke-opacity="0.6" stroke-width="1.2"/><circle cx="387.8" cy="251.8" r="6.7" fill="#ffff00" stroke="#3434b8" stroke-opacity="0.6" stroke-width="1.2"/><circle cx="386.0" cy="269.0" r="6.7" fill="#ffff00" stroke="#3434b8" stroke-opacity="0.6" stroke-width="1.2"/><circle cx="425.4" cy="282.2" r="6.7" fill="#ffff00" stroke="#3434b8" stroke-opacity="0.6" stroke-width="1.2"/><circle cx="470.4" cy="275.3" r="6.7" fill="#ffff00" stroke="#3434b8" stroke-opacity="0.6" stroke-width="1.2"/><circle cx="513.2" cy="268.6" r="6.7" fill="#ffff00" stroke="#3434b8" stroke-opacity="0.6" stroke-width="1.2"/><circle cx="560.4" cy="260.6" r="6.7" fill="#ffff00" stroke="#3434b8" stroke-opacity="0.6" stroke-width="1.2"/><circle cx="607.8" cy="253.0" r="6.7" fill="#ffff00" stroke="#3434b8" stroke-opacity="0.6" stroke-width="1.2"/><circle cx="656.8" cy="244.4" r="6.7" fill="#ffff00" stroke="#3434b8" stroke-opacity="0.6" stroke-width="1.2"/><circle cx="705.4" cy="236.6" r="6.7" fill="#ffff00" stroke="#3434b8" stroke-opacity="0.6" stroke-width="1.2"/><circle cx="754.6" cy="228.8" r="6.7" fill="#ffff00" stroke="#3434b8" stroke-opacity="0.6" stroke-width="1.2"/><circle cx="808.3" cy="221.3" r="6.7" fill="#ffff00" stroke="#3434b8" stroke-opacity="0.6" stroke-width="1.2"/><circle cx="829.6" cy="211.4" r="6.7" fill="#ffff00" stroke="#3434b8" stroke-opacity="0.6" stroke-width="1.2"/><circle cx="399.0" cy="300.8" r="6.7" fill="#ffff00" stroke="#3434b8" stroke-opacity="0.6" stroke-width="1.2"/><circle cx="417.0" cy="315.0" r="6.7" fill="#ffff00" stroke="#3434b8" stroke-opacity="0.6" stroke-width="1.2"/><circle cx="435.4" cy="330.2" r="6.7" fill="#ffff00" stroke="#3434b8" stroke-opacity="0.6" stroke-width="1.2"/><circle cx="455.4" cy="346.2" r="6.7" fill="#ffff00" stroke="#3434b8" stroke-opacity="0.6" stroke-width="1.2"/><circle cx="476.2" cy="363.0" r="6.7" fill="#ffff00" stroke="#3434b8" stroke-opacity="0.6" stroke-width="1.2"/><circle cx="498.4" cy="380.8" r="6.7" fill="#ffff00" stroke="#3434b8" stroke-opacity="0.6" stroke-width="1.2"/><circle cx="524.0" cy="401.2" r="6.7" fill="#ffff00" stroke="#3434b8" stroke-opacity="0.6" stroke-width="1.2"/><circle cx="550.4" cy="422.2" r="6.7" fill="#ffff00" stroke="#3434b8" stroke-opacity="0.6" stroke-width="1.2"/><circle cx="578.6" cy="444.4" r="6.7" fill="#ffff00" stroke="#3434b8" stroke-opacity="0.6" stroke-width="1.2"/><circle cx="611.1" cy="470.2" r="6.7" fill="#ffff00" stroke="#3434b8" stroke-opacity="0.6" stroke-width="1.2"/><circle cx="380.0" cy="315.8" r="6.7" fill="#ffff00" stroke="#3434b8" stroke-opacity="0.6" stroke-width="1.2"/><circle cx="375.9" cy="348.2" r="6.7" fill="#ffff00" stroke="#3434b8" stroke-opacity="0.6" stroke-width="1.2"/><circle cx="371.7" cy="380.7" r="6.7" fill="#ffff00" stroke="#3434b8" stroke-opacity="0.6" stroke-width="1.2"/><circle cx="368.4" cy="416.0" r="6.7" fill="#ffff00" stroke="#3434b8" stroke-opacity="0.6" stroke-width="1.2"/><circle cx="363.7" cy="456.2" r="6.7" fill="#ffff00" stroke="#3434b8" stroke-opacity="0.6" stroke-width="1.2"/><circle cx="358.3" cy="498.2" r="6.7" fill="#ffff00" stroke="#3434b8" stroke-opacity="0.6" stroke-width="1.2"/><circle cx="353.1" cy="550.3" r="6.7" fill="#ffff00" stroke="#3434b8" stroke-opacity="0.6" stroke-width="1.2"/><circle cx="345.7" cy="607.1" r="6.7" fill="#ffff00" stroke="#3434b8" stroke-opacity="0.6" stroke-width="1.2"/><circle cx="348.4" cy="663.3" r="6.7" fill="#ffff00" stroke="#3434b8" stroke-opacity="0.6" stroke-width="1.2"/><circle cx="363.1" cy="716.2" r="6.7" fill="#ffff00" stroke="#3434b8" stroke-opacity="0.6" stroke-width="1.2"/>
<rect x="1015.7" y="33.5" width="650.9" height="433.0" fill="#fff" stroke="#9a9a9a" stroke-width="1.3"/><line x1="1070.8" y1="97.4" x2="1639.2" y2="97.4" stroke="#d6d6d6" stroke-width="0.9"/><text x="1061.2" y="101.9" font-size="12.7" text-anchor="end" font-weight="normal" fill="#161616">20%</text><line x1="1070.8" y1="138.3" x2="1639.2" y2="138.3" stroke="#d6d6d6" stroke-width="0.9"/><text x="1061.2" y="142.8" font-size="12.7" text-anchor="end" font-weight="normal" fill="#161616">15%</text><line x1="1070.8" y1="179.2" x2="1639.2" y2="179.2" stroke="#d6d6d6" stroke-width="0.9"/><text x="1061.2" y="183.7" font-size="12.7" text-anchor="end" font-weight="normal" fill="#161616">10%</text><line x1="1070.8" y1="220.1" x2="1639.2" y2="220.1" stroke="#d6d6d6" stroke-width="0.9"/><text x="1061.2" y="224.6" font-size="12.7" text-anchor="end" font-weight="normal" fill="#161616">5%</text><line x1="1070.8" y1="261.0" x2="1639.2" y2="261.0" stroke="#d6d6d6" stroke-width="0.9"/><text x="1061.2" y="265.5" font-size="12.7" text-anchor="end" font-weight="normal" fill="#161616">0%</text><line x1="1070.8" y1="302.0" x2="1639.2" y2="302.0" stroke="#d6d6d6" stroke-width="0.9"/><text x="1061.2" y="306.5" font-size="12.7" text-anchor="end" font-weight="normal" fill="#161616">-5%</text><line x1="1070.8" y1="342.9" x2="1639.2" y2="342.9" stroke="#d6d6d6" stroke-width="0.9"/><text x="1061.2" y="347.4" font-size="12.7" text-anchor="end" font-weight="normal" fill="#161616">-10%</text><line x1="1070.8" y1="383.8" x2="1639.2" y2="383.8" stroke="#d6d6d6" stroke-width="0.9"/><text x="1061.2" y="388.3" font-size="12.7" text-anchor="end" font-weight="normal" fill="#161616">-15%</text><line x1="1070.8" y1="424.7" x2="1639.2" y2="424.7" stroke="#c2c2c2" stroke-width="0.9"/><text x="1061.2" y="429.2" font-size="12.7" text-anchor="end" font-weight="normal" fill="#161616">-20%</text><line x1="1075.6" y1="97.4" x2="1075.6" y2="429.3" stroke="#aaaaaa" stroke-width="0.9"/><text x="1075.6" y="449.3" font-size="12.7" text-anchor="middle" font-weight="normal" fill="#161616">0%</text><line x1="1129.8" y1="97.4" x2="1129.8" y2="429.3" stroke="#d6d6d6" stroke-width="0.9"/><text x="1129.8" y="449.3" font-size="12.7" text-anchor="middle" font-weight="normal" fill="#161616">10%</text><line x1="1183.4" y1="97.4" x2="1183.4" y2="429.3" stroke="#d6d6d6" stroke-width="0.9"/><text x="1183.4" y="449.3" font-size="12.7" text-anchor="middle" font-weight="normal" fill="#161616">20%</text><line x1="1237.0" y1="97.4" x2="1237.0" y2="429.3" stroke="#d6d6d6" stroke-width="0.9"/><text x="1237.0" y="449.3" font-size="12.7" text-anchor="middle" font-weight="normal" fill="#161616">30%</text><line x1="1290.6" y1="97.4" x2="1290.6" y2="429.3" stroke="#d6d6d6" stroke-width="0.9"/><text x="1290.6" y="449.3" font-size="12.7" text-anchor="middle" font-weight="normal" fill="#161616">40%</text><line x1="1344.2" y1="97.4" x2="1344.2" y2="429.3" stroke="#d6d6d6" stroke-width="0.9"/><text x="1344.2" y="449.3" font-size="12.7" text-anchor="middle" font-weight="normal" fill="#161616">50%</text><line x1="1397.9" y1="97.4" x2="1397.9" y2="429.3" stroke="#d6d6d6" stroke-width="0.9"/><text x="1397.9" y="449.3" font-size="12.7" text-anchor="middle" font-weight="normal" fill="#161616">60%</text><line x1="1451.5" y1="97.4" x2="1451.5" y2="429.3" stroke="#d6d6d6" stroke-width="0.9"/><text x="1451.5" y="449.3" font-size="12.7" text-anchor="middle" font-weight="normal" fill="#161616">70%</text><line x1="1505.1" y1="97.4" x2="1505.1" y2="429.3" stroke="#d6d6d6" stroke-width="0.9"/><text x="1505.1" y="449.3" font-size="12.7" text-anchor="middle" font-weight="normal" fill="#161616">80%</text><line x1="1558.7" y1="97.4" x2="1558.7" y2="429.3" stroke="#d6d6d6" stroke-width="0.9"/><text x="1558.7" y="449.3" font-size="12.7" text-anchor="middle" font-weight="normal" fill="#161616">90%</text><line x1="1612.4" y1="97.4" x2="1612.4" y2="429.3" stroke="#d6d6d6" stroke-width="0.9"/><text x="1612.4" y="449.3" font-size="12.7" text-anchor="middle" font-weight="normal" fill="#161616">100%</text><line x1="1076.2" y1="261.0" x2="1639.2" y2="261.0" stroke="#5a5a5a" stroke-width="2"/><text x="1165.2" y="60.7" font-size="18.4" text-anchor="start" font-weight="bold" fill="#000" textLength="351.4" lengthAdjust="spacingAndGlyphs">Saturation Shifts (Reference BT.2020, mWP)</text><text x="1188.4" y="84.3" font-size="18.4" text-anchor="start" font-weight="bold" fill="#000" textLength="305.4" lengthAdjust="spacingAndGlyphs">Auto, LD: Hgh Smooth, Halo Control: 0</text><clipPath id="cp1"><rect x="1068.2" y="97.4" width="579.0" height="333.3"/></clipPath>
<rect x="1186" y="101.6" width="460" height="32" fill="#bfbfbf" fill-opacity="0.82"/>
<line x1="1199.0" y1="117.6" x2="1220.4" y2="117.6" stroke="#ff3030" stroke-width="1.5"/><circle cx="1209.7" cy="117.6" r="3.6" fill="#ff0000"/>
<text x="1225.6" y="122.2" font-size="13.3" text-anchor="start" font-weight="normal" fill="#161616" textLength="23.4" lengthAdjust="spacingAndGlyphs">Red</text>
<line x1="1262.4" y1="117.6" x2="1283.8" y2="117.6" stroke="#3cb44b" stroke-width="1.5"/><circle cx="1273.1" cy="117.6" r="3.6" fill="#3cb44b"/>
<text x="1289.4" y="122.2" font-size="13.3" text-anchor="start" font-weight="normal" fill="#161616" textLength="36.6" lengthAdjust="spacingAndGlyphs">Green</text>
<line x1="1339.4" y1="117.6" x2="1360.8" y2="117.6" stroke="#6666ff" stroke-width="1.5"/><circle cx="1350.1" cy="117.6" r="3.6" fill="#6666ff"/>
<text x="1365.5" y="122.2" font-size="13.3" text-anchor="start" font-weight="normal" fill="#161616" textLength="27.4" lengthAdjust="spacingAndGlyphs">Blue</text>
<line x1="1406.4" y1="117.6" x2="1427.8" y2="117.6" stroke="#20b2aa" stroke-width="1.5"/><circle cx="1417.1" cy="117.6" r="3.6" fill="#20b2aa"/>
<text x="1432.8" y="122.2" font-size="13.3" text-anchor="start" font-weight="normal" fill="#161616" textLength="31.3" lengthAdjust="spacingAndGlyphs">Cyan</text>
<line x1="1477.3" y1="117.6" x2="1498.7" y2="117.6" stroke="#dc46dc" stroke-width="1.5"/><circle cx="1488.0" cy="117.6" r="3.6" fill="#dc46dc"/>
<text x="1504.0" y="122.2" font-size="13.3" text-anchor="start" font-weight="normal" fill="#161616" textLength="52.5" lengthAdjust="spacingAndGlyphs">Magenta</text>
<line x1="1569.8" y1="117.6" x2="1591.2" y2="117.6" stroke="#ffc000" stroke-width="1.5"/><circle cx="1580.5" cy="117.6" r="3.6" fill="#ffc000"/>
<text x="1596.0" y="122.2" font-size="13.3" text-anchor="start" font-weight="normal" fill="#161616" textLength="39.7" lengthAdjust="spacingAndGlyphs">Yellow</text>
<g clip-path="url(#cp1)">
<polyline points="1129.8,258.6 1183.4,255.3 1237.0,253.7 1290.6,253.7 1344.2,254.5 1397.9,257.0 1451.5,261.9 1505.1,268.8 1558.7,275.8 1612.4,338.8" fill="none" stroke="#ff3030" stroke-width="1.75" stroke-linejoin="round"/>
<circle cx="1129.8" cy="258.6" r="3.7" fill="#ff0000"/><circle cx="1183.4" cy="255.3" r="3.7" fill="#ff0000"/><circle cx="1237.0" cy="253.7" r="3.7" fill="#ff0000"/><circle cx="1290.6" cy="253.7" r="3.7" fill="#ff0000"/><circle cx="1344.2" cy="254.5" r="3.7" fill="#ff0000"/><circle cx="1397.9" cy="257.0" r="3.7" fill="#ff0000"/><circle cx="1451.5" cy="261.9" r="3.7" fill="#ff0000"/><circle cx="1505.1" cy="268.8" r="3.7" fill="#ff0000"/><circle cx="1558.7" cy="275.8" r="3.7" fill="#ff0000"/><circle cx="1612.4" cy="338.8" r="3.7" fill="#ff0000"/>
<polyline points="1129.8,255.3 1183.4,248.4 1237.0,241.0 1290.6,233.2 1344.2,226.7 1397.9,221.4 1451.5,220.1 1505.1,247.5 1558.7,272.9 1612.4,310.1" fill="none" stroke="#3cb44b" stroke-width="1.75" stroke-linejoin="round"/>
<circle cx="1129.8" cy="255.3" r="3.7" fill="#3cb44b"/><circle cx="1183.4" cy="248.4" r="3.7" fill="#3cb44b"/><circle cx="1237.0" cy="241.0" r="3.7" fill="#3cb44b"/><circle cx="1290.6" cy="233.2" r="3.7" fill="#3cb44b"/><circle cx="1344.2" cy="226.7" r="3.7" fill="#3cb44b"/><circle cx="1397.9" cy="221.4" r="3.7" fill="#3cb44b"/><circle cx="1451.5" cy="220.1" r="3.7" fill="#3cb44b"/><circle cx="1505.1" cy="247.5" r="3.7" fill="#3cb44b"/><circle cx="1558.7" cy="272.9" r="3.7" fill="#3cb44b"/><circle cx="1612.4" cy="310.1" r="3.7" fill="#3cb44b"/>
<polyline points="1129.8,257.0 1183.4,253.7 1237.0,254.5 1290.6,255.3 1344.2,255.3 1397.9,258.6 1451.5,261.0 1505.1,262.7 1558.7,285.6 1612.4,335.5" fill="none" stroke="#6666ff" stroke-width="1.75" stroke-linejoin="round"/>
<circle cx="1129.8" cy="257.0" r="3.7" fill="#6666ff"/><circle cx="1183.4" cy="253.7" r="3.7" fill="#6666ff"/><circle cx="1237.0" cy="254.5" r="3.7" fill="#6666ff"/><circle cx="1290.6" cy="255.3" r="3.7" fill="#6666ff"/><circle cx="1344.2" cy="255.3" r="3.7" fill="#6666ff"/><circle cx="1397.9" cy="258.6" r="3.7" fill="#6666ff"/><circle cx="1451.5" cy="261.0" r="3.7" fill="#6666ff"/><circle cx="1505.1" cy="262.7" r="3.7" fill="#6666ff"/><circle cx="1558.7" cy="285.6" r="3.7" fill="#6666ff"/><circle cx="1612.4" cy="335.5" r="3.7" fill="#6666ff"/>
<polyline points="1129.8,250.8 1183.4,243.5 1237.0,236.1 1290.6,228.7 1344.2,221.4 1397.9,214.4 1451.5,207.5 1505.1,221.0 1558.7,295.4 1612.4,370.7" fill="none" stroke="#20b2aa" stroke-width="1.75" stroke-linejoin="round"/>
<circle cx="1129.8" cy="250.8" r="3.7" fill="#20b2aa"/><circle cx="1183.4" cy="243.5" r="3.7" fill="#20b2aa"/><circle cx="1237.0" cy="236.1" r="3.7" fill="#20b2aa"/><circle cx="1290.6" cy="228.7" r="3.7" fill="#20b2aa"/><circle cx="1344.2" cy="221.4" r="3.7" fill="#20b2aa"/><circle cx="1397.9" cy="214.4" r="3.7" fill="#20b2aa"/><circle cx="1451.5" cy="207.5" r="3.7" fill="#20b2aa"/><circle cx="1505.1" cy="221.0" r="3.7" fill="#20b2aa"/><circle cx="1558.7" cy="295.4" r="3.7" fill="#20b2aa"/><circle cx="1612.4" cy="370.7" r="3.7" fill="#20b2aa"/>
<polyline points="1129.8,257.8 1183.4,256.1 1237.0,254.5 1290.6,254.5 1344.2,255.3 1397.9,257.0 1451.5,257.8 1505.1,261.0 1558.7,269.2 1612.4,274.1" fill="none" stroke="#dc46dc" stroke-width="1.75" stroke-linejoin="round"/>
<circle cx="1129.8" cy="257.8" r="3.7" fill="#dc46dc"/><circle cx="1183.4" cy="256.1" r="3.7" fill="#dc46dc"/><circle cx="1237.0" cy="254.5" r="3.7" fill="#dc46dc"/><circle cx="1290.6" cy="254.5" r="3.7" fill="#dc46dc"/><circle cx="1344.2" cy="255.3" r="3.7" fill="#dc46dc"/><circle cx="1397.9" cy="257.0" r="3.7" fill="#dc46dc"/><circle cx="1451.5" cy="257.8" r="3.7" fill="#dc46dc"/><circle cx="1505.1" cy="261.0" r="3.7" fill="#dc46dc"/><circle cx="1558.7" cy="269.2" r="3.7" fill="#dc46dc"/><circle cx="1612.4" cy="274.1" r="3.7" fill="#dc46dc"/>
<polyline points="1129.8,261.5 1183.4,257.0 1237.0,254.9 1290.6,254.1 1344.2,252.0 1397.9,251.2 1451.5,250.4 1505.1,248.8 1558.7,251.2 1612.4,279.9" fill="none" stroke="#ffc000" stroke-width="1.75" stroke-linejoin="round"/>
<circle cx="1129.8" cy="261.5" r="3.7" fill="#ffc000"/><circle cx="1183.4" cy="257.0" r="3.7" fill="#ffc000"/><circle cx="1237.0" cy="254.9" r="3.7" fill="#ffc000"/><circle cx="1290.6" cy="254.1" r="3.7" fill="#ffc000"/><circle cx="1344.2" cy="252.0" r="3.7" fill="#ffc000"/><circle cx="1397.9" cy="251.2" r="3.7" fill="#ffc000"/><circle cx="1451.5" cy="250.4" r="3.7" fill="#ffc000"/><circle cx="1505.1" cy="248.8" r="3.7" fill="#ffc000"/><circle cx="1558.7" cy="251.2" r="3.7" fill="#ffc000"/><circle cx="1612.4" cy="279.9" r="3.7" fill="#ffc000"/>
</g>
<rect x="1015.7" y="474.6" width="650.9" height="433.6" fill="#fff" stroke="#9a9a9a" stroke-width="1.3"/><line x1="1070.8" y1="538.7" x2="1639.2" y2="538.7" stroke="#d6d6d6" stroke-width="0.9"/><text x="1061.2" y="543.2" font-size="12.7" text-anchor="end" font-weight="normal" fill="#161616">50%</text><line x1="1070.8" y1="571.4" x2="1639.2" y2="571.4" stroke="#d6d6d6" stroke-width="0.9"/><text x="1061.2" y="575.9" font-size="12.7" text-anchor="end" font-weight="normal" fill="#161616">40%</text><line x1="1070.8" y1="604.2" x2="1639.2" y2="604.2" stroke="#d6d6d6" stroke-width="0.9"/><text x="1061.2" y="608.7" font-size="12.7" text-anchor="end" font-weight="normal" fill="#161616">30%</text><line x1="1070.8" y1="636.9" x2="1639.2" y2="636.9" stroke="#d6d6d6" stroke-width="0.9"/><text x="1061.2" y="641.4" font-size="12.7" text-anchor="end" font-weight="normal" fill="#161616">20%</text><line x1="1070.8" y1="669.7" x2="1639.2" y2="669.7" stroke="#d6d6d6" stroke-width="0.9"/><text x="1061.2" y="674.2" font-size="12.7" text-anchor="end" font-weight="normal" fill="#161616">10%</text><line x1="1070.8" y1="702.4" x2="1639.2" y2="702.4" stroke="#d6d6d6" stroke-width="0.9"/><text x="1061.2" y="706.9" font-size="12.7" text-anchor="end" font-weight="normal" fill="#161616">0%</text><line x1="1070.8" y1="735.1" x2="1639.2" y2="735.1" stroke="#d6d6d6" stroke-width="0.9"/><text x="1061.2" y="739.6" font-size="12.7" text-anchor="end" font-weight="normal" fill="#161616">-10%</text><line x1="1070.8" y1="767.9" x2="1639.2" y2="767.9" stroke="#d6d6d6" stroke-width="0.9"/><text x="1061.2" y="772.4" font-size="12.7" text-anchor="end" font-weight="normal" fill="#161616">-20%</text><line x1="1070.8" y1="800.6" x2="1639.2" y2="800.6" stroke="#d6d6d6" stroke-width="0.9"/><text x="1061.2" y="805.1" font-size="12.7" text-anchor="end" font-weight="normal" fill="#161616">-30%</text><line x1="1070.8" y1="833.4" x2="1639.2" y2="833.4" stroke="#d6d6d6" stroke-width="0.9"/><text x="1061.2" y="837.9" font-size="12.7" text-anchor="end" font-weight="normal" fill="#161616">-40%</text><line x1="1070.8" y1="866.1" x2="1639.2" y2="866.1" stroke="#c2c2c2" stroke-width="0.9"/><text x="1061.2" y="870.6" font-size="12.7" text-anchor="end" font-weight="normal" fill="#161616">-50%</text><line x1="1075.6" y1="538.7" x2="1075.6" y2="870.7" stroke="#aaaaaa" stroke-width="0.9"/><text x="1075.6" y="890.7" font-size="12.7" text-anchor="middle" font-weight="normal" fill="#161616">0%</text><line x1="1129.8" y1="538.7" x2="1129.8" y2="870.7" stroke="#d6d6d6" stroke-width="0.9"/><text x="1129.8" y="890.7" font-size="12.7" text-anchor="middle" font-weight="normal" fill="#161616">10%</text><line x1="1183.4" y1="538.7" x2="1183.4" y2="870.7" stroke="#d6d6d6" stroke-width="0.9"/><text x="1183.4" y="890.7" font-size="12.7" text-anchor="middle" font-weight="normal" fill="#161616">20%</text><line x1="1237.0" y1="538.7" x2="1237.0" y2="870.7" stroke="#d6d6d6" stroke-width="0.9"/><text x="1237.0" y="890.7" font-size="12.7" text-anchor="middle" font-weight="normal" fill="#161616">30%</text><line x1="1290.6" y1="538.7" x2="1290.6" y2="870.7" stroke="#d6d6d6" stroke-width="0.9"/><text x="1290.6" y="890.7" font-size="12.7" text-anchor="middle" font-weight="normal" fill="#161616">40%</text><line x1="1344.2" y1="538.7" x2="1344.2" y2="870.7" stroke="#d6d6d6" stroke-width="0.9"/><text x="1344.2" y="890.7" font-size="12.7" text-anchor="middle" font-weight="normal" fill="#161616">50%</text><line x1="1397.9" y1="538.7" x2="1397.9" y2="870.7" stroke="#d6d6d6" stroke-width="0.9"/><text x="1397.9" y="890.7" font-size="12.7" text-anchor="middle" font-weight="normal" fill="#161616">60%</text><line x1="1451.5" y1="538.7" x2="1451.5" y2="870.7" stroke="#d6d6d6" stroke-width="0.9"/><text x="1451.5" y="890.7" font-size="12.7" text-anchor="middle" font-weight="normal" fill="#161616">70%</text><line x1="1505.1" y1="538.7" x2="1505.1" y2="870.7" stroke="#d6d6d6" stroke-width="0.9"/><text x="1505.1" y="890.7" font-size="12.7" text-anchor="middle" font-weight="normal" fill="#161616">80%</text><line x1="1558.7" y1="538.7" x2="1558.7" y2="870.7" stroke="#d6d6d6" stroke-width="0.9"/><text x="1558.7" y="890.7" font-size="12.7" text-anchor="middle" font-weight="normal" fill="#161616">90%</text><line x1="1612.4" y1="538.7" x2="1612.4" y2="870.7" stroke="#d6d6d6" stroke-width="0.9"/><text x="1612.4" y="890.7" font-size="12.7" text-anchor="middle" font-weight="normal" fill="#161616">100%</text><line x1="1076.2" y1="702.4" x2="1639.2" y2="702.4" stroke="#5a5a5a" stroke-width="2"/><text x="1143.6" y="501.6" font-size="18.4" text-anchor="start" font-weight="bold" fill="#000" textLength="394.4" lengthAdjust="spacingAndGlyphs">Saturation Luminance (Reference BT.2020, mWP)</text><text x="1188.4" y="525.4" font-size="18.4" text-anchor="start" font-weight="bold" fill="#000" textLength="305.4" lengthAdjust="spacingAndGlyphs">Auto, LD: Hgh Smooth, Halo Control: 0</text><clipPath id="cp2"><rect x="1068.2" y="538.7" width="579.0" height="333.4"/></clipPath>
<rect x="1079.8" y="541.2" width="328.5" height="68" fill="#bfbfbf" fill-opacity="0.82"/>
<line x1="1097.7" y1="552.6" x2="1119.1" y2="552.6" stroke="#ff3030" stroke-width="1.5"/><circle cx="1108.4" cy="552.6" r="3.6" fill="#ff0000"/>
<text x="1124.2" y="557.2" font-size="13.3" text-anchor="start" font-weight="normal" fill="#161616" textLength="76.1" lengthAdjust="spacingAndGlyphs">Red : -45.8%</text>
<line x1="1261.8" y1="552.6" x2="1283.2" y2="552.6" stroke="#3cb44b" stroke-width="1.5"/><circle cx="1272.5" cy="552.6" r="3.6" fill="#3cb44b"/>
<text x="1288.7" y="557.2" font-size="13.3" text-anchor="start" font-weight="normal" fill="#161616" textLength="90.8" lengthAdjust="spacingAndGlyphs">Green : -36.5%</text>
<line x1="1097.7" y1="575.3" x2="1119.1" y2="575.3" stroke="#6666ff" stroke-width="1.5"/><circle cx="1108.4" cy="575.3" r="3.6" fill="#6666ff"/>
<text x="1124.2" y="579.9" font-size="13.3" text-anchor="start" font-weight="normal" fill="#161616" textLength="80.1" lengthAdjust="spacingAndGlyphs">Blue : -56.5%</text>
<line x1="1261.8" y1="575.3" x2="1283.2" y2="575.3" stroke="#20b2aa" stroke-width="1.5"/><circle cx="1272.5" cy="575.3" r="3.6" fill="#20b2aa"/>
<text x="1288.7" y="579.9" font-size="13.3" text-anchor="start" font-weight="normal" fill="#161616" textLength="83.5" lengthAdjust="spacingAndGlyphs">Cyan : -36.3%</text>
<line x1="1097.7" y1="598.0" x2="1119.1" y2="598.0" stroke="#dc46dc" stroke-width="1.5"/><circle cx="1108.4" cy="598.0" r="3.6" fill="#dc46dc"/>
<text x="1124.2" y="602.6" font-size="13.3" text-anchor="start" font-weight="normal" fill="#161616" textLength="105.0" lengthAdjust="spacingAndGlyphs">Magenta : -43.8%</text>
<line x1="1261.8" y1="598.0" x2="1283.2" y2="598.0" stroke="#ffc000" stroke-width="1.5"/><circle cx="1272.5" cy="598.0" r="3.6" fill="#ffc000"/>
<text x="1288.7" y="602.6" font-size="13.3" text-anchor="start" font-weight="normal" fill="#161616" textLength="93.2" lengthAdjust="spacingAndGlyphs">Yellow : -45.8%</text>
<g clip-path="url(#cp2)">
<polyline points="1129.8,688.6 1183.4,669.7 1237.0,658.9 1290.6,642.2 1344.2,628.4 1397.9,617.6 1451.5,601.9 1505.1,595.7 1558.7,580.0 1612.4,542.6" fill="none" stroke="#ff3030" stroke-width="1.75" stroke-linejoin="round"/>
<circle cx="1129.8" cy="688.6" r="3.7" fill="#ff0000"/><circle cx="1183.4" cy="669.7" r="3.7" fill="#ff0000"/><circle cx="1237.0" cy="658.9" r="3.7" fill="#ff0000"/><circle cx="1290.6" cy="642.2" r="3.7" fill="#ff0000"/><circle cx="1344.2" cy="628.4" r="3.7" fill="#ff0000"/><circle cx="1397.9" cy="617.6" r="3.7" fill="#ff0000"/><circle cx="1451.5" cy="601.9" r="3.7" fill="#ff0000"/><circle cx="1505.1" cy="595.7" r="3.7" fill="#ff0000"/><circle cx="1558.7" cy="580.0" r="3.7" fill="#ff0000"/><circle cx="1612.4" cy="542.6" r="3.7" fill="#ff0000"/>
<polyline points="1129.8,703.7 1183.4,699.5 1237.0,699.1 1290.6,697.2 1344.2,696.5 1397.9,696.2 1451.5,700.4 1505.1,694.9 1558.7,689.3 1612.4,684.1" fill="none" stroke="#3cb44b" stroke-width="1.75" stroke-linejoin="round"/>
<circle cx="1129.8" cy="703.7" r="3.7" fill="#3cb44b"/><circle cx="1183.4" cy="699.5" r="3.7" fill="#3cb44b"/><circle cx="1237.0" cy="699.1" r="3.7" fill="#3cb44b"/><circle cx="1290.6" cy="697.2" r="3.7" fill="#3cb44b"/><circle cx="1344.2" cy="696.5" r="3.7" fill="#3cb44b"/><circle cx="1397.9" cy="696.2" r="3.7" fill="#3cb44b"/><circle cx="1451.5" cy="700.4" r="3.7" fill="#3cb44b"/><circle cx="1505.1" cy="694.9" r="3.7" fill="#3cb44b"/><circle cx="1558.7" cy="689.3" r="3.7" fill="#3cb44b"/><circle cx="1612.4" cy="684.1" r="3.7" fill="#3cb44b"/>
<polyline points="1129.8,687.7 1183.4,676.5 1237.0,672.9 1290.6,656.2 1344.2,640.5 1397.9,628.4 1451.5,600.9 1505.1,581.9 1558.7,520.4 1612.4,473.2" fill="none" stroke="#6666ff" stroke-width="1.75" stroke-linejoin="round"/>
<circle cx="1129.8" cy="687.7" r="3.7" fill="#6666ff"/><circle cx="1183.4" cy="676.5" r="3.7" fill="#6666ff"/><circle cx="1237.0" cy="672.9" r="3.7" fill="#6666ff"/><circle cx="1290.6" cy="656.2" r="3.7" fill="#6666ff"/><circle cx="1344.2" cy="640.5" r="3.7" fill="#6666ff"/><circle cx="1397.9" cy="628.4" r="3.7" fill="#6666ff"/><circle cx="1451.5" cy="600.9" r="3.7" fill="#6666ff"/><circle cx="1505.1" cy="581.9" r="3.7" fill="#6666ff"/><circle cx="1558.7" cy="520.4" r="3.7" fill="#6666ff"/><circle cx="1612.4" cy="473.2" r="3.7" fill="#6666ff"/>
<polyline points="1129.8,703.4 1183.4,700.4 1237.0,698.5 1290.6,696.8 1344.2,696.2 1397.9,695.2 1451.5,693.9 1505.1,697.2 1558.7,683.7 1612.4,672.0" fill="none" stroke="#20b2aa" stroke-width="1.75" stroke-linejoin="round"/>
<circle cx="1129.8" cy="703.4" r="3.7" fill="#20b2aa"/><circle cx="1183.4" cy="700.4" r="3.7" fill="#20b2aa"/><circle cx="1237.0" cy="698.5" r="3.7" fill="#20b2aa"/><circle cx="1290.6" cy="696.8" r="3.7" fill="#20b2aa"/><circle cx="1344.2" cy="696.2" r="3.7" fill="#20b2aa"/><circle cx="1397.9" cy="695.2" r="3.7" fill="#20b2aa"/><circle cx="1451.5" cy="693.9" r="3.7" fill="#20b2aa"/><circle cx="1505.1" cy="697.2" r="3.7" fill="#20b2aa"/><circle cx="1558.7" cy="683.7" r="3.7" fill="#20b2aa"/><circle cx="1612.4" cy="672.0" r="3.7" fill="#20b2aa"/>
<polyline points="1129.8,699.5 1183.4,688.3 1237.0,680.5 1290.6,676.9 1344.2,667.0 1397.9,653.9 1451.5,644.1 1505.1,630.7 1558.7,614.7 1612.4,595.0" fill="none" stroke="#dc46dc" stroke-width="1.75" stroke-linejoin="round"/>
<circle cx="1129.8" cy="699.5" r="3.7" fill="#dc46dc"/><circle cx="1183.4" cy="688.3" r="3.7" fill="#dc46dc"/><circle cx="1237.0" cy="680.5" r="3.7" fill="#dc46dc"/><circle cx="1290.6" cy="676.9" r="3.7" fill="#dc46dc"/><circle cx="1344.2" cy="667.0" r="3.7" fill="#dc46dc"/><circle cx="1397.9" cy="653.9" r="3.7" fill="#dc46dc"/><circle cx="1451.5" cy="644.1" r="3.7" fill="#dc46dc"/><circle cx="1505.1" cy="630.7" r="3.7" fill="#dc46dc"/><circle cx="1558.7" cy="614.7" r="3.7" fill="#dc46dc"/><circle cx="1612.4" cy="595.0" r="3.7" fill="#dc46dc"/>
<polyline points="1129.8,705.0 1183.4,703.7 1237.0,702.1 1290.6,701.4 1344.2,699.5 1397.9,699.8 1451.5,700.8 1505.1,697.8 1558.7,699.1 1612.4,698.1" fill="none" stroke="#ffc000" stroke-width="1.75" stroke-linejoin="round"/>
<circle cx="1129.8" cy="705.0" r="3.7" fill="#ffc000"/><circle cx="1183.4" cy="703.7" r="3.7" fill="#ffc000"/><circle cx="1237.0" cy="702.1" r="3.7" fill="#ffc000"/><circle cx="1290.6" cy="701.4" r="3.7" fill="#ffc000"/><circle cx="1344.2" cy="699.5" r="3.7" fill="#ffc000"/><circle cx="1397.9" cy="699.8" r="3.7" fill="#ffc000"/><circle cx="1451.5" cy="700.8" r="3.7" fill="#ffc000"/><circle cx="1505.1" cy="697.8" r="3.7" fill="#ffc000"/><circle cx="1558.7" cy="699.1" r="3.7" fill="#ffc000"/><circle cx="1612.4" cy="698.1" r="3.7" fill="#ffc000"/>
</g>
<line x1="1076.2" y1="852.7" x2="1119.0" y2="852.7" stroke="#ff0000" stroke-width="2.4"/>
<path d="M1113.6 852.7 l5.4 -5.4 l5.4 5.4 l-5.4 5.4 Z" fill="#ff0000"/>
<line x1="1076.2" y1="821.9" x2="1113.7" y2="821.9" stroke="#3cb44b" stroke-width="2.4"/>
<path d="M1108.3 821.9 l5.4 -5.4 l5.4 5.4 l-5.4 5.4 Z" fill="#3cb44b"/>
<line x1="1076.2" y1="821.9" x2="1103.0" y2="821.9" stroke="#20b2aa" stroke-width="2.4"/>
<path d="M1070.2 821.9 l5.4 -5.4 l5.4 5.4 l-5.4 5.4 Z" fill="#20b2aa"/><path d="M1097.6 821.9 l5.4 -5.4 l5.4 5.4 l-5.4 5.4 Z" fill="#20b2aa"/>
<line x1="1076.2" y1="845.8" x2="1097.6" y2="845.8" stroke="#dc46dc" stroke-width="2.4"/>
<path d="M1070.2 845.8 l5.4 -5.4 l5.4 5.4 l-5.4 5.4 Z" fill="#dc46dc"/><path d="M1092.2 845.8 l5.4 -5.4 l5.4 5.4 l-5.4 5.4 Z" fill="#dc46dc"/>
<line x1="1076.2" y1="852.7" x2="1092.2" y2="852.7" stroke="#ffc000" stroke-width="2.4"/>
<path d="M1070.2 852.7 l5.4 -5.4 l5.4 5.4 l-5.4 5.4 Z" fill="#ffc000"/><path d="M1086.8 852.7 l5.4 -5.4 l5.4 5.4 l-5.4 5.4 Z" fill="#ffc000"/>
</svg></body></html>
